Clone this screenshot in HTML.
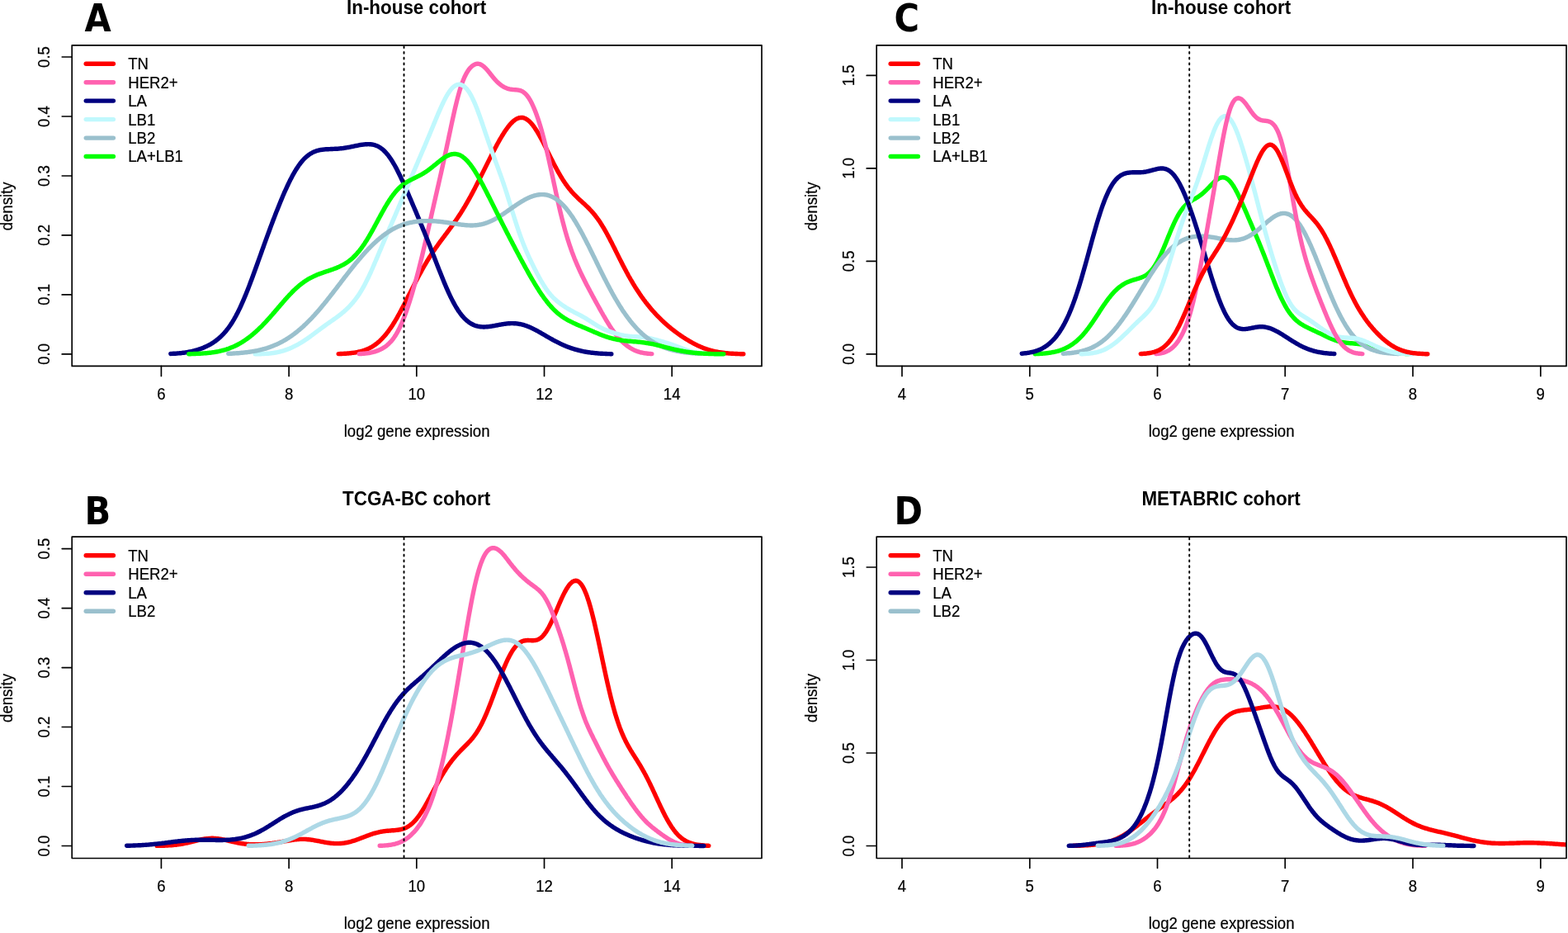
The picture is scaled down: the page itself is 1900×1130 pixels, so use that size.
<!DOCTYPE html>
<html lang="en"><head><meta charset="utf-8"><title>Density of log2 gene expression by cohort</title>
<style>
html,body{margin:0;padding:0;background:#fff}
body{width:1900px;height:1130px;overflow:hidden}
svg{display:block;filter:blur(0.55px)}
svg text{font-family:"Liberation Sans",sans-serif;fill:#000}
</style></head>
<body>
<svg width="1900" height="1130" viewBox="0 0 1900 1130">
<rect width="1900" height="1130" fill="#fff"/>
<g id="panel-A">
<clipPath id="clipA"><rect x="87.2" y="54.8" width="835.8" height="388.6"/></clipPath>
<g clip-path="url(#clipA)" fill="none" stroke-width="5.4" stroke-linecap="round" stroke-linejoin="round">
<path d="M410.2,428.6 411.2,428.6 412.2,428.5 413.2,428.5 414.2,428.5 415.2,428.4 416.2,428.4 417.2,428.3 418.2,428.2 419.2,428.2 420.2,428.1 421.2,428.0 422.2,428.0 423.2,427.9 424.2,427.8 425.2,427.7 426.2,427.5 427.2,427.4 428.2,427.3 429.2,427.1 430.2,427.0 431.2,426.8 432.2,426.6 433.2,426.5 434.2,426.2 435.2,426.0 436.2,425.8 437.2,425.5 438.2,425.3 439.2,425.0 440.2,424.7 441.2,424.3 442.2,424.0 443.2,423.6 444.2,423.2 445.2,422.8 446.2,422.3 447.2,421.9 448.2,421.4 449.2,420.8 450.2,420.3 451.2,419.7 452.2,419.1 453.2,418.4 454.2,417.7 455.2,417.0 456.2,416.3 457.2,415.5 458.2,414.6 459.2,413.8 460.2,412.9 461.2,411.9 462.2,410.9 463.2,409.9 464.2,408.8 465.2,407.7 466.2,406.6 467.2,405.4 468.2,404.2 469.2,402.9 470.2,401.6 471.2,400.2 472.2,398.8 473.2,397.4 474.2,395.9 475.2,394.4 476.2,392.9 477.2,391.3 478.2,389.7 479.2,388.0 480.2,386.3 481.2,384.6 482.2,382.8 483.2,381.0 484.2,379.2 485.2,377.4 486.2,375.5 487.2,373.6 488.2,371.7 489.2,369.8 490.2,367.9 491.2,365.9 492.2,364.0 493.2,362.0 494.2,360.0 495.2,358.0 496.2,356.1 497.2,354.1 498.2,352.1 499.2,350.1 500.2,348.1 501.2,346.2 502.2,344.2 503.2,342.3 504.2,340.3 505.2,338.4 506.2,336.5 507.2,334.6 508.2,332.7 509.2,330.9 510.2,329.1 511.2,327.3 512.2,325.5 513.2,323.7 514.2,322.0 515.2,320.2 516.2,318.6 517.2,316.9 518.2,315.2 519.2,313.6 520.2,312.0 521.2,310.4 522.2,308.9 523.2,307.3 524.2,305.8 525.2,304.3 526.2,302.9 527.2,301.4 528.2,300.0 529.2,298.6 530.2,297.2 531.2,295.8 532.2,294.4 533.2,293.0 534.2,291.7 535.2,290.3 536.2,289.0 537.2,287.6 538.2,286.3 539.2,285.0 540.2,283.6 541.2,282.3 542.2,281.0 543.2,279.6 544.2,278.3 545.2,276.9 546.2,275.6 547.2,274.2 548.2,272.8 549.2,271.5 550.2,270.0 551.2,268.6 552.2,267.2 553.2,265.7 554.2,264.3 555.2,262.8 556.2,261.3 557.2,259.7 558.2,258.2 559.2,256.6 560.2,255.0 561.2,253.4 562.2,251.7 563.2,250.1 564.2,248.4 565.2,246.7 566.2,244.9 567.2,243.2 568.2,241.4 569.2,239.6 570.2,237.8 571.2,235.9 572.2,234.1 573.2,232.2 574.2,230.3 575.2,228.4 576.2,226.4 577.2,224.5 578.2,222.5 579.2,220.6 580.2,218.6 581.2,216.6 582.2,214.6 583.2,212.6 584.2,210.6 585.2,208.6 586.2,206.6 587.2,204.6 588.2,202.6 589.2,200.6 590.2,198.6 591.2,196.6 592.2,194.6 593.2,192.6 594.2,190.6 595.2,188.7 596.2,186.7 597.2,184.8 598.2,182.8 599.2,180.9 600.2,179.0 601.2,177.2 602.2,175.3 603.2,173.5 604.2,171.7 605.2,169.9 606.2,168.2 607.2,166.5 608.2,164.8 609.2,163.2 610.2,161.6 611.2,160.0 612.2,158.5 613.2,157.1 614.2,155.7 615.2,154.3 616.2,153.0 617.2,151.8 618.2,150.6 619.2,149.5 620.2,148.5 621.2,147.5 622.2,146.6 623.2,145.8 624.2,145.1 625.2,144.4 626.2,143.9 627.2,143.4 628.2,143.0 629.2,142.7 630.2,142.6 631.2,142.5 632.2,142.5 633.2,142.5 634.2,142.7 635.2,143.0 636.2,143.4 637.2,143.9 638.2,144.5 639.2,145.2 640.2,145.9 641.2,146.8 642.2,147.7 643.2,148.8 644.2,149.9 645.2,151.1 646.2,152.4 647.2,153.8 648.2,155.2 649.2,156.7 650.2,158.3 651.2,159.9 652.2,161.6 653.2,163.3 654.2,165.1 655.2,166.9 656.2,168.8 657.2,170.7 658.2,172.6 659.2,174.6 660.2,176.6 661.2,178.6 662.2,180.6 663.2,182.6 664.2,184.6 665.2,186.6 666.2,188.7 667.2,190.7 668.2,192.7 669.2,194.6 670.2,196.6 671.2,198.6 672.2,200.5 673.2,202.4 674.2,204.2 675.2,206.1 676.2,207.9 677.2,209.7 678.2,211.4 679.2,213.1 680.2,214.8 681.2,216.4 682.2,218.0 683.2,219.5 684.2,221.0 685.2,222.4 686.2,223.9 687.2,225.2 688.2,226.6 689.2,227.9 690.2,229.1 691.2,230.3 692.2,231.5 693.2,232.7 694.2,233.8 695.2,234.9 696.2,235.9 697.2,236.9 698.2,237.9 699.2,238.9 700.2,239.9 701.2,240.8 702.2,241.8 703.2,242.7 704.2,243.6 705.2,244.5 706.2,245.4 707.2,246.3 708.2,247.2 709.2,248.2 710.2,249.1 711.2,250.1 712.2,251.0 713.2,252.0 714.2,253.0 715.2,254.1 716.2,255.1 717.2,256.2 718.2,257.4 719.2,258.5 720.2,259.8 721.2,261.0 722.2,262.3 723.2,263.6 724.2,265.0 725.2,266.4 726.2,267.8 727.2,269.3 728.2,270.9 729.2,272.5 730.2,274.1 731.2,275.7 732.2,277.4 733.2,279.2 734.2,280.9 735.2,282.7 736.2,284.6 737.2,286.4 738.2,288.3 739.2,290.2 740.2,292.2 741.2,294.1 742.2,296.1 743.2,298.1 744.2,300.0 745.2,302.0 746.2,304.1 747.2,306.1 748.2,308.1 749.2,310.1 750.2,312.1 751.2,314.1 752.2,316.0 753.2,318.0 754.2,320.0 755.2,321.9 756.2,323.8 757.2,325.7 758.2,327.6 759.2,329.5 760.2,331.3 761.2,333.2 762.2,335.0 763.2,336.7 764.2,338.5 765.2,340.2 766.2,341.9 767.2,343.6 768.2,345.2 769.2,346.9 770.2,348.5 771.2,350.0 772.2,351.6 773.2,353.1 774.2,354.6 775.2,356.1 776.2,357.5 777.2,359.0 778.2,360.4 779.2,361.7 780.2,363.1 781.2,364.4 782.2,365.8 783.2,367.1 784.2,368.3 785.2,369.6 786.2,370.8 787.2,372.0 788.2,373.2 789.2,374.4 790.2,375.6 791.2,376.7 792.2,377.8 793.2,378.9 794.2,380.0 795.2,381.1 796.2,382.1 797.2,383.2 798.2,384.2 799.2,385.2 800.2,386.2 801.2,387.2 802.2,388.1 803.2,389.1 804.2,390.0 805.2,390.9 806.2,391.8 807.2,392.7 808.2,393.6 809.2,394.4 810.2,395.3 811.2,396.1 812.2,396.9 813.2,397.8 814.2,398.6 815.2,399.3 816.2,400.1 817.2,400.9 818.2,401.7 819.2,402.4 820.2,403.1 821.2,403.9 822.2,404.6 823.2,405.3 824.2,406.0 825.2,406.7 826.2,407.4 827.2,408.0 828.2,408.7 829.2,409.3 830.2,410.0 831.2,410.6 832.2,411.2 833.2,411.8 834.2,412.4 835.2,413.0 836.2,413.6 837.2,414.2 838.2,414.7 839.2,415.3 840.2,415.8 841.2,416.4 842.2,416.9 843.2,417.4 844.2,417.9 845.2,418.4 846.2,418.8 847.2,419.3 848.2,419.7 849.2,420.2 850.2,420.6 851.2,421.0 852.2,421.4 853.2,421.8 854.2,422.1 855.2,422.5 856.2,422.8 857.2,423.2 858.2,423.5 859.2,423.8 860.2,424.1 861.2,424.4 862.2,424.6 863.2,424.9 864.2,425.1 865.2,425.4 866.2,425.6 867.2,425.8 868.2,426.0 869.2,426.2 870.2,426.4 871.2,426.6 872.2,426.7 873.2,426.9 874.2,427.0 875.2,427.2 876.2,427.3 877.2,427.4 878.2,427.5 879.2,427.6 880.2,427.7 881.2,427.8 882.2,427.9 883.2,428.0 884.2,428.1 885.2,428.1 886.2,428.2 887.2,428.3 888.2,428.3 889.2,428.4 890.2,428.4 891.2,428.5 892.2,428.5 893.2,428.5 894.2,428.6 895.2,428.6 896.2,428.6 897.2,428.7 898.2,428.7 899.2,428.7 900.2,428.7 900.8,428.7" stroke="#ff0000"/>
<path d="M435.2,428.6 436.2,428.6 437.2,428.5 438.2,428.5 439.2,428.4 440.2,428.3 441.2,428.2 442.2,428.1 443.2,428.0 444.2,427.9 445.2,427.8 446.2,427.6 447.2,427.5 448.2,427.3 449.2,427.1 450.2,426.9 451.2,426.7 452.2,426.4 453.2,426.2 454.2,425.9 455.2,425.6 456.2,425.2 457.2,424.9 458.2,424.5 459.2,424.1 460.2,423.6 461.2,423.2 462.2,422.7 463.2,422.1 464.2,421.5 465.2,420.9 466.2,420.3 467.2,419.6 468.2,418.8 469.2,418.0 470.2,417.1 471.2,416.2 472.2,415.2 473.2,414.2 474.2,413.1 475.2,411.9 476.2,410.6 477.2,409.2 478.2,407.8 479.2,406.2 480.2,404.6 481.2,402.9 482.2,401.0 483.2,399.1 484.2,397.1 485.2,395.0 486.2,392.8 487.2,390.5 488.2,388.1 489.2,385.6 490.2,383.0 491.2,380.3 492.2,377.5 493.2,374.7 494.2,371.7 495.2,368.7 496.2,365.6 497.2,362.5 498.2,359.3 499.2,356.0 500.2,352.6 501.2,349.1 502.2,345.6 503.2,342.1 504.2,338.4 505.2,334.7 506.2,330.9 507.2,327.1 508.2,323.2 509.2,319.2 510.2,315.2 511.2,311.1 512.2,306.9 513.2,302.7 514.2,298.5 515.2,294.2 516.2,289.8 517.2,285.5 518.2,281.1 519.2,276.7 520.2,272.2 521.2,267.8 522.2,263.4 523.2,258.9 524.2,254.5 525.2,250.1 526.2,245.7 527.2,241.3 528.2,236.9 529.2,232.6 530.2,228.2 531.2,223.8 532.2,219.4 533.2,215.0 534.2,210.6 535.2,206.1 536.2,201.6 537.2,197.1 538.2,192.5 539.2,187.9 540.2,183.3 541.2,178.6 542.2,173.9 543.2,169.2 544.2,164.4 545.2,159.7 546.2,155.0 547.2,150.3 548.2,145.6 549.2,141.1 550.2,136.6 551.2,132.2 552.2,128.0 553.2,123.8 554.2,119.9 555.2,116.1 556.2,112.5 557.2,109.1 558.2,105.9 559.2,102.8 560.2,100.0 561.2,97.4 562.2,95.0 563.2,92.7 564.2,90.7 565.2,88.8 566.2,87.1 567.2,85.5 568.2,84.1 569.2,82.9 570.2,81.8 571.2,80.8 572.2,79.9 573.2,79.2 574.2,78.6 575.2,78.1 576.2,77.7 577.2,77.4 578.2,77.3 579.2,77.3 580.2,77.4 581.2,77.6 582.2,78.0 583.2,78.5 584.2,79.1 585.2,79.8 586.2,80.6 587.2,81.5 588.2,82.4 589.2,83.5 590.2,84.6 591.2,85.8 592.2,87.0 593.2,88.2 594.2,89.5 595.2,90.8 596.2,92.0 597.2,93.2 598.2,94.4 599.2,95.6 600.2,96.7 601.2,97.8 602.2,98.8 603.2,99.8 604.2,100.7 605.2,101.6 606.2,102.4 607.2,103.2 608.2,103.9 609.2,104.5 610.2,105.1 611.2,105.7 612.2,106.1 613.2,106.6 614.2,107.0 615.2,107.3 616.2,107.6 617.2,107.9 618.2,108.1 619.2,108.2 620.2,108.4 621.2,108.5 622.2,108.6 623.2,108.6 624.2,108.7 625.2,108.8 626.2,108.9 627.2,109.0 628.2,109.1 629.2,109.3 630.2,109.6 631.2,109.9 632.2,110.4 633.2,110.9 634.2,111.5 635.2,112.3 636.2,113.1 637.2,114.1 638.2,115.2 639.2,116.5 640.2,117.8 641.2,119.4 642.2,121.0 643.2,122.8 644.2,124.7 645.2,126.8 646.2,129.0 647.2,131.3 648.2,133.7 649.2,136.3 650.2,139.0 651.2,141.8 652.2,144.7 653.2,147.8 654.2,151.0 655.2,154.3 656.2,157.8 657.2,161.4 658.2,165.1 659.2,168.9 660.2,172.8 661.2,176.9 662.2,181.1 663.2,185.3 664.2,189.7 665.2,194.1 666.2,198.6 667.2,203.2 668.2,207.8 669.2,212.4 670.2,217.0 671.2,221.7 672.2,226.3 673.2,231.0 674.2,235.5 675.2,240.1 676.2,244.5 677.2,248.9 678.2,253.3 679.2,257.5 680.2,261.6 681.2,265.6 682.2,269.5 683.2,273.3 684.2,277.0 685.2,280.6 686.2,284.0 687.2,287.4 688.2,290.6 689.2,293.8 690.2,296.8 691.2,299.7 692.2,302.6 693.2,305.4 694.2,308.0 695.2,310.6 696.2,313.2 697.2,315.6 698.2,318.0 699.2,320.4 700.2,322.7 701.2,324.9 702.2,327.1 703.2,329.3 704.2,331.4 705.2,333.5 706.2,335.5 707.2,337.5 708.2,339.5 709.2,341.5 710.2,343.5 711.2,345.4 712.2,347.3 713.2,349.2 714.2,351.1 715.2,353.0 716.2,354.8 717.2,356.7 718.2,358.6 719.2,360.4 720.2,362.2 721.2,364.1 722.2,365.9 723.2,367.7 724.2,369.5 725.2,371.3 726.2,373.1 727.2,374.9 728.2,376.7 729.2,378.5 730.2,380.2 731.2,382.0 732.2,383.7 733.2,385.4 734.2,387.1 735.2,388.8 736.2,390.4 737.2,392.0 738.2,393.6 739.2,395.2 740.2,396.7 741.2,398.2 742.2,399.6 743.2,401.0 744.2,402.4 745.2,403.7 746.2,405.0 747.2,406.3 748.2,407.5 749.2,408.7 750.2,409.8 751.2,410.9 752.2,411.9 753.2,413.0 754.2,413.9 755.2,414.9 756.2,415.8 757.2,416.6 758.2,417.5 759.2,418.3 760.2,419.0 761.2,419.8 762.2,420.4 763.2,421.1 764.2,421.7 765.2,422.3 766.2,422.9 767.2,423.4 768.2,423.9 769.2,424.3 770.2,424.8 771.2,425.2 772.2,425.5 773.2,425.9 774.2,426.2 775.2,426.5 776.2,426.8 777.2,427.0 778.2,427.2 779.2,427.4 780.2,427.6 781.2,427.8 782.2,427.9 783.2,428.0 784.2,428.2 785.2,428.3 786.2,428.4 787.2,428.4 788.2,428.5 789.2,428.6 789.8,428.6" stroke="#ff62b0"/>
<path d="M206.8,428.5 207.8,428.4 208.8,428.4 209.8,428.3 210.8,428.3 211.8,428.2 212.8,428.2 213.8,428.1 214.8,428.0 215.8,427.9 216.8,427.9 217.8,427.8 218.8,427.7 219.8,427.6 220.8,427.4 221.8,427.3 222.8,427.2 223.8,427.1 224.8,426.9 225.8,426.8 226.8,426.6 227.8,426.4 228.8,426.2 229.8,426.0 230.8,425.8 231.8,425.6 232.8,425.4 233.8,425.2 234.8,424.9 235.8,424.7 236.8,424.4 237.8,424.1 238.8,423.8 239.8,423.5 240.8,423.2 241.8,422.9 242.8,422.5 243.8,422.2 244.8,421.8 245.8,421.4 246.8,421.0 247.8,420.5 248.8,420.1 249.8,419.6 250.8,419.2 251.8,418.7 252.8,418.2 253.8,417.6 254.8,417.1 255.8,416.5 256.8,415.9 257.8,415.3 258.8,414.6 259.8,413.9 260.8,413.2 261.8,412.5 262.8,411.7 263.8,410.9 264.8,410.1 265.8,409.2 266.8,408.4 267.8,407.4 268.8,406.4 269.8,405.4 270.8,404.4 271.8,403.3 272.8,402.1 273.8,401.0 274.8,399.7 275.8,398.4 276.8,397.1 277.8,395.7 278.8,394.3 279.8,392.8 280.8,391.2 281.8,389.7 282.8,388.0 283.8,386.3 284.8,384.5 285.8,382.7 286.8,380.8 287.8,378.9 288.8,376.9 289.8,374.9 290.8,372.8 291.8,370.6 292.8,368.4 293.8,366.2 294.8,363.9 295.8,361.5 296.8,359.1 297.8,356.7 298.8,354.2 299.8,351.7 300.8,349.2 301.8,346.6 302.8,344.0 303.8,341.3 304.8,338.7 305.8,336.0 306.8,333.3 307.8,330.5 308.8,327.8 309.8,325.0 310.8,322.3 311.8,319.5 312.8,316.7 313.8,313.9 314.8,311.1 315.8,308.3 316.8,305.5 317.8,302.7 318.8,300.0 319.8,297.2 320.8,294.4 321.8,291.6 322.8,288.9 323.8,286.1 324.8,283.4 325.8,280.7 326.8,278.0 327.8,275.3 328.8,272.6 329.8,270.0 330.8,267.3 331.8,264.7 332.8,262.1 333.8,259.5 334.8,256.9 335.8,254.4 336.8,251.9 337.8,249.4 338.8,246.9 339.8,244.5 340.8,242.1 341.8,239.7 342.8,237.3 343.8,235.0 344.8,232.7 345.8,230.5 346.8,228.3 347.8,226.1 348.8,224.0 349.8,221.9 350.8,219.8 351.8,217.8 352.8,215.9 353.8,214.0 354.8,212.1 355.8,210.3 356.8,208.6 357.8,206.9 358.8,205.3 359.8,203.7 360.8,202.2 361.8,200.7 362.8,199.3 363.8,198.0 364.8,196.7 365.8,195.5 366.8,194.3 367.8,193.2 368.8,192.2 369.8,191.2 370.8,190.3 371.8,189.4 372.8,188.6 373.8,187.8 374.8,187.1 375.8,186.4 376.8,185.8 377.8,185.3 378.8,184.7 379.8,184.2 380.8,183.8 381.8,183.4 382.8,183.0 383.8,182.7 384.8,182.4 385.8,182.2 386.8,181.9 387.8,181.7 388.8,181.5 389.8,181.4 390.8,181.2 391.8,181.1 392.8,181.0 393.8,180.9 394.8,180.8 395.8,180.8 396.8,180.7 397.8,180.7 398.8,180.6 399.8,180.6 400.8,180.5 401.8,180.5 402.8,180.5 403.8,180.4 404.8,180.4 405.8,180.3 406.8,180.3 407.8,180.2 408.8,180.2 409.8,180.1 410.8,180.0 411.8,179.9 412.8,179.8 413.8,179.7 414.8,179.6 415.8,179.5 416.8,179.3 417.8,179.2 418.8,179.0 419.8,178.9 420.8,178.7 421.8,178.5 422.8,178.3 423.8,178.1 424.8,178.0 425.8,177.7 426.8,177.5 427.8,177.3 428.8,177.1 429.8,176.9 430.8,176.7 431.8,176.5 432.8,176.3 433.8,176.1 434.8,175.9 435.8,175.7 436.8,175.5 437.8,175.4 438.8,175.2 439.8,175.1 440.8,175.0 441.8,174.9 442.8,174.8 443.8,174.7 444.8,174.7 445.8,174.6 446.8,174.6 447.8,174.7 448.8,174.7 449.8,174.8 450.8,175.0 451.8,175.2 452.8,175.4 453.8,175.6 454.8,176.0 455.8,176.3 456.8,176.7 457.8,177.2 458.8,177.7 459.8,178.3 460.8,178.9 461.8,179.6 462.8,180.3 463.8,181.1 464.8,182.0 465.8,183.0 466.8,184.0 467.8,185.1 468.8,186.2 469.8,187.4 470.8,188.7 471.8,190.1 472.8,191.5 473.8,193.0 474.8,194.5 475.8,196.1 476.8,197.8 477.8,199.5 478.8,201.3 479.8,203.1 480.8,205.0 481.8,207.0 482.8,209.0 483.8,211.0 484.8,213.0 485.8,215.1 486.8,217.3 487.8,219.4 488.8,221.6 489.8,223.8 490.8,226.1 491.8,228.3 492.8,230.6 493.8,232.9 494.8,235.2 495.8,237.5 496.8,239.8 497.8,242.1 498.8,244.5 499.8,246.8 500.8,249.2 501.8,251.5 502.8,253.9 503.8,256.2 504.8,258.6 505.8,261.0 506.8,263.4 507.8,265.8 508.8,268.2 509.8,270.6 510.8,273.0 511.8,275.4 512.8,277.9 513.8,280.3 514.8,282.8 515.8,285.3 516.8,287.8 517.8,290.3 518.8,292.8 519.8,295.3 520.8,297.8 521.8,300.4 522.8,302.9 523.8,305.5 524.8,308.1 525.8,310.6 526.8,313.2 527.8,315.8 528.8,318.4 529.8,320.9 530.8,323.5 531.8,326.1 532.8,328.6 533.8,331.1 534.8,333.6 535.8,336.1 536.8,338.6 537.8,341.0 538.8,343.4 539.8,345.8 540.8,348.1 541.8,350.4 542.8,352.6 543.8,354.8 544.8,357.0 545.8,359.1 546.8,361.1 547.8,363.1 548.8,365.0 549.8,366.9 550.8,368.7 551.8,370.5 552.8,372.2 553.8,373.8 554.8,375.4 555.8,376.9 556.8,378.3 557.8,379.7 558.8,381.0 559.8,382.2 560.8,383.4 561.8,384.5 562.8,385.6 563.8,386.6 564.8,387.5 565.8,388.4 566.8,389.2 567.8,390.0 568.8,390.7 569.8,391.4 570.8,392.0 571.8,392.5 572.8,393.0 573.8,393.5 574.8,393.9 575.8,394.3 576.8,394.6 577.8,394.9 578.8,395.2 579.8,395.4 580.8,395.5 581.8,395.7 582.8,395.8 583.8,395.9 584.8,395.9 585.8,396.0 586.8,396.0 587.8,395.9 588.8,395.9 589.8,395.8 590.8,395.7 591.8,395.6 592.8,395.5 593.8,395.4 594.8,395.2 595.8,395.1 596.8,394.9 597.8,394.7 598.8,394.6 599.8,394.4 600.8,394.2 601.8,394.0 602.8,393.8 603.8,393.6 604.8,393.4 605.8,393.2 606.8,393.1 607.8,392.9 608.8,392.7 609.8,392.6 610.8,392.4 611.8,392.3 612.8,392.1 613.8,392.0 614.8,391.9 615.8,391.8 616.8,391.7 617.8,391.7 618.8,391.6 619.8,391.6 620.8,391.6 621.8,391.6 622.8,391.7 623.8,391.7 624.8,391.8 625.8,391.9 626.8,392.0 627.8,392.1 628.8,392.3 629.8,392.5 630.8,392.7 631.8,392.9 632.8,393.1 633.8,393.4 634.8,393.7 635.8,394.0 636.8,394.3 637.8,394.7 638.8,395.0 639.8,395.4 640.8,395.8 641.8,396.2 642.8,396.7 643.8,397.1 644.8,397.6 645.8,398.1 646.8,398.6 647.8,399.1 648.8,399.6 649.8,400.1 650.8,400.7 651.8,401.2 652.8,401.8 653.8,402.3 654.8,402.9 655.8,403.5 656.8,404.1 657.8,404.6 658.8,405.2 659.8,405.8 660.8,406.4 661.8,407.0 662.8,407.6 663.8,408.1 664.8,408.7 665.8,409.3 666.8,409.9 667.8,410.4 668.8,411.0 669.8,411.5 670.8,412.1 671.8,412.6 672.8,413.2 673.8,413.7 674.8,414.2 675.8,414.7 676.8,415.2 677.8,415.7 678.8,416.2 679.8,416.6 680.8,417.1 681.8,417.6 682.8,418.0 683.8,418.4 684.8,418.8 685.8,419.3 686.8,419.7 687.8,420.1 688.8,420.4 689.8,420.8 690.8,421.2 691.8,421.5 692.8,421.9 693.8,422.2 694.8,422.5 695.8,422.8 696.8,423.1 697.8,423.4 698.8,423.7 699.8,424.0 700.8,424.2 701.8,424.5 702.8,424.7 703.8,425.0 704.8,425.2 705.8,425.4 706.8,425.6 707.8,425.8 708.8,426.0 709.8,426.2 710.8,426.3 711.8,426.5 712.8,426.7 713.8,426.8 714.8,426.9 715.8,427.1 716.8,427.2 717.8,427.3 718.8,427.4 719.8,427.5 720.8,427.6 721.8,427.7 722.8,427.8 723.8,427.9 724.8,428.0 725.8,428.1 726.8,428.1 727.8,428.2 728.8,428.2 729.8,428.3 730.8,428.4 731.8,428.4 732.8,428.4 733.8,428.5 734.8,428.5 735.8,428.6 736.8,428.6 737.8,428.6 738.8,428.6 739.8,428.7 740.8,428.7" stroke="#000080"/>
<path d="M309.2,428.8 310.2,428.8 311.2,428.8 312.2,428.8 313.2,428.7 314.2,428.7 315.2,428.7 316.2,428.7 317.2,428.6 318.2,428.6 319.2,428.5 320.2,428.5 321.2,428.4 322.2,428.4 323.2,428.3 324.2,428.2 325.2,428.2 326.2,428.1 327.2,428.0 328.2,427.9 329.2,427.7 330.2,427.6 331.2,427.5 332.2,427.3 333.2,427.2 334.2,427.0 335.2,426.8 336.2,426.6 337.2,426.4 338.2,426.2 339.2,426.0 340.2,425.7 341.2,425.4 342.2,425.2 343.2,424.9 344.2,424.6 345.2,424.2 346.2,423.9 347.2,423.5 348.2,423.2 349.2,422.8 350.2,422.4 351.2,422.0 352.2,421.6 353.2,421.1 354.2,420.7 355.2,420.2 356.2,419.7 357.2,419.2 358.2,418.7 359.2,418.2 360.2,417.6 361.2,417.1 362.2,416.5 363.2,415.9 364.2,415.4 365.2,414.7 366.2,414.1 367.2,413.5 368.2,412.9 369.2,412.2 370.2,411.5 371.2,410.9 372.2,410.2 373.2,409.5 374.2,408.8 375.2,408.1 376.2,407.3 377.2,406.6 378.2,405.9 379.2,405.1 380.2,404.4 381.2,403.6 382.2,402.9 383.2,402.1 384.2,401.4 385.2,400.6 386.2,399.9 387.2,399.2 388.2,398.4 389.2,397.7 390.2,396.9 391.2,396.2 392.2,395.5 393.2,394.8 394.2,394.0 395.2,393.3 396.2,392.6 397.2,391.9 398.2,391.2 399.2,390.5 400.2,389.8 401.2,389.1 402.2,388.4 403.2,387.7 404.2,387.0 405.2,386.3 406.2,385.6 407.2,384.9 408.2,384.2 409.2,383.4 410.2,382.7 411.2,381.9 412.2,381.1 413.2,380.3 414.2,379.5 415.2,378.7 416.2,377.9 417.2,377.0 418.2,376.1 419.2,375.2 420.2,374.2 421.2,373.3 422.2,372.3 423.2,371.3 424.2,370.2 425.2,369.1 426.2,368.0 427.2,366.9 428.2,365.7 429.2,364.4 430.2,363.2 431.2,361.9 432.2,360.5 433.2,359.1 434.2,357.7 435.2,356.2 436.2,354.6 437.2,353.0 438.2,351.4 439.2,349.7 440.2,347.9 441.2,346.1 442.2,344.2 443.2,342.3 444.2,340.3 445.2,338.3 446.2,336.3 447.2,334.1 448.2,332.0 449.2,329.8 450.2,327.5 451.2,325.3 452.2,323.0 453.2,320.7 454.2,318.3 455.2,316.0 456.2,313.6 457.2,311.3 458.2,308.9 459.2,306.5 460.2,304.1 461.2,301.8 462.2,299.4 463.2,297.0 464.2,294.7 465.2,292.4 466.2,290.0 467.2,287.7 468.2,285.4 469.2,283.1 470.2,280.8 471.2,278.5 472.2,276.1 473.2,273.8 474.2,271.5 475.2,269.2 476.2,266.9 477.2,264.6 478.2,262.3 479.2,260.0 480.2,257.7 481.2,255.3 482.2,253.0 483.2,250.6 484.2,248.3 485.2,245.9 486.2,243.6 487.2,241.2 488.2,238.8 489.2,236.5 490.2,234.1 491.2,231.7 492.2,229.4 493.2,227.0 494.2,224.6 495.2,222.3 496.2,219.9 497.2,217.5 498.2,215.2 499.2,212.8 500.2,210.5 501.2,208.1 502.2,205.8 503.2,203.5 504.2,201.1 505.2,198.8 506.2,196.5 507.2,194.2 508.2,191.8 509.2,189.5 510.2,187.2 511.2,184.8 512.2,182.5 513.2,180.1 514.2,177.8 515.2,175.5 516.2,173.1 517.2,170.7 518.2,168.3 519.2,166.0 520.2,163.6 521.2,161.2 522.2,158.8 523.2,156.4 524.2,153.9 525.2,151.5 526.2,149.1 527.2,146.7 528.2,144.3 529.2,141.9 530.2,139.5 531.2,137.2 532.2,134.9 533.2,132.6 534.2,130.3 535.2,128.1 536.2,126.0 537.2,123.9 538.2,121.9 539.2,119.9 540.2,118.0 541.2,116.2 542.2,114.5 543.2,112.9 544.2,111.4 545.2,110.0 546.2,108.7 547.2,107.5 548.2,106.4 549.2,105.5 550.2,104.7 551.2,104.0 552.2,103.4 553.2,102.9 554.2,102.6 555.2,102.4 556.2,102.3 557.2,102.3 558.2,102.5 559.2,102.8 560.2,103.3 561.2,103.8 562.2,104.5 563.2,105.3 564.2,106.3 565.2,107.3 566.2,108.5 567.2,109.9 568.2,111.3 569.2,112.9 570.2,114.6 571.2,116.4 572.2,118.4 573.2,120.5 574.2,122.6 575.2,124.9 576.2,127.3 577.2,129.8 578.2,132.3 579.2,135.0 580.2,137.7 581.2,140.4 582.2,143.3 583.2,146.1 584.2,149.0 585.2,152.0 586.2,154.9 587.2,157.9 588.2,160.8 589.2,163.8 590.2,166.7 591.2,169.6 592.2,172.5 593.2,175.4 594.2,178.2 595.2,181.0 596.2,183.8 597.2,186.5 598.2,189.2 599.2,192.0 600.2,194.7 601.2,197.4 602.2,200.1 603.2,202.8 604.2,205.5 605.2,208.3 606.2,211.0 607.2,213.8 608.2,216.7 609.2,219.6 610.2,222.5 611.2,225.5 612.2,228.5 613.2,231.6 614.2,234.7 615.2,237.9 616.2,241.1 617.2,244.3 618.2,247.5 619.2,250.8 620.2,254.0 621.2,257.3 622.2,260.5 623.2,263.7 624.2,266.9 625.2,270.0 626.2,273.1 627.2,276.1 628.2,279.1 629.2,282.0 630.2,284.8 631.2,287.6 632.2,290.3 633.2,292.9 634.2,295.5 635.2,298.0 636.2,300.4 637.2,302.8 638.2,305.1 639.2,307.4 640.2,309.6 641.2,311.8 642.2,313.9 643.2,316.0 644.2,318.1 645.2,320.2 646.2,322.2 647.2,324.2 648.2,326.2 649.2,328.1 650.2,330.1 651.2,332.0 652.2,333.8 653.2,335.7 654.2,337.5 655.2,339.3 656.2,341.0 657.2,342.7 658.2,344.4 659.2,346.0 660.2,347.6 661.2,349.1 662.2,350.5 663.2,351.9 664.2,353.3 665.2,354.6 666.2,355.8 667.2,357.0 668.2,358.1 669.2,359.2 670.2,360.3 671.2,361.3 672.2,362.2 673.2,363.1 674.2,364.0 675.2,364.9 676.2,365.7 677.2,366.5 678.2,367.2 679.2,368.0 680.2,368.7 681.2,369.4 682.2,370.1 683.2,370.7 684.2,371.4 685.2,372.0 686.2,372.7 687.2,373.3 688.2,373.9 689.2,374.5 690.2,375.0 691.2,375.6 692.2,376.1 693.2,376.7 694.2,377.2 695.2,377.8 696.2,378.3 697.2,378.8 698.2,379.3 699.2,379.8 700.2,380.4 701.2,380.9 702.2,381.4 703.2,381.9 704.2,382.5 705.2,383.0 706.2,383.6 707.2,384.2 708.2,384.7 709.2,385.3 710.2,385.9 711.2,386.5 712.2,387.2 713.2,387.8 714.2,388.4 715.2,389.1 716.2,389.7 717.2,390.3 718.2,391.0 719.2,391.6 720.2,392.3 721.2,392.9 722.2,393.5 723.2,394.1 724.2,394.7 725.2,395.3 726.2,395.8 727.2,396.4 728.2,396.9 729.2,397.4 730.2,397.9 731.2,398.4 732.2,398.8 733.2,399.3 734.2,399.7 735.2,400.1 736.2,400.5 737.2,400.9 738.2,401.2 739.2,401.6 740.2,401.9 741.2,402.3 742.2,402.6 743.2,402.9 744.2,403.3 745.2,403.6 746.2,403.9 747.2,404.2 748.2,404.4 749.2,404.7 750.2,405.0 751.2,405.3 752.2,405.5 753.2,405.8 754.2,406.0 755.2,406.2 756.2,406.4 757.2,406.6 758.2,406.7 759.2,406.9 760.2,407.0 761.2,407.2 762.2,407.3 763.2,407.4 764.2,407.5 765.2,407.5 766.2,407.6 767.2,407.7 768.2,407.7 769.2,407.8 770.2,407.8 771.2,407.8 772.2,407.9 773.2,407.9 774.2,408.0 775.2,408.0 776.2,408.1 777.2,408.2 778.2,408.3 779.2,408.4 780.2,408.5 781.2,408.6 782.2,408.8 783.2,408.9 784.2,409.1 785.2,409.3 786.2,409.5 787.2,409.7 788.2,409.9 789.2,410.1 790.2,410.4 791.2,410.6 792.2,410.9 793.2,411.1 794.2,411.4 795.2,411.7 796.2,411.9 797.2,412.2 798.2,412.5 799.2,412.8 800.2,413.0 801.2,413.3 802.2,413.6 803.2,413.9 804.2,414.2 805.2,414.5 806.2,414.8 807.2,415.1 808.2,415.4 809.2,415.7 810.2,416.0 811.2,416.3 812.2,416.7 813.2,417.0 814.2,417.3 815.2,417.7 816.2,418.1 817.2,418.4 818.2,418.8 819.2,419.2 820.2,419.5 821.2,419.9 822.2,420.3 823.2,420.7 824.2,421.1 825.2,421.5 826.2,421.9 827.2,422.2 828.2,422.6 829.2,423.0 830.2,423.4 831.2,423.7 832.2,424.1 833.2,424.4 834.2,424.7 835.2,425.0 836.2,425.3 837.2,425.6 838.2,425.9 839.2,426.1 840.2,426.4 841.2,426.6 842.2,426.8 843.2,427.0 844.2,427.2 845.2,427.4 846.2,427.5 847.2,427.7 848.2,427.8 849.2,427.9 850.2,428.0 851.2,428.1 852.2,428.2 853.2,428.3 854.2,428.4 855.2,428.4 856.2,428.5 856.8,428.5" stroke="#c0f8fd"/>
<path d="M276.8,428.3 277.8,428.3 278.8,428.2 279.8,428.2 280.8,428.2 281.8,428.1 282.8,428.0 283.8,428.0 284.8,427.9 285.8,427.9 286.8,427.8 287.8,427.7 288.8,427.7 289.8,427.6 290.8,427.5 291.8,427.4 292.8,427.3 293.8,427.2 294.8,427.1 295.8,427.0 296.8,426.9 297.8,426.8 298.8,426.7 299.8,426.6 300.8,426.4 301.8,426.3 302.8,426.2 303.8,426.0 304.8,425.9 305.8,425.7 306.8,425.5 307.8,425.4 308.8,425.2 309.8,425.0 310.8,424.8 311.8,424.6 312.8,424.4 313.8,424.2 314.8,423.9 315.8,423.7 316.8,423.4 317.8,423.2 318.8,422.9 319.8,422.6 320.8,422.4 321.8,422.1 322.8,421.8 323.8,421.5 324.8,421.1 325.8,420.8 326.8,420.4 327.8,420.1 328.8,419.7 329.8,419.3 330.8,418.9 331.8,418.5 332.8,418.1 333.8,417.7 334.8,417.3 335.8,416.8 336.8,416.3 337.8,415.9 338.8,415.4 339.8,414.9 340.8,414.3 341.8,413.8 342.8,413.3 343.8,412.7 344.8,412.1 345.8,411.6 346.8,411.0 347.8,410.3 348.8,409.7 349.8,409.1 350.8,408.4 351.8,407.7 352.8,407.1 353.8,406.4 354.8,405.6 355.8,404.9 356.8,404.2 357.8,403.4 358.8,402.6 359.8,401.8 360.8,401.0 361.8,400.2 362.8,399.4 363.8,398.5 364.8,397.7 365.8,396.8 366.8,395.9 367.8,395.0 368.8,394.0 369.8,393.1 370.8,392.2 371.8,391.2 372.8,390.2 373.8,389.2 374.8,388.2 375.8,387.2 376.8,386.1 377.8,385.1 378.8,384.0 379.8,382.9 380.8,381.9 381.8,380.8 382.8,379.6 383.8,378.5 384.8,377.4 385.8,376.2 386.8,375.1 387.8,373.9 388.8,372.7 389.8,371.5 390.8,370.3 391.8,369.1 392.8,367.9 393.8,366.6 394.8,365.4 395.8,364.2 396.8,362.9 397.8,361.6 398.8,360.4 399.8,359.1 400.8,357.8 401.8,356.6 402.8,355.3 403.8,354.0 404.8,352.7 405.8,351.4 406.8,350.1 407.8,348.8 408.8,347.5 409.8,346.2 410.8,344.9 411.8,343.6 412.8,342.3 413.8,340.9 414.8,339.6 415.8,338.3 416.8,337.0 417.8,335.7 418.8,334.4 419.8,333.2 420.8,331.9 421.8,330.6 422.8,329.3 423.8,328.0 424.8,326.8 425.8,325.5 426.8,324.3 427.8,323.0 428.8,321.8 429.8,320.5 430.8,319.3 431.8,318.1 432.8,316.9 433.8,315.7 434.8,314.5 435.8,313.4 436.8,312.2 437.8,311.0 438.8,309.9 439.8,308.8 440.8,307.6 441.8,306.5 442.8,305.4 443.8,304.3 444.8,303.3 445.8,302.2 446.8,301.2 447.8,300.1 448.8,299.1 449.8,298.1 450.8,297.1 451.8,296.2 452.8,295.2 453.8,294.3 454.8,293.3 455.8,292.4 456.8,291.5 457.8,290.6 458.8,289.8 459.8,288.9 460.8,288.1 461.8,287.3 462.8,286.5 463.8,285.7 464.8,284.9 465.8,284.2 466.8,283.5 467.8,282.8 468.8,282.1 469.8,281.4 470.8,280.7 471.8,280.1 472.8,279.5 473.8,278.9 474.8,278.3 475.8,277.7 476.8,277.2 477.8,276.6 478.8,276.1 479.8,275.6 480.8,275.1 481.8,274.7 482.8,274.2 483.8,273.8 484.8,273.4 485.8,273.0 486.8,272.6 487.8,272.2 488.8,271.9 489.8,271.6 490.8,271.3 491.8,271.0 492.8,270.7 493.8,270.4 494.8,270.1 495.8,269.9 496.8,269.7 497.8,269.5 498.8,269.3 499.8,269.1 500.8,268.9 501.8,268.7 502.8,268.6 503.8,268.4 504.8,268.3 505.8,268.2 506.8,268.1 507.8,268.0 508.8,267.9 509.8,267.8 510.8,267.8 511.8,267.7 512.8,267.7 513.8,267.6 514.8,267.6 515.8,267.6 516.8,267.6 517.8,267.6 518.8,267.6 519.8,267.6 520.8,267.6 521.8,267.6 522.8,267.7 523.8,267.7 524.8,267.8 525.8,267.8 526.8,267.9 527.8,267.9 528.8,268.0 529.8,268.1 530.8,268.2 531.8,268.3 532.8,268.4 533.8,268.5 534.8,268.6 535.8,268.7 536.8,268.8 537.8,269.0 538.8,269.1 539.8,269.2 540.8,269.4 541.8,269.5 542.8,269.7 543.8,269.8 544.8,270.0 545.8,270.1 546.8,270.3 547.8,270.4 548.8,270.6 549.8,270.7 550.8,270.9 551.8,271.0 552.8,271.2 553.8,271.4 554.8,271.5 555.8,271.7 556.8,271.8 557.8,271.9 558.8,272.1 559.8,272.2 560.8,272.3 561.8,272.4 562.8,272.5 563.8,272.6 564.8,272.7 565.8,272.8 566.8,272.9 567.8,272.9 568.8,272.9 569.8,273.0 570.8,273.0 571.8,273.0 572.8,273.0 573.8,272.9 574.8,272.9 575.8,272.8 576.8,272.7 577.8,272.6 578.8,272.5 579.8,272.4 580.8,272.2 581.8,272.0 582.8,271.8 583.8,271.6 584.8,271.3 585.8,271.1 586.8,270.8 587.8,270.5 588.8,270.2 589.8,269.8 590.8,269.5 591.8,269.1 592.8,268.7 593.8,268.2 594.8,267.8 595.8,267.3 596.8,266.8 597.8,266.3 598.8,265.8 599.8,265.3 600.8,264.7 601.8,264.2 602.8,263.6 603.8,263.0 604.8,262.4 605.8,261.8 606.8,261.1 607.8,260.5 608.8,259.8 609.8,259.2 610.8,258.5 611.8,257.8 612.8,257.1 613.8,256.4 614.8,255.7 615.8,255.0 616.8,254.3 617.8,253.6 618.8,252.9 619.8,252.2 620.8,251.5 621.8,250.8 622.8,250.1 623.8,249.5 624.8,248.8 625.8,248.1 626.8,247.4 627.8,246.8 628.8,246.1 629.8,245.5 630.8,244.9 631.8,244.2 632.8,243.6 633.8,243.1 634.8,242.5 635.8,241.9 636.8,241.4 637.8,240.9 638.8,240.4 639.8,239.9 640.8,239.4 641.8,239.0 642.8,238.6 643.8,238.2 644.8,237.8 645.8,237.5 646.8,237.2 647.8,236.9 648.8,236.6 649.8,236.4 650.8,236.2 651.8,236.0 652.8,235.8 653.8,235.7 654.8,235.6 655.8,235.6 656.8,235.6 657.8,235.6 658.8,235.6 659.8,235.7 660.8,235.9 661.8,236.0 662.8,236.2 663.8,236.5 664.8,236.7 665.8,237.1 666.8,237.4 667.8,237.8 668.8,238.3 669.8,238.7 670.8,239.3 671.8,239.8 672.8,240.4 673.8,241.1 674.8,241.8 675.8,242.5 676.8,243.3 677.8,244.1 678.8,245.0 679.8,245.9 680.8,246.9 681.8,247.9 682.8,248.9 683.8,250.0 684.8,251.1 685.8,252.3 686.8,253.5 687.8,254.8 688.8,256.0 689.8,257.4 690.8,258.8 691.8,260.2 692.8,261.6 693.8,263.1 694.8,264.6 695.8,266.2 696.8,267.8 697.8,269.4 698.8,271.1 699.8,272.8 700.8,274.5 701.8,276.3 702.8,278.1 703.8,279.9 704.8,281.7 705.8,283.6 706.8,285.5 707.8,287.4 708.8,289.3 709.8,291.2 710.8,293.2 711.8,295.2 712.8,297.1 713.8,299.1 714.8,301.2 715.8,303.2 716.8,305.2 717.8,307.2 718.8,309.3 719.8,311.3 720.8,313.4 721.8,315.4 722.8,317.5 723.8,319.5 724.8,321.6 725.8,323.6 726.8,325.7 727.8,327.7 728.8,329.7 729.8,331.7 730.8,333.7 731.8,335.7 732.8,337.7 733.8,339.6 734.8,341.6 735.8,343.5 736.8,345.4 737.8,347.3 738.8,349.2 739.8,351.1 740.8,352.9 741.8,354.8 742.8,356.6 743.8,358.3 744.8,360.1 745.8,361.8 746.8,363.5 747.8,365.2 748.8,366.9 749.8,368.5 750.8,370.2 751.8,371.7 752.8,373.3 753.8,374.9 754.8,376.4 755.8,377.9 756.8,379.3 757.8,380.7 758.8,382.2 759.8,383.5 760.8,384.9 761.8,386.2 762.8,387.5 763.8,388.8 764.8,390.1 765.8,391.3 766.8,392.5 767.8,393.6 768.8,394.8 769.8,395.9 770.8,397.0 771.8,398.1 772.8,399.1 773.8,400.1 774.8,401.1 775.8,402.1 776.8,403.0 777.8,404.0 778.8,404.8 779.8,405.7 780.8,406.6 781.8,407.4 782.8,408.2 783.8,409.0 784.8,409.7 785.8,410.5 786.8,411.2 787.8,411.9 788.8,412.6 789.8,413.2 790.8,413.8 791.8,414.5 792.8,415.1 793.8,415.6 794.8,416.2 795.8,416.7 796.8,417.3 797.8,417.8 798.8,418.2 799.8,418.7 800.8,419.2 801.8,419.6 802.8,420.0 803.8,420.4 804.8,420.8 805.8,421.2 806.8,421.6 807.8,421.9 808.8,422.2 809.8,422.6 810.8,422.9 811.8,423.2 812.8,423.5 813.8,423.7 814.8,424.0 815.8,424.2 816.8,424.5 817.8,424.7 818.8,424.9 819.8,425.1 820.8,425.4 821.8,425.5 822.8,425.7 823.8,425.9 824.8,426.1 825.8,426.2 826.8,426.4 827.8,426.5 828.8,426.7 829.8,426.8 830.8,426.9 831.8,427.0 832.8,427.1 833.8,427.2 834.8,427.3 835.8,427.4 836.8,427.5 837.8,427.6 838.8,427.7 839.8,427.8 840.8,427.8 841.8,427.9 842.8,428.0 843.8,428.0 844.8,428.1 845.8,428.1 846.8,428.2 847.8,428.2 848.8,428.3" stroke="#9ac0cd"/>
<path d="M228.8,428.7 229.8,428.7 230.8,428.7 231.8,428.6 232.8,428.6 233.8,428.6 234.8,428.5 235.8,428.5 236.8,428.5 237.8,428.4 238.8,428.4 239.8,428.4 240.8,428.3 241.8,428.3 242.8,428.2 243.8,428.1 244.8,428.1 245.8,428.0 246.8,427.9 247.8,427.9 248.8,427.8 249.8,427.7 250.8,427.6 251.8,427.5 252.8,427.4 253.8,427.3 254.8,427.2 255.8,427.1 256.8,426.9 257.8,426.8 258.8,426.6 259.8,426.5 260.8,426.3 261.8,426.2 262.8,426.0 263.8,425.8 264.8,425.6 265.8,425.4 266.8,425.1 267.8,424.9 268.8,424.7 269.8,424.4 270.8,424.1 271.8,423.9 272.8,423.6 273.8,423.3 274.8,422.9 275.8,422.6 276.8,422.3 277.8,421.9 278.8,421.5 279.8,421.1 280.8,420.7 281.8,420.3 282.8,419.9 283.8,419.4 284.8,419.0 285.8,418.5 286.8,418.0 287.8,417.5 288.8,417.0 289.8,416.4 290.8,415.9 291.8,415.3 292.8,414.7 293.8,414.1 294.8,413.4 295.8,412.8 296.8,412.1 297.8,411.4 298.8,410.7 299.8,410.0 300.8,409.3 301.8,408.5 302.8,407.8 303.8,407.0 304.8,406.2 305.8,405.4 306.8,404.5 307.8,403.7 308.8,402.8 309.8,401.9 310.8,401.0 311.8,400.1 312.8,399.2 313.8,398.2 314.8,397.2 315.8,396.3 316.8,395.3 317.8,394.3 318.8,393.2 319.8,392.2 320.8,391.1 321.8,390.1 322.8,389.0 323.8,387.9 324.8,386.8 325.8,385.7 326.8,384.6 327.8,383.5 328.8,382.3 329.8,381.2 330.8,380.0 331.8,378.9 332.8,377.7 333.8,376.5 334.8,375.4 335.8,374.2 336.8,373.0 337.8,371.9 338.8,370.7 339.8,369.5 340.8,368.4 341.8,367.2 342.8,366.1 343.8,364.9 344.8,363.8 345.8,362.6 346.8,361.5 347.8,360.4 348.8,359.3 349.8,358.2 350.8,357.1 351.8,356.1 352.8,355.1 353.8,354.0 354.8,353.0 355.8,352.0 356.8,351.1 357.8,350.1 358.8,349.2 359.8,348.3 360.8,347.4 361.8,346.5 362.8,345.7 363.8,344.9 364.8,344.1 365.8,343.3 366.8,342.6 367.8,341.8 368.8,341.1 369.8,340.5 370.8,339.8 371.8,339.2 372.8,338.5 373.8,337.9 374.8,337.4 375.8,336.8 376.8,336.3 377.8,335.8 378.8,335.3 379.8,334.8 380.8,334.3 381.8,333.9 382.8,333.5 383.8,333.0 384.8,332.6 385.8,332.2 386.8,331.9 387.8,331.5 388.8,331.1 389.8,330.8 390.8,330.4 391.8,330.1 392.8,329.7 393.8,329.4 394.8,329.0 395.8,328.7 396.8,328.4 397.8,328.1 398.8,327.7 399.8,327.4 400.8,327.0 401.8,326.7 402.8,326.3 403.8,326.0 404.8,325.6 405.8,325.2 406.8,324.9 407.8,324.5 408.8,324.0 409.8,323.6 410.8,323.2 411.8,322.7 412.8,322.2 413.8,321.7 414.8,321.2 415.8,320.7 416.8,320.1 417.8,319.5 418.8,318.9 419.8,318.3 420.8,317.6 421.8,316.9 422.8,316.2 423.8,315.4 424.8,314.6 425.8,313.8 426.8,312.9 427.8,312.0 428.8,311.0 429.8,310.0 430.8,309.0 431.8,307.9 432.8,306.8 433.8,305.6 434.8,304.4 435.8,303.2 436.8,301.9 437.8,300.6 438.8,299.2 439.8,297.8 440.8,296.4 441.8,294.9 442.8,293.3 443.8,291.8 444.8,290.2 445.8,288.5 446.8,286.9 447.8,285.2 448.8,283.4 449.8,281.7 450.8,279.9 451.8,278.1 452.8,276.3 453.8,274.4 454.8,272.6 455.8,270.7 456.8,268.9 457.8,267.0 458.8,265.1 459.8,263.3 460.8,261.4 461.8,259.6 462.8,257.8 463.8,256.0 464.8,254.2 465.8,252.4 466.8,250.7 467.8,249.0 468.8,247.3 469.8,245.7 470.8,244.1 471.8,242.5 472.8,241.0 473.8,239.6 474.8,238.1 475.8,236.8 476.8,235.4 477.8,234.2 478.8,232.9 479.8,231.8 480.8,230.6 481.8,229.5 482.8,228.5 483.8,227.5 484.8,226.6 485.8,225.7 486.8,224.9 487.8,224.0 488.8,223.3 489.8,222.6 490.8,221.9 491.8,221.2 492.8,220.6 493.8,220.0 494.8,219.4 495.8,218.9 496.8,218.3 497.8,217.8 498.8,217.3 499.8,216.8 500.8,216.3 501.8,215.8 502.8,215.4 503.8,214.9 504.8,214.4 505.8,213.9 506.8,213.4 507.8,212.9 508.8,212.4 509.8,211.8 510.8,211.3 511.8,210.7 512.8,210.1 513.8,209.5 514.8,208.9 515.8,208.2 516.8,207.6 517.8,206.9 518.8,206.2 519.8,205.4 520.8,204.7 521.8,203.9 522.8,203.1 523.8,202.3 524.8,201.5 525.8,200.7 526.8,199.9 527.8,199.1 528.8,198.3 529.8,197.4 530.8,196.6 531.8,195.8 532.8,195.0 533.8,194.2 534.8,193.5 535.8,192.7 536.8,192.0 537.8,191.3 538.8,190.6 539.8,190.0 540.8,189.4 541.8,188.9 542.8,188.4 543.8,188.0 544.8,187.6 545.8,187.2 546.8,187.0 547.8,186.7 548.8,186.6 549.8,186.5 550.8,186.4 551.8,186.5 552.8,186.6 553.8,186.8 554.8,187.0 555.8,187.3 556.8,187.7 557.8,188.2 558.8,188.7 559.8,189.3 560.8,190.0 561.8,190.8 562.8,191.6 563.8,192.5 564.8,193.4 565.8,194.5 566.8,195.5 567.8,196.7 568.8,197.9 569.8,199.2 570.8,200.5 571.8,201.9 572.8,203.3 573.8,204.8 574.8,206.3 575.8,207.9 576.8,209.5 577.8,211.2 578.8,212.9 579.8,214.6 580.8,216.3 581.8,218.1 582.8,219.9 583.8,221.8 584.8,223.6 585.8,225.5 586.8,227.4 587.8,229.4 588.8,231.3 589.8,233.2 590.8,235.2 591.8,237.2 592.8,239.1 593.8,241.1 594.8,243.1 595.8,245.1 596.8,247.1 597.8,249.1 598.8,251.1 599.8,253.1 600.8,255.1 601.8,257.1 602.8,259.1 603.8,261.0 604.8,263.0 605.8,265.0 606.8,267.0 607.8,269.0 608.8,270.9 609.8,272.9 610.8,274.9 611.8,276.8 612.8,278.8 613.8,280.7 614.8,282.7 615.8,284.6 616.8,286.6 617.8,288.5 618.8,290.4 619.8,292.3 620.8,294.3 621.8,296.2 622.8,298.1 623.8,300.0 624.8,301.9 625.8,303.8 626.8,305.7 627.8,307.5 628.8,309.4 629.8,311.3 630.8,313.2 631.8,315.0 632.8,316.9 633.8,318.7 634.8,320.5 635.8,322.4 636.8,324.2 637.8,326.0 638.8,327.8 639.8,329.6 640.8,331.4 641.8,333.1 642.8,334.9 643.8,336.6 644.8,338.3 645.8,340.0 646.8,341.7 647.8,343.4 648.8,345.0 649.8,346.6 650.8,348.2 651.8,349.8 652.8,351.4 653.8,352.9 654.8,354.4 655.8,355.9 656.8,357.4 657.8,358.8 658.8,360.2 659.8,361.6 660.8,362.9 661.8,364.2 662.8,365.5 663.8,366.8 664.8,368.0 665.8,369.2 666.8,370.3 667.8,371.5 668.8,372.5 669.8,373.6 670.8,374.6 671.8,375.6 672.8,376.6 673.8,377.5 674.8,378.4 675.8,379.3 676.8,380.1 677.8,380.9 678.8,381.7 679.8,382.4 680.8,383.2 681.8,383.9 682.8,384.5 683.8,385.2 684.8,385.8 685.8,386.4 686.8,387.0 687.8,387.6 688.8,388.1 689.8,388.7 690.8,389.2 691.8,389.7 692.8,390.2 693.8,390.7 694.8,391.2 695.8,391.6 696.8,392.1 697.8,392.5 698.8,393.0 699.8,393.4 700.8,393.8 701.8,394.3 702.8,394.7 703.8,395.1 704.8,395.5 705.8,396.0 706.8,396.4 707.8,396.8 708.8,397.2 709.8,397.7 710.8,398.1 711.8,398.5 712.8,398.9 713.8,399.4 714.8,399.8 715.8,400.2 716.8,400.7 717.8,401.1 718.8,401.5 719.8,402.0 720.8,402.4 721.8,402.8 722.8,403.2 723.8,403.6 724.8,404.1 725.8,404.5 726.8,404.9 727.8,405.3 728.8,405.7 729.8,406.1 730.8,406.4 731.8,406.8 732.8,407.2 733.8,407.5 734.8,407.9 735.8,408.2 736.8,408.5 737.8,408.8 738.8,409.1 739.8,409.4 740.8,409.7 741.8,410.0 742.8,410.2 743.8,410.5 744.8,410.7 745.8,410.9 746.8,411.1 747.8,411.3 748.8,411.5 749.8,411.7 750.8,411.9 751.8,412.0 752.8,412.2 753.8,412.3 754.8,412.4 755.8,412.6 756.8,412.7 757.8,412.8 758.8,412.9 759.8,413.0 760.8,413.1 761.8,413.2 762.8,413.3 763.8,413.3 764.8,413.4 765.8,413.5 766.8,413.6 767.8,413.7 768.8,413.7 769.8,413.8 770.8,413.9 771.8,414.0 772.8,414.1 773.8,414.2 774.8,414.3 775.8,414.4 776.8,414.5 777.8,414.6 778.8,414.7 779.8,414.9 780.8,415.0 781.8,415.1 782.8,415.3 783.8,415.5 784.8,415.6 785.8,415.8 786.8,416.0 787.8,416.1 788.8,416.3 789.8,416.5 790.8,416.7 791.8,416.9 792.8,417.2 793.8,417.4 794.8,417.6 795.8,417.8 796.8,418.1 797.8,418.3 798.8,418.5 799.8,418.8 800.8,419.0 801.8,419.3 802.8,419.5 803.8,419.8 804.8,420.1 805.8,420.3 806.8,420.6 807.8,420.8 808.8,421.1 809.8,421.3 810.8,421.6 811.8,421.9 812.8,422.1 813.8,422.4 814.8,422.6 815.8,422.8 816.8,423.1 817.8,423.3 818.8,423.5 819.8,423.8 820.8,424.0 821.8,424.2 822.8,424.4 823.8,424.6 824.8,424.8 825.8,425.0 826.8,425.2 827.8,425.4 828.8,425.6 829.8,425.7 830.8,425.9 831.8,426.1 832.8,426.2 833.8,426.4 834.8,426.5 835.8,426.7 836.8,426.8 837.8,426.9 838.8,427.0 839.8,427.1 840.8,427.3 841.8,427.4 842.8,427.5 843.8,427.5 844.8,427.6 845.8,427.7 846.8,427.8 847.8,427.9 848.8,427.9 849.8,428.0 850.8,428.1 851.8,428.1 852.8,428.2 853.8,428.2 854.8,428.3 855.8,428.3 856.8,428.4 857.8,428.4 858.8,428.5 859.8,428.5 860.8,428.5 861.8,428.6 862.8,428.6 863.8,428.6 864.8,428.6 865.8,428.7 866.8,428.7 867.8,428.7 868.8,428.7 869.8,428.7 870.8,428.7 871.8,428.8 872.8,428.8 873.8,428.8 874.8,428.8 875.8,428.8 876.8,428.8" stroke="#00ff00"/>
</g>
<line x1="489.5" y1="56.20" x2="489.5" y2="442.4" stroke="#000" stroke-width="1.95" stroke-linecap="round" stroke-dasharray="1.7 5.055"/>
<g stroke="#000" stroke-width="1.67" fill="none" stroke-linecap="round" stroke-linejoin="round">
<rect x="87.2" y="54.8" width="835.8" height="388.6"/>
<line x1="195.4" y1="443.4" x2="195.4" y2="455.4"/>
<line x1="350.1" y1="443.4" x2="350.1" y2="455.4"/>
<line x1="504.8" y1="443.4" x2="504.8" y2="455.4"/>
<line x1="659.5" y1="443.4" x2="659.5" y2="455.4"/>
<line x1="814.2" y1="443.4" x2="814.2" y2="455.4"/>
<line x1="75.2" y1="428.9" x2="87.2" y2="428.9"/>
<line x1="75.2" y1="356.9" x2="87.2" y2="356.9"/>
<line x1="75.2" y1="284.9" x2="87.2" y2="284.9"/>
<line x1="75.2" y1="213.0" x2="87.2" y2="213.0"/>
<line x1="75.2" y1="141.0" x2="87.2" y2="141.0"/>
<line x1="75.2" y1="69.0" x2="87.2" y2="69.0"/>
</g>
<g stroke="#000" stroke-width="0.2">
<text transform="translate(195.4,484.1) scale(1,1.04)" text-anchor="middle" font-size="18.6">6</text>
<text transform="translate(350.1,484.1) scale(1,1.04)" text-anchor="middle" font-size="18.6">8</text>
<text transform="translate(504.8,484.1) scale(1,1.04)" text-anchor="middle" font-size="18.6">10</text>
<text transform="translate(659.5,484.1) scale(1,1.04)" text-anchor="middle" font-size="18.6">12</text>
<text transform="translate(814.2,484.1) scale(1,1.04)" text-anchor="middle" font-size="18.6">14</text>
<text transform="translate(59.9,428.9) rotate(-90) scale(1,1.04)" text-anchor="middle" font-size="18.6">0.0</text>
<text transform="translate(59.9,356.9) rotate(-90) scale(1,1.04)" text-anchor="middle" font-size="18.6">0.1</text>
<text transform="translate(59.9,284.9) rotate(-90) scale(1,1.04)" text-anchor="middle" font-size="18.6">0.2</text>
<text transform="translate(59.9,213.0) rotate(-90) scale(1,1.04)" text-anchor="middle" font-size="18.6">0.3</text>
<text transform="translate(59.9,141.0) rotate(-90) scale(1,1.04)" text-anchor="middle" font-size="18.6">0.4</text>
<text transform="translate(59.9,69.0) rotate(-90) scale(1,1.04)" text-anchor="middle" font-size="18.6">0.5</text>
<text transform="translate(504.6,16.6) scale(1,1.04)" text-anchor="middle" font-size="22.4" font-weight="bold" stroke="none">In-house cohort</text>
<text transform="translate(505.1,529.0) scale(1,1.04)" text-anchor="middle" font-size="18.6">log2 gene expression</text>
<text transform="translate(15.2,249.9) rotate(-90) scale(1,1.04)" text-anchor="middle" font-size="18.6">density</text>
<text transform="translate(155.2,84.1) scale(1,1.04)" text-anchor="start" font-size="18.6">TN</text>
<text transform="translate(155.2,106.6) scale(1,1.04)" text-anchor="start" font-size="18.6">HER2+</text>
<text transform="translate(155.2,129.0) scale(1,1.04)" text-anchor="start" font-size="18.6">LA</text>
<text transform="translate(155.2,151.5) scale(1,1.04)" text-anchor="start" font-size="18.6">LB1</text>
<text transform="translate(155.2,174.0) scale(1,1.04)" text-anchor="start" font-size="18.6">LB2</text>
<text transform="translate(155.2,196.4) scale(1,1.04)" text-anchor="start" font-size="18.6">LA+LB1</text>
</g>
<text transform="translate(102.5,37.9) scale(0.885,1)" font-size="47" font-weight="bold" style="font-family:'DejaVu Sans','Liberation Sans',sans-serif">A</text>
<g fill="none" stroke-width="5.4" stroke-linecap="round">
<line x1="104.2" y1="77.2" x2="137.4" y2="77.2" stroke="#ff0000"/>
<line x1="104.2" y1="99.7" x2="137.4" y2="99.7" stroke="#ff62b0"/>
<line x1="104.2" y1="122.1" x2="137.4" y2="122.1" stroke="#000080"/>
<line x1="104.2" y1="144.6" x2="137.4" y2="144.6" stroke="#c0f8fd"/>
<line x1="104.2" y1="167.1" x2="137.4" y2="167.1" stroke="#9ac0cd"/>
<line x1="104.2" y1="189.5" x2="137.4" y2="189.5" stroke="#00ff00"/>
</g>
</g>
<g id="panel-C">
<clipPath id="clipC"><rect x="1062.2" y="54.8" width="835.8" height="388.6"/></clipPath>
<g clip-path="url(#clipC)" fill="none" stroke-width="5.4" stroke-linecap="round" stroke-linejoin="round">
<path d="M1254.2,428.7 1255.2,428.6 1256.2,428.6 1257.2,428.6 1258.2,428.5 1259.2,428.5 1260.2,428.4 1261.2,428.3 1262.2,428.3 1263.2,428.2 1264.2,428.1 1265.2,428.1 1266.2,428.0 1267.2,427.9 1268.2,427.8 1269.2,427.6 1270.2,427.5 1271.2,427.4 1272.2,427.2 1273.2,427.1 1274.2,426.9 1275.2,426.7 1276.2,426.5 1277.2,426.3 1278.2,426.1 1279.2,425.9 1280.2,425.6 1281.2,425.4 1282.2,425.1 1283.2,424.8 1284.2,424.5 1285.2,424.1 1286.2,423.8 1287.2,423.4 1288.2,423.0 1289.2,422.6 1290.2,422.1 1291.2,421.7 1292.2,421.2 1293.2,420.7 1294.2,420.1 1295.2,419.6 1296.2,419.0 1297.2,418.4 1298.2,417.7 1299.2,417.1 1300.2,416.4 1301.2,415.6 1302.2,414.9 1303.2,414.1 1304.2,413.3 1305.2,412.4 1306.2,411.5 1307.2,410.6 1308.2,409.6 1309.2,408.6 1310.2,407.6 1311.2,406.6 1312.2,405.5 1313.2,404.3 1314.2,403.2 1315.2,401.9 1316.2,400.7 1317.2,399.4 1318.2,398.1 1319.2,396.8 1320.2,395.4 1321.2,394.1 1322.2,392.6 1323.2,391.2 1324.2,389.7 1325.2,388.3 1326.2,386.8 1327.2,385.3 1328.2,383.7 1329.2,382.2 1330.2,380.7 1331.2,379.2 1332.2,377.6 1333.2,376.1 1334.2,374.6 1335.2,373.1 1336.2,371.6 1337.2,370.1 1338.2,368.6 1339.2,367.2 1340.2,365.8 1341.2,364.4 1342.2,363.0 1343.2,361.7 1344.2,360.4 1345.2,359.2 1346.2,357.9 1347.2,356.8 1348.2,355.6 1349.2,354.5 1350.2,353.4 1351.2,352.4 1352.2,351.4 1353.2,350.5 1354.2,349.6 1355.2,348.7 1356.2,347.9 1357.2,347.1 1358.2,346.4 1359.2,345.7 1360.2,345.0 1361.2,344.4 1362.2,343.8 1363.2,343.2 1364.2,342.7 1365.2,342.2 1366.2,341.7 1367.2,341.3 1368.2,340.9 1369.2,340.5 1370.2,340.1 1371.2,339.8 1372.2,339.4 1373.2,339.1 1374.2,338.8 1375.2,338.5 1376.2,338.3 1377.2,338.0 1378.2,337.7 1379.2,337.4 1380.2,337.1 1381.2,336.7 1382.2,336.4 1383.2,336.0 1384.2,335.6 1385.2,335.2 1386.2,334.7 1387.2,334.1 1388.2,333.6 1389.2,332.9 1390.2,332.2 1391.2,331.4 1392.2,330.5 1393.2,329.6 1394.2,328.5 1395.2,327.4 1396.2,326.2 1397.2,324.9 1398.2,323.5 1399.2,322.0 1400.2,320.4 1401.2,318.8 1402.2,317.0 1403.2,315.1 1404.2,313.2 1405.2,311.2 1406.2,309.0 1407.2,306.9 1408.2,304.6 1409.2,302.3 1410.2,300.0 1411.2,297.6 1412.2,295.2 1413.2,292.7 1414.2,290.3 1415.2,287.8 1416.2,285.4 1417.2,282.9 1418.2,280.5 1419.2,278.2 1420.2,275.8 1421.2,273.6 1422.2,271.3 1423.2,269.2 1424.2,267.1 1425.2,265.1 1426.2,263.2 1427.2,261.4 1428.2,259.6 1429.2,258.0 1430.2,256.4 1431.2,255.0 1432.2,253.6 1433.2,252.3 1434.2,251.1 1435.2,250.0 1436.2,249.0 1437.2,248.1 1438.2,247.2 1439.2,246.4 1440.2,245.6 1441.2,244.9 1442.2,244.2 1443.2,243.5 1444.2,242.9 1445.2,242.3 1446.2,241.7 1447.2,241.2 1448.2,240.6 1449.2,240.0 1450.2,239.4 1451.2,238.7 1452.2,238.1 1453.2,237.4 1454.2,236.7 1455.2,235.9 1456.2,235.2 1457.2,234.3 1458.2,233.5 1459.2,232.6 1460.2,231.6 1461.2,230.7 1462.2,229.7 1463.2,228.7 1464.2,227.6 1465.2,226.6 1466.2,225.5 1467.2,224.5 1468.2,223.5 1469.2,222.4 1470.2,221.5 1471.2,220.5 1472.2,219.6 1473.2,218.7 1474.2,217.9 1475.2,217.2 1476.2,216.6 1477.2,216.0 1478.2,215.6 1479.2,215.2 1480.2,215.0 1481.2,214.9 1482.2,214.8 1483.2,215.0 1484.2,215.2 1485.2,215.6 1486.2,216.1 1487.2,216.7 1488.2,217.5 1489.2,218.4 1490.2,219.4 1491.2,220.6 1492.2,221.9 1493.2,223.3 1494.2,224.7 1495.2,226.3 1496.2,228.0 1497.2,229.8 1498.2,231.7 1499.2,233.6 1500.2,235.6 1501.2,237.7 1502.2,239.8 1503.2,241.9 1504.2,244.1 1505.2,246.3 1506.2,248.6 1507.2,250.8 1508.2,253.1 1509.2,255.4 1510.2,257.7 1511.2,260.0 1512.2,262.3 1513.2,264.7 1514.2,267.0 1515.2,269.3 1516.2,271.6 1517.2,274.0 1518.2,276.3 1519.2,278.6 1520.2,281.0 1521.2,283.3 1522.2,285.7 1523.2,288.1 1524.2,290.5 1525.2,292.9 1526.2,295.3 1527.2,297.8 1528.2,300.2 1529.2,302.7 1530.2,305.2 1531.2,307.8 1532.2,310.3 1533.2,312.9 1534.2,315.5 1535.2,318.1 1536.2,320.7 1537.2,323.3 1538.2,325.9 1539.2,328.5 1540.2,331.1 1541.2,333.7 1542.2,336.3 1543.2,338.9 1544.2,341.4 1545.2,343.9 1546.2,346.4 1547.2,348.9 1548.2,351.2 1549.2,353.6 1550.2,355.9 1551.2,358.1 1552.2,360.3 1553.2,362.4 1554.2,364.4 1555.2,366.4 1556.2,368.3 1557.2,370.1 1558.2,371.9 1559.2,373.6 1560.2,375.2 1561.2,376.7 1562.2,378.2 1563.2,379.6 1564.2,380.9 1565.2,382.1 1566.2,383.3 1567.2,384.4 1568.2,385.5 1569.2,386.5 1570.2,387.5 1571.2,388.4 1572.2,389.2 1573.2,390.0 1574.2,390.8 1575.2,391.5 1576.2,392.2 1577.2,392.8 1578.2,393.4 1579.2,394.0 1580.2,394.6 1581.2,395.1 1582.2,395.7 1583.2,396.2 1584.2,396.7 1585.2,397.2 1586.2,397.6 1587.2,398.1 1588.2,398.6 1589.2,399.1 1590.2,399.5 1591.2,400.0 1592.2,400.4 1593.2,400.9 1594.2,401.4 1595.2,401.8 1596.2,402.3 1597.2,402.8 1598.2,403.3 1599.2,403.7 1600.2,404.2 1601.2,404.7 1602.2,405.2 1603.2,405.7 1604.2,406.2 1605.2,406.6 1606.2,407.1 1607.2,407.6 1608.2,408.1 1609.2,408.5 1610.2,409.0 1611.2,409.4 1612.2,409.9 1613.2,410.3 1614.2,410.7 1615.2,411.1 1616.2,411.5 1617.2,411.8 1618.2,412.2 1619.2,412.5 1620.2,412.8 1621.2,413.1 1622.2,413.4 1623.2,413.7 1624.2,413.9 1625.2,414.1 1626.2,414.3 1627.2,414.5 1628.2,414.7 1629.2,414.9 1630.2,415.0 1631.2,415.1 1632.2,415.3 1633.2,415.4 1634.2,415.5 1635.2,415.6 1636.2,415.7 1637.2,415.7 1638.2,415.8 1639.2,415.9 1640.2,416.0 1641.2,416.1 1642.2,416.2 1643.2,416.3 1644.2,416.4 1645.2,416.5 1646.2,416.6 1647.2,416.7 1648.2,416.9 1649.2,417.0 1650.2,417.2 1651.2,417.4 1652.2,417.5 1653.2,417.7 1654.2,418.0 1655.2,418.2 1656.2,418.4 1657.2,418.7 1658.2,418.9 1659.2,419.2 1660.2,419.4 1661.2,419.7 1662.2,420.0 1663.2,420.3 1664.2,420.6 1665.2,420.9 1666.2,421.2 1667.2,421.5 1668.2,421.9 1669.2,422.2 1670.2,422.5 1671.2,422.8 1672.2,423.1 1673.2,423.4 1674.2,423.7 1675.2,424.0 1676.2,424.2 1677.2,424.5 1678.2,424.8 1679.2,425.0 1680.2,425.3 1681.2,425.5 1682.2,425.8 1683.2,426.0 1684.2,426.2 1685.2,426.4 1686.2,426.6 1687.2,426.8 1688.2,426.9 1689.2,427.1 1690.2,427.3 1691.2,427.4 1692.2,427.5 1693.2,427.6 1694.2,427.8 1695.2,427.9 1696.2,428.0 1697.2,428.1 1698.2,428.1 1699.2,428.2 1700.2,428.3 1701.2,428.3 1702.2,428.4 1703.2,428.5 1704.2,428.5 1705.2,428.6 1706.2,428.6 1706.8,428.6" stroke="#00ff00"/>
<path d="M1288.2,428.3 1289.2,428.2 1290.2,428.1 1291.2,428.1 1292.2,428.0 1293.2,427.9 1294.2,427.8 1295.2,427.8 1296.2,427.7 1297.2,427.6 1298.2,427.5 1299.2,427.3 1300.2,427.2 1301.2,427.1 1302.2,426.9 1303.2,426.8 1304.2,426.6 1305.2,426.4 1306.2,426.3 1307.2,426.1 1308.2,425.9 1309.2,425.6 1310.2,425.4 1311.2,425.2 1312.2,424.9 1313.2,424.6 1314.2,424.3 1315.2,424.0 1316.2,423.7 1317.2,423.4 1318.2,423.0 1319.2,422.7 1320.2,422.3 1321.2,421.8 1322.2,421.4 1323.2,421.0 1324.2,420.5 1325.2,420.0 1326.2,419.5 1327.2,418.9 1328.2,418.4 1329.2,417.8 1330.2,417.2 1331.2,416.5 1332.2,415.9 1333.2,415.2 1334.2,414.5 1335.2,413.8 1336.2,413.0 1337.2,412.2 1338.2,411.4 1339.2,410.6 1340.2,409.7 1341.2,408.8 1342.2,407.9 1343.2,406.9 1344.2,405.9 1345.2,404.9 1346.2,403.9 1347.2,402.8 1348.2,401.7 1349.2,400.6 1350.2,399.5 1351.2,398.3 1352.2,397.1 1353.2,395.9 1354.2,394.7 1355.2,393.4 1356.2,392.1 1357.2,390.8 1358.2,389.4 1359.2,388.1 1360.2,386.7 1361.2,385.3 1362.2,383.8 1363.2,382.4 1364.2,380.9 1365.2,379.4 1366.2,377.9 1367.2,376.4 1368.2,374.9 1369.2,373.3 1370.2,371.8 1371.2,370.2 1372.2,368.6 1373.2,367.0 1374.2,365.4 1375.2,363.8 1376.2,362.1 1377.2,360.5 1378.2,358.9 1379.2,357.2 1380.2,355.6 1381.2,353.9 1382.2,352.3 1383.2,350.6 1384.2,349.0 1385.2,347.3 1386.2,345.7 1387.2,344.1 1388.2,342.4 1389.2,340.8 1390.2,339.2 1391.2,337.6 1392.2,336.0 1393.2,334.4 1394.2,332.8 1395.2,331.3 1396.2,329.8 1397.2,328.2 1398.2,326.7 1399.2,325.3 1400.2,323.8 1401.2,322.3 1402.2,320.9 1403.2,319.5 1404.2,318.1 1405.2,316.8 1406.2,315.5 1407.2,314.2 1408.2,312.9 1409.2,311.6 1410.2,310.4 1411.2,309.2 1412.2,308.1 1413.2,306.9 1414.2,305.8 1415.2,304.8 1416.2,303.7 1417.2,302.7 1418.2,301.7 1419.2,300.8 1420.2,299.9 1421.2,299.0 1422.2,298.2 1423.2,297.3 1424.2,296.6 1425.2,295.8 1426.2,295.1 1427.2,294.4 1428.2,293.7 1429.2,293.1 1430.2,292.5 1431.2,292.0 1432.2,291.4 1433.2,290.9 1434.2,290.4 1435.2,290.0 1436.2,289.6 1437.2,289.2 1438.2,288.8 1439.2,288.5 1440.2,288.2 1441.2,287.9 1442.2,287.6 1443.2,287.4 1444.2,287.1 1445.2,286.9 1446.2,286.8 1447.2,286.6 1448.2,286.5 1449.2,286.4 1450.2,286.3 1451.2,286.2 1452.2,286.2 1453.2,286.1 1454.2,286.1 1455.2,286.1 1456.2,286.1 1457.2,286.1 1458.2,286.2 1459.2,286.2 1460.2,286.3 1461.2,286.4 1462.2,286.5 1463.2,286.6 1464.2,286.7 1465.2,286.8 1466.2,286.9 1467.2,287.1 1468.2,287.2 1469.2,287.4 1470.2,287.5 1471.2,287.7 1472.2,287.9 1473.2,288.0 1474.2,288.2 1475.2,288.4 1476.2,288.6 1477.2,288.8 1478.2,289.0 1479.2,289.1 1480.2,289.3 1481.2,289.5 1482.2,289.7 1483.2,289.8 1484.2,290.0 1485.2,290.1 1486.2,290.3 1487.2,290.4 1488.2,290.5 1489.2,290.6 1490.2,290.7 1491.2,290.8 1492.2,290.8 1493.2,290.9 1494.2,290.9 1495.2,290.9 1496.2,290.9 1497.2,290.8 1498.2,290.7 1499.2,290.6 1500.2,290.5 1501.2,290.3 1502.2,290.2 1503.2,289.9 1504.2,289.7 1505.2,289.4 1506.2,289.1 1507.2,288.8 1508.2,288.4 1509.2,288.0 1510.2,287.6 1511.2,287.1 1512.2,286.6 1513.2,286.1 1514.2,285.5 1515.2,285.0 1516.2,284.3 1517.2,283.7 1518.2,283.0 1519.2,282.3 1520.2,281.6 1521.2,280.9 1522.2,280.1 1523.2,279.3 1524.2,278.5 1525.2,277.7 1526.2,276.8 1527.2,276.0 1528.2,275.1 1529.2,274.2 1530.2,273.4 1531.2,272.5 1532.2,271.6 1533.2,270.8 1534.2,269.9 1535.2,269.0 1536.2,268.2 1537.2,267.4 1538.2,266.6 1539.2,265.8 1540.2,265.0 1541.2,264.3 1542.2,263.5 1543.2,262.9 1544.2,262.2 1545.2,261.6 1546.2,261.1 1547.2,260.6 1548.2,260.1 1549.2,259.7 1550.2,259.3 1551.2,259.0 1552.2,258.7 1553.2,258.6 1554.2,258.4 1555.2,258.4 1556.2,258.4 1557.2,258.4 1558.2,258.6 1559.2,258.8 1560.2,259.1 1561.2,259.4 1562.2,259.9 1563.2,260.4 1564.2,261.0 1565.2,261.6 1566.2,262.4 1567.2,263.2 1568.2,264.1 1569.2,265.1 1570.2,266.1 1571.2,267.3 1572.2,268.5 1573.2,269.8 1574.2,271.1 1575.2,272.6 1576.2,274.1 1577.2,275.7 1578.2,277.3 1579.2,279.1 1580.2,280.8 1581.2,282.7 1582.2,284.6 1583.2,286.6 1584.2,288.6 1585.2,290.7 1586.2,292.8 1587.2,295.0 1588.2,297.2 1589.2,299.5 1590.2,301.8 1591.2,304.2 1592.2,306.6 1593.2,309.0 1594.2,311.4 1595.2,313.9 1596.2,316.4 1597.2,318.9 1598.2,321.4 1599.2,323.9 1600.2,326.5 1601.2,329.0 1602.2,331.6 1603.2,334.1 1604.2,336.7 1605.2,339.2 1606.2,341.7 1607.2,344.3 1608.2,346.8 1609.2,349.2 1610.2,351.7 1611.2,354.1 1612.2,356.5 1613.2,358.9 1614.2,361.3 1615.2,363.6 1616.2,365.9 1617.2,368.1 1618.2,370.3 1619.2,372.5 1620.2,374.6 1621.2,376.7 1622.2,378.7 1623.2,380.7 1624.2,382.7 1625.2,384.6 1626.2,386.4 1627.2,388.2 1628.2,390.0 1629.2,391.7 1630.2,393.4 1631.2,395.0 1632.2,396.5 1633.2,398.1 1634.2,399.5 1635.2,400.9 1636.2,402.3 1637.2,403.6 1638.2,404.9 1639.2,406.1 1640.2,407.3 1641.2,408.4 1642.2,409.5 1643.2,410.6 1644.2,411.6 1645.2,412.5 1646.2,413.4 1647.2,414.3 1648.2,415.2 1649.2,416.0 1650.2,416.7 1651.2,417.4 1652.2,418.1 1653.2,418.8 1654.2,419.4 1655.2,420.0 1656.2,420.6 1657.2,421.1 1658.2,421.6 1659.2,422.1 1660.2,422.5 1661.2,423.0 1662.2,423.4 1663.2,423.7 1664.2,424.1 1665.2,424.4 1666.2,424.7 1667.2,425.0 1668.2,425.3 1669.2,425.6 1670.2,425.8 1671.2,426.0 1672.2,426.3 1673.2,426.5 1674.2,426.6 1675.2,426.8 1676.2,427.0 1677.2,427.1 1678.2,427.3 1679.2,427.4 1680.2,427.5 1681.2,427.6 1682.2,427.7 1683.2,427.8 1684.2,427.9 1685.2,428.0 1686.2,428.1 1687.2,428.1 1688.2,428.2 1689.2,428.3 1690.2,428.3 1691.2,428.4 1692.2,428.4 1693.2,428.5 1694.2,428.5 1694.8,428.5" stroke="#9ac0cd"/>
<path d="M1310.2,428.7 1311.2,428.7 1312.2,428.7 1313.2,428.6 1314.2,428.6 1315.2,428.5 1316.2,428.4 1317.2,428.4 1318.2,428.3 1319.2,428.2 1320.2,428.1 1321.2,428.0 1322.2,427.9 1323.2,427.7 1324.2,427.6 1325.2,427.4 1326.2,427.2 1327.2,427.0 1328.2,426.8 1329.2,426.6 1330.2,426.3 1331.2,426.0 1332.2,425.7 1333.2,425.4 1334.2,425.1 1335.2,424.7 1336.2,424.3 1337.2,423.9 1338.2,423.5 1339.2,423.0 1340.2,422.5 1341.2,422.0 1342.2,421.4 1343.2,420.8 1344.2,420.2 1345.2,419.6 1346.2,419.0 1347.2,418.3 1348.2,417.6 1349.2,416.9 1350.2,416.1 1351.2,415.4 1352.2,414.6 1353.2,413.8 1354.2,412.9 1355.2,412.1 1356.2,411.2 1357.2,410.3 1358.2,409.4 1359.2,408.5 1360.2,407.6 1361.2,406.6 1362.2,405.7 1363.2,404.7 1364.2,403.8 1365.2,402.8 1366.2,401.8 1367.2,400.8 1368.2,399.8 1369.2,398.8 1370.2,397.8 1371.2,396.8 1372.2,395.8 1373.2,394.8 1374.2,393.9 1375.2,392.9 1376.2,391.9 1377.2,391.0 1378.2,390.0 1379.2,389.1 1380.2,388.1 1381.2,387.2 1382.2,386.3 1383.2,385.3 1384.2,384.4 1385.2,383.5 1386.2,382.5 1387.2,381.5 1388.2,380.5 1389.2,379.5 1390.2,378.4 1391.2,377.3 1392.2,376.2 1393.2,374.9 1394.2,373.6 1395.2,372.3 1396.2,370.8 1397.2,369.3 1398.2,367.6 1399.2,365.9 1400.2,364.0 1401.2,362.0 1402.2,360.0 1403.2,357.8 1404.2,355.5 1405.2,353.0 1406.2,350.5 1407.2,347.9 1408.2,345.2 1409.2,342.4 1410.2,339.5 1411.2,336.5 1412.2,333.4 1413.2,330.3 1414.2,327.2 1415.2,324.0 1416.2,320.8 1417.2,317.5 1418.2,314.3 1419.2,311.0 1420.2,307.7 1421.2,304.5 1422.2,301.2 1423.2,298.0 1424.2,294.8 1425.2,291.6 1426.2,288.4 1427.2,285.3 1428.2,282.2 1429.2,279.2 1430.2,276.1 1431.2,273.2 1432.2,270.2 1433.2,267.4 1434.2,264.5 1435.2,261.7 1436.2,259.0 1437.2,256.3 1438.2,253.6 1439.2,250.9 1440.2,248.3 1441.2,245.7 1442.2,243.1 1443.2,240.5 1444.2,237.9 1445.2,235.3 1446.2,232.7 1447.2,230.1 1448.2,227.4 1449.2,224.7 1450.2,221.9 1451.2,219.1 1452.2,216.2 1453.2,213.3 1454.2,210.3 1455.2,207.3 1456.2,204.2 1457.2,201.0 1458.2,197.8 1459.2,194.6 1460.2,191.3 1461.2,188.1 1462.2,184.8 1463.2,181.6 1464.2,178.3 1465.2,175.2 1466.2,172.1 1467.2,169.0 1468.2,166.1 1469.2,163.3 1470.2,160.6 1471.2,158.0 1472.2,155.6 1473.2,153.3 1474.2,151.2 1475.2,149.3 1476.2,147.6 1477.2,146.0 1478.2,144.7 1479.2,143.5 1480.2,142.5 1481.2,141.8 1482.2,141.2 1483.2,140.8 1484.2,140.7 1485.2,140.7 1486.2,141.0 1487.2,141.4 1488.2,142.0 1489.2,142.8 1490.2,143.8 1491.2,145.0 1492.2,146.4 1493.2,148.0 1494.2,149.7 1495.2,151.6 1496.2,153.7 1497.2,155.9 1498.2,158.2 1499.2,160.7 1500.2,163.4 1501.2,166.1 1502.2,169.0 1503.2,171.9 1504.2,175.0 1505.2,178.1 1506.2,181.3 1507.2,184.6 1508.2,187.9 1509.2,191.3 1510.2,194.8 1511.2,198.3 1512.2,201.8 1513.2,205.4 1514.2,209.0 1515.2,212.7 1516.2,216.4 1517.2,220.1 1518.2,223.9 1519.2,227.7 1520.2,231.5 1521.2,235.3 1522.2,239.2 1523.2,243.0 1524.2,246.9 1525.2,250.7 1526.2,254.6 1527.2,258.4 1528.2,262.2 1529.2,266.0 1530.2,269.8 1531.2,273.6 1532.2,277.3 1533.2,280.9 1534.2,284.6 1535.2,288.1 1536.2,291.7 1537.2,295.2 1538.2,298.6 1539.2,302.0 1540.2,305.4 1541.2,308.7 1542.2,312.0 1543.2,315.3 1544.2,318.5 1545.2,321.6 1546.2,324.7 1547.2,327.8 1548.2,330.8 1549.2,333.8 1550.2,336.7 1551.2,339.6 1552.2,342.4 1553.2,345.1 1554.2,347.7 1555.2,350.3 1556.2,352.8 1557.2,355.1 1558.2,357.4 1559.2,359.6 1560.2,361.6 1561.2,363.6 1562.2,365.4 1563.2,367.1 1564.2,368.7 1565.2,370.2 1566.2,371.6 1567.2,372.9 1568.2,374.1 1569.2,375.2 1570.2,376.2 1571.2,377.1 1572.2,378.0 1573.2,378.8 1574.2,379.6 1575.2,380.3 1576.2,381.0 1577.2,381.6 1578.2,382.2 1579.2,382.9 1580.2,383.5 1581.2,384.1 1582.2,384.7 1583.2,385.3 1584.2,386.0 1585.2,386.6 1586.2,387.2 1587.2,387.9 1588.2,388.6 1589.2,389.3 1590.2,390.0 1591.2,390.7 1592.2,391.4 1593.2,392.1 1594.2,392.8 1595.2,393.5 1596.2,394.3 1597.2,395.0 1598.2,395.7 1599.2,396.4 1600.2,397.1 1601.2,397.8 1602.2,398.5 1603.2,399.2 1604.2,399.8 1605.2,400.5 1606.2,401.1 1607.2,401.7 1608.2,402.3 1609.2,402.9 1610.2,403.5 1611.2,404.0 1612.2,404.5 1613.2,405.0 1614.2,405.4 1615.2,405.9 1616.2,406.3 1617.2,406.6 1618.2,407.0 1619.2,407.3 1620.2,407.6 1621.2,407.8 1622.2,408.0 1623.2,408.2 1624.2,408.4 1625.2,408.5 1626.2,408.7 1627.2,408.8 1628.2,408.8 1629.2,408.9 1630.2,409.0 1631.2,409.0 1632.2,409.0 1633.2,409.1 1634.2,409.1 1635.2,409.1 1636.2,409.2 1637.2,409.3 1638.2,409.3 1639.2,409.4 1640.2,409.5 1641.2,409.7 1642.2,409.8 1643.2,410.0 1644.2,410.2 1645.2,410.4 1646.2,410.7 1647.2,411.0 1648.2,411.3 1649.2,411.6 1650.2,411.9 1651.2,412.3 1652.2,412.7 1653.2,413.0 1654.2,413.5 1655.2,413.9 1656.2,414.3 1657.2,414.7 1658.2,415.2 1659.2,415.6 1660.2,416.1 1661.2,416.6 1662.2,417.0 1663.2,417.5 1664.2,417.9 1665.2,418.4 1666.2,418.9 1667.2,419.3 1668.2,419.8 1669.2,420.2 1670.2,420.6 1671.2,421.1 1672.2,421.5 1673.2,421.9 1674.2,422.3 1675.2,422.7 1676.2,423.1 1677.2,423.4 1678.2,423.8 1679.2,424.2 1680.2,424.5 1681.2,424.8 1682.2,425.1 1683.2,425.4 1684.2,425.7 1685.2,426.0 1686.2,426.2 1687.2,426.5 1688.2,426.7 1689.2,426.9 1690.2,427.1 1691.2,427.3 1692.2,427.4 1693.2,427.6 1694.2,427.7 1695.2,427.9 1696.2,428.0 1697.2,428.1 1698.2,428.2 1699.2,428.3 1700.2,428.4 1701.2,428.4 1702.2,428.5 1703.2,428.6 1704.2,428.6 1705.2,428.6 1706.2,428.7 1707.2,428.7 1708.2,428.7 1709.2,428.8 1710.2,428.8 1710.8,428.8" stroke="#c0f8fd"/>
<path d="M1238.2,428.2 1239.2,428.1 1240.2,428.0 1241.2,427.9 1242.2,427.8 1243.2,427.7 1244.2,427.6 1245.2,427.4 1246.2,427.3 1247.2,427.1 1248.2,426.9 1249.2,426.7 1250.2,426.5 1251.2,426.3 1252.2,426.0 1253.2,425.8 1254.2,425.5 1255.2,425.2 1256.2,424.8 1257.2,424.5 1258.2,424.1 1259.2,423.7 1260.2,423.3 1261.2,422.8 1262.2,422.3 1263.2,421.8 1264.2,421.2 1265.2,420.7 1266.2,420.0 1267.2,419.4 1268.2,418.7 1269.2,418.0 1270.2,417.2 1271.2,416.4 1272.2,415.5 1273.2,414.6 1274.2,413.7 1275.2,412.7 1276.2,411.7 1277.2,410.6 1278.2,409.5 1279.2,408.3 1280.2,407.0 1281.2,405.7 1282.2,404.4 1283.2,403.0 1284.2,401.5 1285.2,399.9 1286.2,398.3 1287.2,396.7 1288.2,394.9 1289.2,393.1 1290.2,391.3 1291.2,389.3 1292.2,387.3 1293.2,385.2 1294.2,383.0 1295.2,380.8 1296.2,378.4 1297.2,376.0 1298.2,373.6 1299.2,371.0 1300.2,368.4 1301.2,365.6 1302.2,362.8 1303.2,360.0 1304.2,357.0 1305.2,354.0 1306.2,350.9 1307.2,347.8 1308.2,344.6 1309.2,341.3 1310.2,337.9 1311.2,334.5 1312.2,331.1 1313.2,327.6 1314.2,324.0 1315.2,320.5 1316.2,316.9 1317.2,313.3 1318.2,309.6 1319.2,306.0 1320.2,302.3 1321.2,298.7 1322.2,295.0 1323.2,291.4 1324.2,287.8 1325.2,284.2 1326.2,280.7 1327.2,277.2 1328.2,273.7 1329.2,270.3 1330.2,267.0 1331.2,263.8 1332.2,260.6 1333.2,257.5 1334.2,254.5 1335.2,251.5 1336.2,248.7 1337.2,246.0 1338.2,243.3 1339.2,240.8 1340.2,238.4 1341.2,236.1 1342.2,233.8 1343.2,231.7 1344.2,229.7 1345.2,227.8 1346.2,226.1 1347.2,224.4 1348.2,222.8 1349.2,221.3 1350.2,220.0 1351.2,218.7 1352.2,217.5 1353.2,216.5 1354.2,215.5 1355.2,214.6 1356.2,213.8 1357.2,213.0 1358.2,212.4 1359.2,211.8 1360.2,211.3 1361.2,210.8 1362.2,210.4 1363.2,210.1 1364.2,209.8 1365.2,209.5 1366.2,209.4 1367.2,209.2 1368.2,209.1 1369.2,209.0 1370.2,208.9 1371.2,208.9 1372.2,208.8 1373.2,208.8 1374.2,208.8 1375.2,208.8 1376.2,208.8 1377.2,208.8 1378.2,208.8 1379.2,208.8 1380.2,208.8 1381.2,208.7 1382.2,208.7 1383.2,208.6 1384.2,208.6 1385.2,208.5 1386.2,208.3 1387.2,208.2 1388.2,208.1 1389.2,207.9 1390.2,207.7 1391.2,207.5 1392.2,207.2 1393.2,207.0 1394.2,206.7 1395.2,206.5 1396.2,206.2 1397.2,205.9 1398.2,205.6 1399.2,205.4 1400.2,205.1 1401.2,204.8 1402.2,204.6 1403.2,204.4 1404.2,204.2 1405.2,204.1 1406.2,204.0 1407.2,204.0 1408.2,204.0 1409.2,204.0 1410.2,204.1 1411.2,204.3 1412.2,204.6 1413.2,204.9 1414.2,205.3 1415.2,205.8 1416.2,206.4 1417.2,207.0 1418.2,207.8 1419.2,208.6 1420.2,209.6 1421.2,210.6 1422.2,211.7 1423.2,213.0 1424.2,214.3 1425.2,215.7 1426.2,217.2 1427.2,218.8 1428.2,220.5 1429.2,222.3 1430.2,224.2 1431.2,226.2 1432.2,228.2 1433.2,230.4 1434.2,232.6 1435.2,234.9 1436.2,237.3 1437.2,239.7 1438.2,242.2 1439.2,244.8 1440.2,247.5 1441.2,250.2 1442.2,253.0 1443.2,255.8 1444.2,258.7 1445.2,261.6 1446.2,264.6 1447.2,267.6 1448.2,270.7 1449.2,273.8 1450.2,276.9 1451.2,280.1 1452.2,283.3 1453.2,286.6 1454.2,289.8 1455.2,293.1 1456.2,296.4 1457.2,299.8 1458.2,303.1 1459.2,306.4 1460.2,309.8 1461.2,313.1 1462.2,316.5 1463.2,319.8 1464.2,323.1 1465.2,326.4 1466.2,329.7 1467.2,333.0 1468.2,336.2 1469.2,339.3 1470.2,342.5 1471.2,345.5 1472.2,348.6 1473.2,351.5 1474.2,354.4 1475.2,357.3 1476.2,360.0 1477.2,362.7 1478.2,365.3 1479.2,367.8 1480.2,370.2 1481.2,372.5 1482.2,374.7 1483.2,376.8 1484.2,378.9 1485.2,380.8 1486.2,382.6 1487.2,384.3 1488.2,385.9 1489.2,387.4 1490.2,388.8 1491.2,390.1 1492.2,391.3 1493.2,392.4 1494.2,393.4 1495.2,394.2 1496.2,395.0 1497.2,395.7 1498.2,396.4 1499.2,396.9 1500.2,397.3 1501.2,397.7 1502.2,398.0 1503.2,398.2 1504.2,398.4 1505.2,398.5 1506.2,398.6 1507.2,398.6 1508.2,398.6 1509.2,398.5 1510.2,398.4 1511.2,398.3 1512.2,398.1 1513.2,397.9 1514.2,397.8 1515.2,397.6 1516.2,397.4 1517.2,397.2 1518.2,397.0 1519.2,396.8 1520.2,396.6 1521.2,396.4 1522.2,396.2 1523.2,396.1 1524.2,396.0 1525.2,395.9 1526.2,395.8 1527.2,395.8 1528.2,395.8 1529.2,395.8 1530.2,395.8 1531.2,395.9 1532.2,396.0 1533.2,396.2 1534.2,396.4 1535.2,396.6 1536.2,396.8 1537.2,397.1 1538.2,397.4 1539.2,397.7 1540.2,398.1 1541.2,398.5 1542.2,398.9 1543.2,399.3 1544.2,399.8 1545.2,400.3 1546.2,400.8 1547.2,401.3 1548.2,401.9 1549.2,402.4 1550.2,403.0 1551.2,403.6 1552.2,404.2 1553.2,404.8 1554.2,405.4 1555.2,406.1 1556.2,406.7 1557.2,407.4 1558.2,408.0 1559.2,408.6 1560.2,409.3 1561.2,409.9 1562.2,410.6 1563.2,411.2 1564.2,411.9 1565.2,412.5 1566.2,413.1 1567.2,413.7 1568.2,414.3 1569.2,414.9 1570.2,415.5 1571.2,416.1 1572.2,416.7 1573.2,417.2 1574.2,417.8 1575.2,418.3 1576.2,418.8 1577.2,419.3 1578.2,419.8 1579.2,420.3 1580.2,420.8 1581.2,421.2 1582.2,421.6 1583.2,422.1 1584.2,422.5 1585.2,422.8 1586.2,423.2 1587.2,423.6 1588.2,423.9 1589.2,424.2 1590.2,424.5 1591.2,424.8 1592.2,425.1 1593.2,425.4 1594.2,425.6 1595.2,425.9 1596.2,426.1 1597.2,426.3 1598.2,426.5 1599.2,426.7 1600.2,426.9 1601.2,427.0 1602.2,427.2 1603.2,427.3 1604.2,427.5 1605.2,427.6 1606.2,427.7 1607.2,427.8 1608.2,427.9 1609.2,428.0 1610.2,428.1 1611.2,428.2 1612.2,428.2 1613.2,428.3 1614.2,428.4 1615.2,428.4 1616.2,428.5 1616.8,428.5" stroke="#000080"/>
<path d="M1400.7,428.6 1401.7,428.5 1402.7,428.4 1403.7,428.3 1404.7,428.2 1405.7,428.0 1406.7,427.8 1407.7,427.6 1408.7,427.4 1409.7,427.1 1410.7,426.8 1411.7,426.5 1412.7,426.1 1413.7,425.7 1414.7,425.2 1415.7,424.7 1416.7,424.1 1417.7,423.4 1418.7,422.7 1419.7,421.9 1420.7,421.1 1421.7,420.2 1422.7,419.2 1423.7,418.1 1424.7,416.9 1425.7,415.7 1426.7,414.4 1427.7,412.9 1428.7,411.4 1429.7,409.8 1430.7,408.1 1431.7,406.3 1432.7,404.4 1433.7,402.4 1434.7,400.2 1435.7,397.9 1436.7,395.5 1437.7,392.9 1438.7,390.1 1439.7,387.2 1440.7,384.2 1441.7,380.9 1442.7,377.5 1443.7,373.9 1444.7,370.1 1445.7,366.1 1446.7,361.9 1447.7,357.5 1448.7,353.0 1449.7,348.3 1450.7,343.4 1451.7,338.4 1452.7,333.3 1453.7,328.0 1454.7,322.7 1455.7,317.2 1456.7,311.7 1457.7,306.2 1458.7,300.6 1459.7,294.9 1460.7,289.2 1461.7,283.6 1462.7,277.9 1463.7,272.2 1464.7,266.5 1465.7,260.8 1466.7,255.1 1467.7,249.4 1468.7,243.6 1469.7,237.8 1470.7,232.0 1471.7,226.2 1472.7,220.4 1473.7,214.6 1474.7,208.7 1475.7,202.8 1476.7,197.0 1477.7,191.2 1478.7,185.5 1479.7,179.9 1480.7,174.3 1481.7,169.0 1482.7,163.8 1483.7,158.8 1484.7,154.0 1485.7,149.5 1486.7,145.3 1487.7,141.3 1488.7,137.7 1489.7,134.4 1490.7,131.4 1491.7,128.8 1492.7,126.5 1493.7,124.5 1494.7,122.9 1495.7,121.5 1496.7,120.4 1497.7,119.7 1498.7,119.1 1499.7,118.9 1500.7,118.8 1501.7,119.0 1502.7,119.3 1503.7,119.8 1504.7,120.5 1505.7,121.4 1506.7,122.4 1507.7,123.5 1508.7,124.6 1509.7,125.9 1510.7,127.3 1511.7,128.7 1512.7,130.1 1513.7,131.6 1514.7,133.0 1515.7,134.5 1516.7,135.9 1517.7,137.2 1518.7,138.5 1519.7,139.6 1520.7,140.7 1521.7,141.7 1522.7,142.6 1523.7,143.4 1524.7,144.0 1525.7,144.5 1526.7,145.0 1527.7,145.3 1528.7,145.6 1529.7,145.8 1530.7,146.0 1531.7,146.1 1532.7,146.2 1533.7,146.4 1534.7,146.5 1535.7,146.7 1536.7,146.9 1537.7,147.2 1538.7,147.6 1539.7,148.0 1540.7,148.6 1541.7,149.4 1542.7,150.3 1543.7,151.3 1544.7,152.6 1545.7,154.1 1546.7,155.8 1547.7,157.7 1548.7,159.9 1549.7,162.3 1550.7,165.1 1551.7,168.1 1552.7,171.4 1553.7,175.0 1554.7,178.9 1555.7,183.1 1556.7,187.6 1557.7,192.3 1558.7,197.3 1559.7,202.4 1560.7,207.8 1561.7,213.3 1562.7,218.9 1563.7,224.6 1564.7,230.3 1565.7,236.1 1566.7,241.8 1567.7,247.5 1568.7,253.0 1569.7,258.5 1570.7,263.9 1571.7,269.1 1572.7,274.1 1573.7,279.0 1574.7,283.7 1575.7,288.3 1576.7,292.6 1577.7,296.8 1578.7,300.8 1579.7,304.6 1580.7,308.4 1581.7,311.9 1582.7,315.4 1583.7,318.7 1584.7,321.9 1585.7,325.1 1586.7,328.1 1587.7,331.1 1588.7,334.0 1589.7,336.9 1590.7,339.7 1591.7,342.4 1592.7,345.2 1593.7,347.9 1594.7,350.5 1595.7,353.2 1596.7,355.8 1597.7,358.4 1598.7,361.0 1599.7,363.5 1600.7,366.1 1601.7,368.6 1602.7,371.1 1603.7,373.5 1604.7,376.0 1605.7,378.4 1606.7,380.8 1607.7,383.2 1608.7,385.6 1609.7,387.9 1610.7,390.1 1611.7,392.4 1612.7,394.5 1613.7,396.7 1614.7,398.7 1615.7,400.7 1616.7,402.7 1617.7,404.5 1618.7,406.3 1619.7,408.1 1620.7,409.7 1621.7,411.3 1622.7,412.8 1623.7,414.2 1624.7,415.5 1625.7,416.7 1626.7,417.9 1627.7,419.0 1628.7,420.0 1629.7,420.9 1630.7,421.8 1631.7,422.6 1632.7,423.3 1633.7,424.0 1634.7,424.6 1635.7,425.1 1636.7,425.6 1637.7,426.0 1638.7,426.4 1639.7,426.8 1640.7,427.1 1641.7,427.3 1642.7,427.6 1643.7,427.8 1644.7,427.9 1645.7,428.1 1646.7,428.2 1647.7,428.3 1648.7,428.4 1649.7,428.5 1650.7,428.6 1650.8,428.6" stroke="#ff62b0"/>
<path d="M1382.2,428.6 1383.2,428.5 1384.2,428.5 1385.2,428.4 1386.2,428.3 1387.2,428.2 1388.2,428.2 1389.2,428.1 1390.2,427.9 1391.2,427.8 1392.2,427.7 1393.2,427.5 1394.2,427.3 1395.2,427.1 1396.2,426.9 1397.2,426.6 1398.2,426.4 1399.2,426.1 1400.2,425.7 1401.2,425.4 1402.2,425.0 1403.2,424.6 1404.2,424.1 1405.2,423.6 1406.2,423.0 1407.2,422.4 1408.2,421.8 1409.2,421.1 1410.2,420.3 1411.2,419.5 1412.2,418.6 1413.2,417.7 1414.2,416.7 1415.2,415.6 1416.2,414.5 1417.2,413.3 1418.2,412.1 1419.2,410.7 1420.2,409.3 1421.2,407.9 1422.2,406.3 1423.2,404.7 1424.2,403.1 1425.2,401.3 1426.2,399.5 1427.2,397.6 1428.2,395.7 1429.2,393.7 1430.2,391.6 1431.2,389.5 1432.2,387.4 1433.2,385.2 1434.2,382.9 1435.2,380.6 1436.2,378.3 1437.2,376.0 1438.2,373.6 1439.2,371.2 1440.2,368.8 1441.2,366.4 1442.2,364.0 1443.2,361.6 1444.2,359.3 1445.2,356.9 1446.2,354.5 1447.2,352.2 1448.2,349.9 1449.2,347.7 1450.2,345.5 1451.2,343.3 1452.2,341.1 1453.2,339.0 1454.2,337.0 1455.2,335.0 1456.2,333.0 1457.2,331.1 1458.2,329.3 1459.2,327.4 1460.2,325.7 1461.2,323.9 1462.2,322.2 1463.2,320.5 1464.2,318.9 1465.2,317.3 1466.2,315.7 1467.2,314.1 1468.2,312.6 1469.2,311.0 1470.2,309.4 1471.2,307.9 1472.2,306.3 1473.2,304.8 1474.2,303.2 1475.2,301.6 1476.2,300.0 1477.2,298.4 1478.2,296.7 1479.2,295.0 1480.2,293.3 1481.2,291.5 1482.2,289.7 1483.2,287.9 1484.2,286.1 1485.2,284.2 1486.2,282.3 1487.2,280.3 1488.2,278.3 1489.2,276.3 1490.2,274.3 1491.2,272.2 1492.2,270.1 1493.2,268.0 1494.2,265.8 1495.2,263.6 1496.2,261.4 1497.2,259.2 1498.2,256.9 1499.2,254.6 1500.2,252.3 1501.2,250.0 1502.2,247.7 1503.2,245.3 1504.2,242.9 1505.2,240.5 1506.2,238.1 1507.2,235.7 1508.2,233.2 1509.2,230.8 1510.2,228.3 1511.2,225.8 1512.2,223.3 1513.2,220.8 1514.2,218.2 1515.2,215.7 1516.2,213.2 1517.2,210.7 1518.2,208.2 1519.2,205.7 1520.2,203.3 1521.2,200.9 1522.2,198.5 1523.2,196.2 1524.2,194.0 1525.2,191.8 1526.2,189.8 1527.2,187.8 1528.2,185.9 1529.2,184.2 1530.2,182.5 1531.2,181.1 1532.2,179.7 1533.2,178.6 1534.2,177.5 1535.2,176.7 1536.2,176.1 1537.2,175.6 1538.2,175.3 1539.2,175.3 1540.2,175.4 1541.2,175.7 1542.2,176.3 1543.2,177.0 1544.2,177.9 1545.2,179.0 1546.2,180.3 1547.2,181.8 1548.2,183.4 1549.2,185.2 1550.2,187.2 1551.2,189.3 1552.2,191.5 1553.2,193.8 1554.2,196.2 1555.2,198.7 1556.2,201.2 1557.2,203.8 1558.2,206.5 1559.2,209.1 1560.2,211.8 1561.2,214.5 1562.2,217.1 1563.2,219.7 1564.2,222.3 1565.2,224.8 1566.2,227.3 1567.2,229.7 1568.2,232.0 1569.2,234.3 1570.2,236.4 1571.2,238.5 1572.2,240.4 1573.2,242.3 1574.2,244.1 1575.2,245.8 1576.2,247.4 1577.2,249.0 1578.2,250.4 1579.2,251.8 1580.2,253.1 1581.2,254.4 1582.2,255.6 1583.2,256.8 1584.2,257.9 1585.2,259.0 1586.2,260.1 1587.2,261.1 1588.2,262.2 1589.2,263.3 1590.2,264.4 1591.2,265.5 1592.2,266.6 1593.2,267.7 1594.2,268.9 1595.2,270.1 1596.2,271.4 1597.2,272.7 1598.2,274.1 1599.2,275.5 1600.2,277.0 1601.2,278.5 1602.2,280.1 1603.2,281.8 1604.2,283.5 1605.2,285.3 1606.2,287.2 1607.2,289.0 1608.2,291.0 1609.2,293.0 1610.2,295.1 1611.2,297.2 1612.2,299.3 1613.2,301.5 1614.2,303.7 1615.2,306.0 1616.2,308.3 1617.2,310.6 1618.2,312.9 1619.2,315.3 1620.2,317.6 1621.2,320.0 1622.2,322.4 1623.2,324.8 1624.2,327.2 1625.2,329.5 1626.2,331.9 1627.2,334.3 1628.2,336.6 1629.2,338.9 1630.2,341.2 1631.2,343.5 1632.2,345.8 1633.2,348.0 1634.2,350.2 1635.2,352.4 1636.2,354.5 1637.2,356.6 1638.2,358.6 1639.2,360.6 1640.2,362.6 1641.2,364.5 1642.2,366.4 1643.2,368.3 1644.2,370.1 1645.2,371.9 1646.2,373.6 1647.2,375.3 1648.2,376.9 1649.2,378.5 1650.2,380.1 1651.2,381.6 1652.2,383.1 1653.2,384.6 1654.2,386.0 1655.2,387.4 1656.2,388.8 1657.2,390.1 1658.2,391.4 1659.2,392.7 1660.2,393.9 1661.2,395.1 1662.2,396.3 1663.2,397.5 1664.2,398.6 1665.2,399.8 1666.2,400.9 1667.2,401.9 1668.2,403.0 1669.2,404.0 1670.2,405.0 1671.2,406.0 1672.2,407.0 1673.2,407.9 1674.2,408.9 1675.2,409.8 1676.2,410.6 1677.2,411.5 1678.2,412.3 1679.2,413.2 1680.2,414.0 1681.2,414.7 1682.2,415.5 1683.2,416.2 1684.2,416.9 1685.2,417.6 1686.2,418.2 1687.2,418.9 1688.2,419.5 1689.2,420.0 1690.2,420.6 1691.2,421.1 1692.2,421.6 1693.2,422.1 1694.2,422.6 1695.2,423.0 1696.2,423.4 1697.2,423.8 1698.2,424.2 1699.2,424.6 1700.2,424.9 1701.2,425.2 1702.2,425.5 1703.2,425.8 1704.2,426.0 1705.2,426.3 1706.2,426.5 1707.2,426.7 1708.2,426.9 1709.2,427.1 1710.2,427.3 1711.2,427.4 1712.2,427.6 1713.2,427.7 1714.2,427.8 1715.2,427.9 1716.2,428.0 1717.2,428.1 1718.2,428.2 1719.2,428.3 1720.2,428.3 1721.2,428.4 1722.2,428.4 1723.2,428.5 1724.2,428.5 1725.2,428.6 1726.2,428.6 1727.2,428.7 1728.2,428.7 1729.2,428.7 1729.8,428.7" stroke="#ff0000"/>
</g>
<line x1="1441.2" y1="56.20" x2="1441.2" y2="442.4" stroke="#000" stroke-width="1.95" stroke-linecap="round" stroke-dasharray="1.7 5.055"/>
<g stroke="#000" stroke-width="1.67" fill="none" stroke-linecap="round" stroke-linejoin="round">
<rect x="1062.2" y="54.8" width="835.8" height="388.6"/>
<line x1="1093.0" y1="443.4" x2="1093.0" y2="455.4"/>
<line x1="1247.8" y1="443.4" x2="1247.8" y2="455.4"/>
<line x1="1402.5" y1="443.4" x2="1402.5" y2="455.4"/>
<line x1="1557.2" y1="443.4" x2="1557.2" y2="455.4"/>
<line x1="1712.0" y1="443.4" x2="1712.0" y2="455.4"/>
<line x1="1866.8" y1="443.4" x2="1866.8" y2="455.4"/>
<line x1="1050.2" y1="428.9" x2="1062.2" y2="428.9"/>
<line x1="1050.2" y1="316.4" x2="1062.2" y2="316.4"/>
<line x1="1050.2" y1="203.9" x2="1062.2" y2="203.9"/>
<line x1="1050.2" y1="91.4" x2="1062.2" y2="91.4"/>
</g>
<g stroke="#000" stroke-width="0.2">
<text transform="translate(1093.0,484.1) scale(1,1.04)" text-anchor="middle" font-size="18.6">4</text>
<text transform="translate(1247.8,484.1) scale(1,1.04)" text-anchor="middle" font-size="18.6">5</text>
<text transform="translate(1402.5,484.1) scale(1,1.04)" text-anchor="middle" font-size="18.6">6</text>
<text transform="translate(1557.2,484.1) scale(1,1.04)" text-anchor="middle" font-size="18.6">7</text>
<text transform="translate(1712.0,484.1) scale(1,1.04)" text-anchor="middle" font-size="18.6">8</text>
<text transform="translate(1866.8,484.1) scale(1,1.04)" text-anchor="middle" font-size="18.6">9</text>
<text transform="translate(1034.9,428.9) rotate(-90) scale(1,1.04)" text-anchor="middle" font-size="18.6">0.0</text>
<text transform="translate(1034.9,316.4) rotate(-90) scale(1,1.04)" text-anchor="middle" font-size="18.6">0.5</text>
<text transform="translate(1034.9,203.9) rotate(-90) scale(1,1.04)" text-anchor="middle" font-size="18.6">1.0</text>
<text transform="translate(1034.9,91.4) rotate(-90) scale(1,1.04)" text-anchor="middle" font-size="18.6">1.5</text>
<text transform="translate(1479.6,16.6) scale(1,1.04)" text-anchor="middle" font-size="22.4" font-weight="bold" stroke="none">In-house cohort</text>
<text transform="translate(1480.1,529.0) scale(1,1.04)" text-anchor="middle" font-size="18.6">log2 gene expression</text>
<text transform="translate(990.2,249.9) rotate(-90) scale(1,1.04)" text-anchor="middle" font-size="18.6">density</text>
<text transform="translate(1130.2,84.1) scale(1,1.04)" text-anchor="start" font-size="18.6">TN</text>
<text transform="translate(1130.2,106.6) scale(1,1.04)" text-anchor="start" font-size="18.6">HER2+</text>
<text transform="translate(1130.2,129.0) scale(1,1.04)" text-anchor="start" font-size="18.6">LA</text>
<text transform="translate(1130.2,151.5) scale(1,1.04)" text-anchor="start" font-size="18.6">LB1</text>
<text transform="translate(1130.2,174.0) scale(1,1.04)" text-anchor="start" font-size="18.6">LB2</text>
<text transform="translate(1130.2,196.4) scale(1,1.04)" text-anchor="start" font-size="18.6">LA+LB1</text>
</g>
<text transform="translate(1083.4,38.0) scale(0.885,1)" font-size="47" font-weight="bold" style="font-family:'DejaVu Sans','Liberation Sans',sans-serif">C</text>
<g fill="none" stroke-width="5.4" stroke-linecap="round">
<line x1="1079.2" y1="77.2" x2="1112.4" y2="77.2" stroke="#ff0000"/>
<line x1="1079.2" y1="99.7" x2="1112.4" y2="99.7" stroke="#ff62b0"/>
<line x1="1079.2" y1="122.1" x2="1112.4" y2="122.1" stroke="#000080"/>
<line x1="1079.2" y1="144.6" x2="1112.4" y2="144.6" stroke="#c0f8fd"/>
<line x1="1079.2" y1="167.1" x2="1112.4" y2="167.1" stroke="#9ac0cd"/>
<line x1="1079.2" y1="189.5" x2="1112.4" y2="189.5" stroke="#00ff00"/>
</g>
</g>
<g id="panel-B">
<clipPath id="clipB"><rect x="87.2" y="650.1" width="835.8" height="389.4"/></clipPath>
<g clip-path="url(#clipB)" fill="none" stroke-width="5.4" stroke-linecap="round" stroke-linejoin="round">
<path d="M190.2,1024.4 191.2,1024.4 192.2,1024.4 193.2,1024.3 194.2,1024.3 195.2,1024.3 196.2,1024.3 197.2,1024.2 198.2,1024.2 199.2,1024.2 200.2,1024.1 201.2,1024.1 202.2,1024.1 203.2,1024.0 204.2,1023.9 205.2,1023.9 206.2,1023.8 207.2,1023.7 208.2,1023.7 209.2,1023.6 210.2,1023.5 211.2,1023.4 212.2,1023.3 213.2,1023.2 214.2,1023.1 215.2,1022.9 216.2,1022.8 217.2,1022.6 218.2,1022.5 219.2,1022.3 220.2,1022.2 221.2,1022.0 222.2,1021.8 223.2,1021.6 224.2,1021.4 225.2,1021.2 226.2,1021.0 227.2,1020.8 228.2,1020.5 229.2,1020.3 230.2,1020.1 231.2,1019.8 232.2,1019.6 233.2,1019.3 234.2,1019.1 235.2,1018.8 236.2,1018.6 237.2,1018.3 238.2,1018.1 239.2,1017.8 240.2,1017.6 241.2,1017.4 242.2,1017.2 243.2,1016.9 244.2,1016.7 245.2,1016.5 246.2,1016.4 247.2,1016.2 248.2,1016.0 249.2,1015.9 250.2,1015.8 251.2,1015.6 252.2,1015.6 253.2,1015.5 254.2,1015.4 255.2,1015.4 256.2,1015.3 257.2,1015.3 258.2,1015.3 259.2,1015.4 260.2,1015.4 261.2,1015.5 262.2,1015.6 263.2,1015.7 264.2,1015.8 265.2,1015.9 266.2,1016.1 267.2,1016.2 268.2,1016.4 269.2,1016.6 270.2,1016.8 271.2,1017.0 272.2,1017.2 273.2,1017.4 274.2,1017.6 275.2,1017.9 276.2,1018.1 277.2,1018.3 278.2,1018.6 279.2,1018.8 280.2,1019.0 281.2,1019.3 282.2,1019.5 283.2,1019.7 284.2,1020.0 285.2,1020.2 286.2,1020.4 287.2,1020.6 288.2,1020.8 289.2,1021.0 290.2,1021.2 291.2,1021.3 292.2,1021.5 293.2,1021.7 294.2,1021.8 295.2,1021.9 296.2,1022.1 297.2,1022.2 298.2,1022.3 299.2,1022.4 300.2,1022.5 301.2,1022.5 302.2,1022.6 303.2,1022.7 304.2,1022.7 305.2,1022.7 306.2,1022.8 307.2,1022.8 308.2,1022.8 309.2,1022.8 310.2,1022.8 311.2,1022.8 312.2,1022.8 313.2,1022.7 314.2,1022.7 315.2,1022.7 316.2,1022.6 317.2,1022.6 318.2,1022.5 319.2,1022.4 320.2,1022.4 321.2,1022.3 322.2,1022.2 323.2,1022.1 324.2,1022.0 325.2,1021.9 326.2,1021.8 327.2,1021.7 328.2,1021.6 329.2,1021.5 330.2,1021.3 331.2,1021.2 332.2,1021.1 333.2,1020.9 334.2,1020.8 335.2,1020.6 336.2,1020.4 337.2,1020.3 338.2,1020.1 339.2,1019.9 340.2,1019.8 341.2,1019.6 342.2,1019.4 343.2,1019.2 344.2,1019.1 345.2,1018.9 346.2,1018.7 347.2,1018.5 348.2,1018.3 349.2,1018.2 350.2,1018.0 351.2,1017.8 352.2,1017.7 353.2,1017.5 354.2,1017.3 355.2,1017.2 356.2,1017.1 357.2,1016.9 358.2,1016.8 359.2,1016.7 360.2,1016.6 361.2,1016.6 362.2,1016.5 363.2,1016.4 364.2,1016.4 365.2,1016.4 366.2,1016.4 367.2,1016.4 368.2,1016.4 369.2,1016.4 370.2,1016.4 371.2,1016.5 372.2,1016.6 373.2,1016.7 374.2,1016.8 375.2,1016.9 376.2,1017.0 377.2,1017.1 378.2,1017.3 379.2,1017.4 380.2,1017.6 381.2,1017.8 382.2,1018.0 383.2,1018.1 384.2,1018.3 385.2,1018.5 386.2,1018.7 387.2,1018.9 388.2,1019.1 389.2,1019.3 390.2,1019.5 391.2,1019.7 392.2,1019.9 393.2,1020.1 394.2,1020.3 395.2,1020.4 396.2,1020.6 397.2,1020.7 398.2,1020.9 399.2,1021.0 400.2,1021.1 401.2,1021.3 402.2,1021.4 403.2,1021.4 404.2,1021.5 405.2,1021.6 406.2,1021.6 407.2,1021.6 408.2,1021.6 409.2,1021.6 410.2,1021.6 411.2,1021.6 412.2,1021.5 413.2,1021.5 414.2,1021.4 415.2,1021.3 416.2,1021.1 417.2,1021.0 418.2,1020.8 419.2,1020.7 420.2,1020.5 421.2,1020.3 422.2,1020.0 423.2,1019.8 424.2,1019.6 425.2,1019.3 426.2,1019.0 427.2,1018.7 428.2,1018.4 429.2,1018.1 430.2,1017.8 431.2,1017.4 432.2,1017.1 433.2,1016.7 434.2,1016.3 435.2,1016.0 436.2,1015.6 437.2,1015.2 438.2,1014.8 439.2,1014.4 440.2,1014.1 441.2,1013.7 442.2,1013.3 443.2,1012.9 444.2,1012.5 445.2,1012.1 446.2,1011.8 447.2,1011.4 448.2,1011.1 449.2,1010.7 450.2,1010.4 451.2,1010.0 452.2,1009.7 453.2,1009.4 454.2,1009.1 455.2,1008.8 456.2,1008.6 457.2,1008.3 458.2,1008.1 459.2,1007.8 460.2,1007.6 461.2,1007.4 462.2,1007.2 463.2,1007.1 464.2,1006.9 465.2,1006.8 466.2,1006.6 467.2,1006.5 468.2,1006.4 469.2,1006.3 470.2,1006.2 471.2,1006.1 472.2,1006.1 473.2,1006.0 474.2,1005.9 475.2,1005.8 476.2,1005.8 477.2,1005.7 478.2,1005.6 479.2,1005.5 480.2,1005.4 481.2,1005.3 482.2,1005.2 483.2,1005.0 484.2,1004.8 485.2,1004.7 486.2,1004.4 487.2,1004.2 488.2,1003.9 489.2,1003.5 490.2,1003.2 491.2,1002.8 492.2,1002.3 493.2,1001.8 494.2,1001.2 495.2,1000.6 496.2,999.9 497.2,999.2 498.2,998.4 499.2,997.6 500.2,996.7 501.2,995.7 502.2,994.7 503.2,993.6 504.2,992.4 505.2,991.2 506.2,989.9 507.2,988.6 508.2,987.2 509.2,985.8 510.2,984.3 511.2,982.7 512.2,981.1 513.2,979.5 514.2,977.8 515.2,976.1 516.2,974.3 517.2,972.5 518.2,970.7 519.2,968.9 520.2,967.0 521.2,965.2 522.2,963.3 523.2,961.4 524.2,959.6 525.2,957.7 526.2,955.8 527.2,954.0 528.2,952.1 529.2,950.3 530.2,948.4 531.2,946.6 532.2,944.9 533.2,943.1 534.2,941.4 535.2,939.7 536.2,938.0 537.2,936.4 538.2,934.7 539.2,933.2 540.2,931.6 541.2,930.1 542.2,928.6 543.2,927.1 544.2,925.7 545.2,924.3 546.2,923.0 547.2,921.7 548.2,920.4 549.2,919.1 550.2,917.9 551.2,916.7 552.2,915.5 553.2,914.4 554.2,913.3 555.2,912.2 556.2,911.1 557.2,910.1 558.2,909.0 559.2,908.0 560.2,907.0 561.2,906.0 562.2,905.0 563.2,904.0 564.2,903.0 565.2,902.0 566.2,901.0 567.2,900.0 568.2,898.9 569.2,897.9 570.2,896.7 571.2,895.6 572.2,894.4 573.2,893.2 574.2,891.9 575.2,890.5 576.2,889.1 577.2,887.7 578.2,886.1 579.2,884.5 580.2,882.9 581.2,881.1 582.2,879.3 583.2,877.4 584.2,875.5 585.2,873.4 586.2,871.3 587.2,869.1 588.2,866.9 589.2,864.6 590.2,862.2 591.2,859.8 592.2,857.3 593.2,854.7 594.2,852.2 595.2,849.6 596.2,846.9 597.2,844.2 598.2,841.5 599.2,838.8 600.2,836.1 601.2,833.4 602.2,830.7 603.2,828.0 604.2,825.3 605.2,822.7 606.2,820.1 607.2,817.5 608.2,814.9 609.2,812.4 610.2,810.0 611.2,807.6 612.2,805.3 613.2,803.0 614.2,800.8 615.2,798.7 616.2,796.7 617.2,794.7 618.2,792.9 619.2,791.1 620.2,789.4 621.2,787.8 622.2,786.3 623.2,785.0 624.2,783.7 625.2,782.5 626.2,781.4 627.2,780.4 628.2,779.5 629.2,778.8 630.2,778.1 631.2,777.5 632.2,777.0 633.2,776.6 634.2,776.2 635.2,776.0 636.2,775.8 637.2,775.7 638.2,775.6 639.2,775.5 640.2,775.5 641.2,775.6 642.2,775.6 643.2,775.6 644.2,775.7 645.2,775.7 646.2,775.7 647.2,775.6 648.2,775.5 649.2,775.3 650.2,775.1 651.2,774.8 652.2,774.4 653.2,773.9 654.2,773.3 655.2,772.6 656.2,771.8 657.2,770.8 658.2,769.8 659.2,768.6 660.2,767.3 661.2,765.9 662.2,764.4 663.2,762.8 664.2,761.0 665.2,759.2 666.2,757.3 667.2,755.3 668.2,753.2 669.2,751.0 670.2,748.8 671.2,746.5 672.2,744.2 673.2,741.9 674.2,739.6 675.2,737.2 676.2,734.8 677.2,732.5 678.2,730.2 679.2,727.9 680.2,725.7 681.2,723.5 682.2,721.4 683.2,719.4 684.2,717.4 685.2,715.6 686.2,713.8 687.2,712.2 688.2,710.6 689.2,709.2 690.2,707.9 691.2,706.8 692.2,705.8 693.2,705.0 694.2,704.3 695.2,703.8 696.2,703.5 697.2,703.3 698.2,703.3 699.2,703.5 700.2,703.9 701.2,704.5 702.2,705.3 703.2,706.3 704.2,707.6 705.2,709.0 706.2,710.6 707.2,712.5 708.2,714.5 709.2,716.8 710.2,719.2 711.2,721.9 712.2,724.8 713.2,727.8 714.2,731.1 715.2,734.5 716.2,738.1 717.2,741.9 718.2,745.8 719.2,749.9 720.2,754.0 721.2,758.3 722.2,762.8 723.2,767.3 724.2,771.8 725.2,776.5 726.2,781.2 727.2,785.9 728.2,790.7 729.2,795.4 730.2,800.2 731.2,804.9 732.2,809.6 733.2,814.3 734.2,818.9 735.2,823.4 736.2,827.9 737.2,832.2 738.2,836.5 739.2,840.7 740.2,844.8 741.2,848.7 742.2,852.6 743.2,856.3 744.2,859.9 745.2,863.4 746.2,866.7 747.2,869.9 748.2,873.0 749.2,876.0 750.2,878.8 751.2,881.6 752.2,884.2 753.2,886.7 754.2,889.1 755.2,891.4 756.2,893.6 757.2,895.7 758.2,897.8 759.2,899.7 760.2,901.6 761.2,903.4 762.2,905.2 763.2,906.9 764.2,908.6 765.2,910.2 766.2,911.9 767.2,913.5 768.2,915.0 769.2,916.6 770.2,918.2 771.2,919.8 772.2,921.4 773.2,923.0 774.2,924.6 775.2,926.2 776.2,927.9 777.2,929.6 778.2,931.3 779.2,933.1 780.2,934.8 781.2,936.7 782.2,938.5 783.2,940.4 784.2,942.4 785.2,944.4 786.2,946.4 787.2,948.4 788.2,950.5 789.2,952.6 790.2,954.7 791.2,956.8 792.2,959.0 793.2,961.1 794.2,963.3 795.2,965.5 796.2,967.7 797.2,969.8 798.2,972.0 799.2,974.1 800.2,976.3 801.2,978.4 802.2,980.4 803.2,982.5 804.2,984.5 805.2,986.5 806.2,988.4 807.2,990.3 808.2,992.1 809.2,993.9 810.2,995.6 811.2,997.3 812.2,998.9 813.2,1000.5 814.2,1002.0 815.2,1003.4 816.2,1004.8 817.2,1006.1 818.2,1007.4 819.2,1008.6 820.2,1009.7 821.2,1010.8 822.2,1011.8 823.2,1012.8 824.2,1013.7 825.2,1014.5 826.2,1015.3 827.2,1016.1 828.2,1016.8 829.2,1017.4 830.2,1018.0 831.2,1018.6 832.2,1019.1 833.2,1019.6 834.2,1020.1 835.2,1020.5 836.2,1020.9 837.2,1021.2 838.2,1021.5 839.2,1021.8 840.2,1022.1 841.2,1022.4 842.2,1022.6 843.2,1022.8 844.2,1023.0 845.2,1023.1 846.2,1023.3 847.2,1023.4 848.2,1023.5 849.2,1023.7 850.2,1023.8 851.2,1023.8 852.2,1023.9 853.2,1024.0 854.2,1024.1 855.2,1024.1 856.2,1024.2 857.2,1024.2 858.2,1024.2 858.8,1024.3" stroke="#ff0000"/>
<path d="M460.2,1024.3 461.2,1024.3 462.2,1024.2 463.2,1024.2 464.2,1024.1 465.2,1024.1 466.2,1024.0 467.2,1023.9 468.2,1023.9 469.2,1023.8 470.2,1023.7 471.2,1023.5 472.2,1023.4 473.2,1023.3 474.2,1023.1 475.2,1022.9 476.2,1022.7 477.2,1022.5 478.2,1022.3 479.2,1022.0 480.2,1021.7 481.2,1021.4 482.2,1021.1 483.2,1020.7 484.2,1020.3 485.2,1019.9 486.2,1019.4 487.2,1019.0 488.2,1018.4 489.2,1017.9 490.2,1017.3 491.2,1016.7 492.2,1016.0 493.2,1015.3 494.2,1014.6 495.2,1013.8 496.2,1013.0 497.2,1012.1 498.2,1011.2 499.2,1010.2 500.2,1009.2 501.2,1008.2 502.2,1007.1 503.2,1006.0 504.2,1004.8 505.2,1003.5 506.2,1002.2 507.2,1000.8 508.2,999.4 509.2,997.9 510.2,996.4 511.2,994.7 512.2,993.0 513.2,991.3 514.2,989.4 515.2,987.5 516.2,985.4 517.2,983.3 518.2,981.1 519.2,978.8 520.2,976.4 521.2,973.9 522.2,971.3 523.2,968.6 524.2,965.7 525.2,962.8 526.2,959.7 527.2,956.6 528.2,953.3 529.2,949.8 530.2,946.3 531.2,942.6 532.2,938.9 533.2,935.0 534.2,930.9 535.2,926.8 536.2,922.6 537.2,918.2 538.2,913.7 539.2,909.1 540.2,904.4 541.2,899.6 542.2,894.7 543.2,889.7 544.2,884.6 545.2,879.4 546.2,874.2 547.2,868.8 548.2,863.3 549.2,857.8 550.2,852.1 551.2,846.4 552.2,840.7 553.2,834.8 554.2,828.9 555.2,823.0 556.2,817.0 557.2,811.0 558.2,804.9 559.2,798.9 560.2,792.8 561.2,786.7 562.2,780.6 563.2,774.6 564.2,768.6 565.2,762.7 566.2,756.9 567.2,751.1 568.2,745.4 569.2,739.9 570.2,734.5 571.2,729.2 572.2,724.1 573.2,719.1 574.2,714.4 575.2,709.8 576.2,705.5 577.2,701.3 578.2,697.4 579.2,693.7 580.2,690.2 581.2,687.0 582.2,684.0 583.2,681.2 584.2,678.7 585.2,676.3 586.2,674.2 587.2,672.3 588.2,670.6 589.2,669.2 590.2,667.9 591.2,666.8 592.2,665.9 593.2,665.1 594.2,664.5 595.2,664.1 596.2,663.8 597.2,663.7 598.2,663.7 599.2,663.8 600.2,664.1 601.2,664.4 602.2,664.9 603.2,665.5 604.2,666.2 605.2,667.0 606.2,667.8 607.2,668.7 608.2,669.7 609.2,670.8 610.2,671.9 611.2,673.1 612.2,674.3 613.2,675.6 614.2,676.9 615.2,678.2 616.2,679.5 617.2,680.8 618.2,682.1 619.2,683.4 620.2,684.6 621.2,685.9 622.2,687.1 623.2,688.3 624.2,689.5 625.2,690.7 626.2,691.8 627.2,692.9 628.2,693.9 629.2,695.0 630.2,696.0 631.2,697.0 632.2,697.9 633.2,698.9 634.2,699.8 635.2,700.7 636.2,701.6 637.2,702.5 638.2,703.3 639.2,704.1 640.2,705.0 641.2,705.7 642.2,706.5 643.2,707.3 644.2,708.0 645.2,708.7 646.2,709.5 647.2,710.2 648.2,710.9 649.2,711.7 650.2,712.5 651.2,713.3 652.2,714.1 653.2,715.0 654.2,716.0 655.2,717.0 656.2,718.1 657.2,719.3 658.2,720.6 659.2,722.1 660.2,723.6 661.2,725.2 662.2,726.9 663.2,728.8 664.2,730.7 665.2,732.8 666.2,735.0 667.2,737.2 668.2,739.5 669.2,742.0 670.2,744.4 671.2,747.0 672.2,749.6 673.2,752.3 674.2,755.0 675.2,757.8 676.2,760.6 677.2,763.5 678.2,766.4 679.2,769.4 680.2,772.5 681.2,775.6 682.2,778.8 683.2,782.0 684.2,785.4 685.2,788.8 686.2,792.2 687.2,795.8 688.2,799.4 689.2,803.1 690.2,806.8 691.2,810.6 692.2,814.5 693.2,818.3 694.2,822.2 695.2,826.0 696.2,829.9 697.2,833.7 698.2,837.4 699.2,841.1 700.2,844.7 701.2,848.2 702.2,851.7 703.2,855.0 704.2,858.2 705.2,861.2 706.2,864.2 707.2,867.0 708.2,869.7 709.2,872.4 710.2,874.9 711.2,877.3 712.2,879.6 713.2,881.9 714.2,884.0 715.2,886.2 716.2,888.3 717.2,890.3 718.2,892.3 719.2,894.4 720.2,896.3 721.2,898.3 722.2,900.3 723.2,902.3 724.2,904.3 725.2,906.2 726.2,908.2 727.2,910.2 728.2,912.1 729.2,914.1 730.2,916.0 731.2,917.9 732.2,919.8 733.2,921.7 734.2,923.6 735.2,925.4 736.2,927.2 737.2,929.0 738.2,930.8 739.2,932.5 740.2,934.2 741.2,935.9 742.2,937.6 743.2,939.3 744.2,940.9 745.2,942.5 746.2,944.2 747.2,945.8 748.2,947.3 749.2,948.9 750.2,950.5 751.2,952.1 752.2,953.6 753.2,955.2 754.2,956.7 755.2,958.3 756.2,959.8 757.2,961.3 758.2,962.8 759.2,964.4 760.2,965.9 761.2,967.3 762.2,968.8 763.2,970.3 764.2,971.7 765.2,973.2 766.2,974.6 767.2,976.0 768.2,977.4 769.2,978.8 770.2,980.1 771.2,981.5 772.2,982.8 773.2,984.1 774.2,985.3 775.2,986.6 776.2,987.8 777.2,989.0 778.2,990.1 779.2,991.3 780.2,992.4 781.2,993.4 782.2,994.5 783.2,995.5 784.2,996.5 785.2,997.4 786.2,998.3 787.2,999.2 788.2,1000.1 789.2,1001.0 790.2,1001.8 791.2,1002.6 792.2,1003.4 793.2,1004.2 794.2,1005.0 795.2,1005.7 796.2,1006.5 797.2,1007.3 798.2,1008.0 799.2,1008.7 800.2,1009.5 801.2,1010.2 802.2,1010.9 803.2,1011.6 804.2,1012.3 805.2,1013.0 806.2,1013.6 807.2,1014.3 808.2,1015.0 809.2,1015.6 810.2,1016.2 811.2,1016.8 812.2,1017.4 813.2,1017.9 814.2,1018.4 815.2,1019.0 816.2,1019.4 817.2,1019.9 818.2,1020.3 819.2,1020.7 820.2,1021.1 821.2,1021.4 822.2,1021.8 823.2,1022.1 824.2,1022.3 825.2,1022.6 826.2,1022.8 827.2,1023.0 828.2,1023.2 829.2,1023.4 830.2,1023.5 831.2,1023.6 832.2,1023.8 833.2,1023.9 834.2,1024.0 835.2,1024.0 836.2,1024.1 837.2,1024.2 838.2,1024.2 838.8,1024.2" stroke="#ff62b0"/>
<path d="M153.6,1024.3 154.6,1024.2 155.6,1024.2 156.6,1024.2 157.6,1024.2 158.6,1024.1 159.6,1024.1 160.6,1024.1 161.6,1024.0 162.6,1024.0 163.6,1024.0 164.6,1023.9 165.6,1023.9 166.6,1023.9 167.6,1023.8 168.6,1023.8 169.6,1023.7 170.6,1023.7 171.6,1023.6 172.6,1023.5 173.6,1023.5 174.6,1023.4 175.6,1023.4 176.6,1023.3 177.6,1023.2 178.6,1023.1 179.6,1023.1 180.6,1023.0 181.6,1022.9 182.6,1022.8 183.6,1022.7 184.6,1022.6 185.6,1022.5 186.6,1022.4 187.6,1022.3 188.6,1022.2 189.6,1022.1 190.6,1022.0 191.6,1021.9 192.6,1021.8 193.6,1021.7 194.6,1021.6 195.6,1021.5 196.6,1021.3 197.6,1021.2 198.6,1021.1 199.6,1021.0 200.6,1020.8 201.6,1020.7 202.6,1020.6 203.6,1020.4 204.6,1020.3 205.6,1020.2 206.6,1020.1 207.6,1019.9 208.6,1019.8 209.6,1019.7 210.6,1019.5 211.6,1019.4 212.6,1019.3 213.6,1019.2 214.6,1019.1 215.6,1018.9 216.6,1018.8 217.6,1018.7 218.6,1018.6 219.6,1018.5 220.6,1018.4 221.6,1018.3 222.6,1018.2 223.6,1018.1 224.6,1018.0 225.6,1017.9 226.6,1017.9 227.6,1017.8 228.6,1017.7 229.6,1017.6 230.6,1017.6 231.6,1017.5 232.6,1017.5 233.6,1017.4 234.6,1017.4 235.6,1017.4 236.6,1017.3 237.6,1017.3 238.6,1017.3 239.6,1017.2 240.6,1017.2 241.6,1017.2 242.6,1017.2 243.6,1017.2 244.6,1017.2 245.6,1017.2 246.6,1017.2 247.6,1017.2 248.6,1017.2 249.6,1017.2 250.6,1017.3 251.6,1017.3 252.6,1017.3 253.6,1017.3 254.6,1017.3 255.6,1017.4 256.6,1017.4 257.6,1017.4 258.6,1017.4 259.6,1017.4 260.6,1017.4 261.6,1017.5 262.6,1017.5 263.6,1017.5 264.6,1017.5 265.6,1017.5 266.6,1017.5 267.6,1017.5 268.6,1017.5 269.6,1017.5 270.6,1017.4 271.6,1017.4 272.6,1017.4 273.6,1017.4 274.6,1017.3 275.6,1017.3 276.6,1017.2 277.6,1017.1 278.6,1017.1 279.6,1017.0 280.6,1016.9 281.6,1016.8 282.6,1016.7 283.6,1016.6 284.6,1016.5 285.6,1016.3 286.6,1016.2 287.6,1016.0 288.6,1015.9 289.6,1015.7 290.6,1015.5 291.6,1015.3 292.6,1015.1 293.6,1014.9 294.6,1014.6 295.6,1014.4 296.6,1014.1 297.6,1013.8 298.6,1013.5 299.6,1013.2 300.6,1012.9 301.6,1012.6 302.6,1012.2 303.6,1011.9 304.6,1011.5 305.6,1011.1 306.6,1010.7 307.6,1010.3 308.6,1009.9 309.6,1009.4 310.6,1009.0 311.6,1008.5 312.6,1008.0 313.6,1007.5 314.6,1007.0 315.6,1006.5 316.6,1005.9 317.6,1005.4 318.6,1004.8 319.6,1004.3 320.6,1003.7 321.6,1003.1 322.6,1002.5 323.6,1001.9 324.6,1001.3 325.6,1000.7 326.6,1000.0 327.6,999.4 328.6,998.8 329.6,998.2 330.6,997.5 331.6,996.9 332.6,996.2 333.6,995.6 334.6,995.0 335.6,994.3 336.6,993.7 337.6,993.1 338.6,992.4 339.6,991.8 340.6,991.2 341.6,990.6 342.6,990.0 343.6,989.5 344.6,988.9 345.6,988.3 346.6,987.8 347.6,987.3 348.6,986.8 349.6,986.3 350.6,985.8 351.6,985.3 352.6,984.9 353.6,984.4 354.6,984.0 355.6,983.6 356.6,983.2 357.6,982.8 358.6,982.5 359.6,982.1 360.6,981.8 361.6,981.5 362.6,981.2 363.6,980.9 364.6,980.7 365.6,980.4 366.6,980.1 367.6,979.9 368.6,979.7 369.6,979.4 370.6,979.2 371.6,979.0 372.6,978.8 373.6,978.6 374.6,978.4 375.6,978.2 376.6,978.0 377.6,977.8 378.6,977.6 379.6,977.3 380.6,977.1 381.6,976.9 382.6,976.6 383.6,976.4 384.6,976.1 385.6,975.8 386.6,975.5 387.6,975.2 388.6,974.9 389.6,974.5 390.6,974.1 391.6,973.7 392.6,973.3 393.6,972.9 394.6,972.4 395.6,971.9 396.6,971.4 397.6,970.9 398.6,970.3 399.6,969.7 400.6,969.1 401.6,968.4 402.6,967.7 403.6,967.0 404.6,966.3 405.6,965.5 406.6,964.7 407.6,963.9 408.6,963.0 409.6,962.2 410.6,961.2 411.6,960.3 412.6,959.3 413.6,958.3 414.6,957.3 415.6,956.2 416.6,955.1 417.6,954.0 418.6,952.9 419.6,951.7 420.6,950.5 421.6,949.3 422.6,948.0 423.6,946.7 424.6,945.4 425.6,944.1 426.6,942.7 427.6,941.3 428.6,939.8 429.6,938.4 430.6,936.9 431.6,935.4 432.6,933.9 433.6,932.3 434.6,930.7 435.6,929.1 436.6,927.5 437.6,925.8 438.6,924.1 439.6,922.4 440.6,920.7 441.6,918.9 442.6,917.2 443.6,915.4 444.6,913.6 445.6,911.7 446.6,909.9 447.6,908.1 448.6,906.2 449.6,904.3 450.6,902.4 451.6,900.5 452.6,898.6 453.6,896.7 454.6,894.8 455.6,892.9 456.6,891.0 457.6,889.1 458.6,887.2 459.6,885.3 460.6,883.4 461.6,881.5 462.6,879.7 463.6,877.8 464.6,876.0 465.6,874.2 466.6,872.4 467.6,870.6 468.6,868.9 469.6,867.2 470.6,865.5 471.6,863.8 472.6,862.2 473.6,860.5 474.6,859.0 475.6,857.4 476.6,855.9 477.6,854.4 478.6,853.0 479.6,851.6 480.6,850.2 481.6,848.9 482.6,847.6 483.6,846.3 484.6,845.1 485.6,843.9 486.6,842.7 487.6,841.5 488.6,840.4 489.6,839.3 490.6,838.3 491.6,837.2 492.6,836.2 493.6,835.2 494.6,834.2 495.6,833.3 496.6,832.4 497.6,831.4 498.6,830.5 499.6,829.6 500.6,828.8 501.6,827.9 502.6,827.0 503.6,826.2 504.6,825.3 505.6,824.5 506.6,823.6 507.6,822.8 508.6,821.9 509.6,821.0 510.6,820.2 511.6,819.3 512.6,818.5 513.6,817.6 514.6,816.7 515.6,815.8 516.6,814.9 517.6,814.0 518.6,813.1 519.6,812.2 520.6,811.3 521.6,810.4 522.6,809.4 523.6,808.5 524.6,807.5 525.6,806.6 526.6,805.6 527.6,804.7 528.6,803.7 529.6,802.8 530.6,801.8 531.6,800.9 532.6,799.9 533.6,799.0 534.6,798.0 535.6,797.1 536.6,796.2 537.6,795.2 538.6,794.3 539.6,793.4 540.6,792.5 541.6,791.7 542.6,790.8 543.6,790.0 544.6,789.2 545.6,788.4 546.6,787.6 547.6,786.8 548.6,786.1 549.6,785.4 550.6,784.7 551.6,784.1 552.6,783.4 553.6,782.9 554.6,782.3 555.6,781.8 556.6,781.3 557.6,780.8 558.6,780.4 559.6,780.0 560.6,779.6 561.6,779.3 562.6,779.0 563.6,778.8 564.6,778.6 565.6,778.5 566.6,778.3 567.6,778.3 568.6,778.2 569.6,778.3 570.6,778.3 571.6,778.4 572.6,778.6 573.6,778.8 574.6,779.0 575.6,779.3 576.6,779.7 577.6,780.1 578.6,780.5 579.6,781.0 580.6,781.6 581.6,782.1 582.6,782.8 583.6,783.5 584.6,784.2 585.6,785.0 586.6,785.8 587.6,786.7 588.6,787.6 589.6,788.6 590.6,789.6 591.6,790.7 592.6,791.8 593.6,793.0 594.6,794.2 595.6,795.4 596.6,796.7 597.6,798.1 598.6,799.5 599.6,800.9 600.6,802.3 601.6,803.8 602.6,805.4 603.6,807.0 604.6,808.6 605.6,810.2 606.6,811.9 607.6,813.6 608.6,815.3 609.6,817.1 610.6,818.9 611.6,820.7 612.6,822.6 613.6,824.5 614.6,826.4 615.6,828.3 616.6,830.2 617.6,832.1 618.6,834.1 619.6,836.1 620.6,838.0 621.6,840.0 622.6,842.0 623.6,844.0 624.6,846.0 625.6,848.0 626.6,850.0 627.6,852.0 628.6,853.9 629.6,855.9 630.6,857.9 631.6,859.8 632.6,861.8 633.6,863.7 634.6,865.6 635.6,867.5 636.6,869.3 637.6,871.2 638.6,873.0 639.6,874.8 640.6,876.6 641.6,878.3 642.6,880.0 643.6,881.7 644.6,883.4 645.6,885.0 646.6,886.6 647.6,888.2 648.6,889.8 649.6,891.3 650.6,892.8 651.6,894.2 652.6,895.7 653.6,897.1 654.6,898.5 655.6,899.8 656.6,901.2 657.6,902.5 658.6,903.8 659.6,905.0 660.6,906.3 661.6,907.5 662.6,908.7 663.6,909.9 664.6,911.1 665.6,912.3 666.6,913.5 667.6,914.6 668.6,915.8 669.6,917.0 670.6,918.1 671.6,919.3 672.6,920.4 673.6,921.6 674.6,922.7 675.6,923.9 676.6,925.1 677.6,926.2 678.6,927.4 679.6,928.6 680.6,929.8 681.6,931.0 682.6,932.3 683.6,933.5 684.6,934.7 685.6,936.0 686.6,937.3 687.6,938.6 688.6,939.9 689.6,941.2 690.6,942.5 691.6,943.8 692.6,945.2 693.6,946.5 694.6,947.9 695.6,949.2 696.6,950.6 697.6,952.0 698.6,953.3 699.6,954.7 700.6,956.1 701.6,957.5 702.6,958.9 703.6,960.2 704.6,961.6 705.6,963.0 706.6,964.3 707.6,965.7 708.6,967.0 709.6,968.4 710.6,969.7 711.6,971.0 712.6,972.3 713.6,973.6 714.6,974.8 715.6,976.1 716.6,977.3 717.6,978.5 718.6,979.7 719.6,980.8 720.6,982.0 721.6,983.1 722.6,984.2 723.6,985.3 724.6,986.3 725.6,987.4 726.6,988.4 727.6,989.3 728.6,990.3 729.6,991.2 730.6,992.2 731.6,993.1 732.6,993.9 733.6,994.8 734.6,995.6 735.6,996.4 736.6,997.2 737.6,997.9 738.6,998.7 739.6,999.4 740.6,1000.1 741.6,1000.8 742.6,1001.5 743.6,1002.1 744.6,1002.8 745.6,1003.4 746.6,1004.0 747.6,1004.6 748.6,1005.2 749.6,1005.7 750.6,1006.3 751.6,1006.8 752.6,1007.3 753.6,1007.8 754.6,1008.3 755.6,1008.8 756.6,1009.3 757.6,1009.8 758.6,1010.2 759.6,1010.7 760.6,1011.1 761.6,1011.6 762.6,1012.0 763.6,1012.4 764.6,1012.8 765.6,1013.2 766.6,1013.6 767.6,1014.0 768.6,1014.3 769.6,1014.7 770.6,1015.1 771.6,1015.4 772.6,1015.7 773.6,1016.1 774.6,1016.4 775.6,1016.7 776.6,1017.0 777.6,1017.3 778.6,1017.6 779.6,1017.9 780.6,1018.2 781.6,1018.5 782.6,1018.7 783.6,1019.0 784.6,1019.2 785.6,1019.5 786.6,1019.7 787.6,1019.9 788.6,1020.2 789.6,1020.4 790.6,1020.6 791.6,1020.8 792.6,1021.0 793.6,1021.1 794.6,1021.3 795.6,1021.5 796.6,1021.7 797.6,1021.8 798.6,1022.0 799.6,1022.1 800.6,1022.2 801.6,1022.4 802.6,1022.5 803.6,1022.6 804.6,1022.7 805.6,1022.8 806.6,1022.9 807.6,1023.0 808.6,1023.1 809.6,1023.2 810.6,1023.3 811.6,1023.4 812.6,1023.5 813.6,1023.5 814.6,1023.6 815.6,1023.7 816.6,1023.7 817.6,1023.8 818.6,1023.8 819.6,1023.9 820.6,1023.9 821.6,1024.0 822.6,1024.0 823.6,1024.0 824.6,1024.1 825.6,1024.1 826.6,1024.1 827.6,1024.2 828.6,1024.2 829.6,1024.2 830.6,1024.2 831.6,1024.3 832.6,1024.3 833.6,1024.3 834.6,1024.3 835.6,1024.3 836.6,1024.4 837.6,1024.4 838.6,1024.4 839.6,1024.4 840.6,1024.4 841.6,1024.4 842.6,1024.4 843.6,1024.4 844.6,1024.4 845.6,1024.4 846.6,1024.4 847.6,1024.5 848.6,1024.5 849.6,1024.5 850.6,1024.5 851.6,1024.5 852.6,1024.5 852.8,1024.5" stroke="#000080"/>
<path d="M301.2,1024.3 302.2,1024.3 303.2,1024.2 304.2,1024.2 305.2,1024.2 306.2,1024.2 307.2,1024.1 308.2,1024.1 309.2,1024.1 310.2,1024.0 311.2,1024.0 312.2,1023.9 313.2,1023.9 314.2,1023.8 315.2,1023.8 316.2,1023.7 317.2,1023.6 318.2,1023.5 319.2,1023.5 320.2,1023.4 321.2,1023.3 322.2,1023.2 323.2,1023.1 324.2,1023.0 325.2,1022.9 326.2,1022.7 327.2,1022.6 328.2,1022.5 329.2,1022.3 330.2,1022.2 331.2,1022.0 332.2,1021.8 333.2,1021.6 334.2,1021.4 335.2,1021.2 336.2,1021.0 337.2,1020.8 338.2,1020.6 339.2,1020.3 340.2,1020.1 341.2,1019.8 342.2,1019.5 343.2,1019.2 344.2,1018.9 345.2,1018.6 346.2,1018.2 347.2,1017.9 348.2,1017.6 349.2,1017.2 350.2,1016.8 351.2,1016.4 352.2,1016.0 353.2,1015.6 354.2,1015.2 355.2,1014.7 356.2,1014.3 357.2,1013.8 358.2,1013.3 359.2,1012.9 360.2,1012.4 361.2,1011.9 362.2,1011.4 363.2,1010.9 364.2,1010.3 365.2,1009.8 366.2,1009.3 367.2,1008.7 368.2,1008.2 369.2,1007.6 370.2,1007.1 371.2,1006.5 372.2,1006.0 373.2,1005.4 374.2,1004.9 375.2,1004.4 376.2,1003.8 377.2,1003.3 378.2,1002.7 379.2,1002.2 380.2,1001.7 381.2,1001.2 382.2,1000.7 383.2,1000.2 384.2,999.7 385.2,999.2 386.2,998.7 387.2,998.3 388.2,997.8 389.2,997.4 390.2,997.0 391.2,996.6 392.2,996.2 393.2,995.8 394.2,995.5 395.2,995.1 396.2,994.8 397.2,994.5 398.2,994.2 399.2,993.9 400.2,993.6 401.2,993.4 402.2,993.1 403.2,992.9 404.2,992.6 405.2,992.4 406.2,992.2 407.2,992.0 408.2,991.8 409.2,991.5 410.2,991.3 411.2,991.1 412.2,990.9 413.2,990.7 414.2,990.5 415.2,990.2 416.2,990.0 417.2,989.7 418.2,989.5 419.2,989.2 420.2,988.9 421.2,988.5 422.2,988.2 423.2,987.8 424.2,987.4 425.2,986.9 426.2,986.5 427.2,985.9 428.2,985.4 429.2,984.8 430.2,984.2 431.2,983.5 432.2,982.8 433.2,982.0 434.2,981.2 435.2,980.3 436.2,979.4 437.2,978.4 438.2,977.3 439.2,976.3 440.2,975.1 441.2,973.9 442.2,972.6 443.2,971.3 444.2,969.9 445.2,968.5 446.2,967.0 447.2,965.4 448.2,963.8 449.2,962.2 450.2,960.4 451.2,958.7 452.2,956.8 453.2,954.9 454.2,953.0 455.2,951.0 456.2,949.0 457.2,946.9 458.2,944.8 459.2,942.6 460.2,940.4 461.2,938.2 462.2,935.9 463.2,933.6 464.2,931.2 465.2,928.9 466.2,926.5 467.2,924.1 468.2,921.6 469.2,919.2 470.2,916.7 471.2,914.3 472.2,911.8 473.2,909.3 474.2,906.8 475.2,904.3 476.2,901.8 477.2,899.3 478.2,896.9 479.2,894.4 480.2,891.9 481.2,889.5 482.2,887.1 483.2,884.6 484.2,882.2 485.2,879.9 486.2,877.5 487.2,875.2 488.2,872.9 489.2,870.6 490.2,868.3 491.2,866.1 492.2,863.9 493.2,861.8 494.2,859.6 495.2,857.5 496.2,855.4 497.2,853.4 498.2,851.4 499.2,849.4 500.2,847.5 501.2,845.6 502.2,843.7 503.2,841.9 504.2,840.1 505.2,838.3 506.2,836.6 507.2,834.9 508.2,833.3 509.2,831.6 510.2,830.1 511.2,828.5 512.2,827.0 513.2,825.6 514.2,824.1 515.2,822.7 516.2,821.4 517.2,820.1 518.2,818.8 519.2,817.5 520.2,816.3 521.2,815.2 522.2,814.0 523.2,812.9 524.2,811.9 525.2,810.9 526.2,809.9 527.2,809.0 528.2,808.0 529.2,807.2 530.2,806.3 531.2,805.5 532.2,804.8 533.2,804.1 534.2,803.4 535.2,802.7 536.2,802.1 537.2,801.5 538.2,800.9 539.2,800.4 540.2,799.8 541.2,799.4 542.2,798.9 543.2,798.5 544.2,798.1 545.2,797.7 546.2,797.3 547.2,797.0 548.2,796.6 549.2,796.3 550.2,796.0 551.2,795.7 552.2,795.4 553.2,795.2 554.2,794.9 555.2,794.7 556.2,794.4 557.2,794.2 558.2,794.0 559.2,793.7 560.2,793.5 561.2,793.3 562.2,793.0 563.2,792.8 564.2,792.6 565.2,792.3 566.2,792.1 567.2,791.8 568.2,791.5 569.2,791.2 570.2,791.0 571.2,790.7 572.2,790.3 573.2,790.0 574.2,789.7 575.2,789.3 576.2,789.0 577.2,788.6 578.2,788.3 579.2,787.9 580.2,787.5 581.2,787.1 582.2,786.6 583.2,786.2 584.2,785.8 585.2,785.3 586.2,784.9 587.2,784.4 588.2,783.9 589.2,783.5 590.2,783.0 591.2,782.5 592.2,782.0 593.2,781.6 594.2,781.1 595.2,780.6 596.2,780.2 597.2,779.7 598.2,779.3 599.2,778.8 600.2,778.4 601.2,778.0 602.2,777.6 603.2,777.3 604.2,776.9 605.2,776.6 606.2,776.3 607.2,776.0 608.2,775.8 609.2,775.6 610.2,775.4 611.2,775.3 612.2,775.2 613.2,775.1 614.2,775.1 615.2,775.1 616.2,775.2 617.2,775.3 618.2,775.5 619.2,775.7 620.2,776.0 621.2,776.3 622.2,776.7 623.2,777.2 624.2,777.7 625.2,778.2 626.2,778.8 627.2,779.5 628.2,780.2 629.2,781.0 630.2,781.9 631.2,782.8 632.2,783.8 633.2,784.8 634.2,785.9 635.2,787.0 636.2,788.2 637.2,789.5 638.2,790.8 639.2,792.1 640.2,793.5 641.2,795.0 642.2,796.5 643.2,798.0 644.2,799.6 645.2,801.2 646.2,802.9 647.2,804.6 648.2,806.3 649.2,808.1 650.2,809.9 651.2,811.7 652.2,813.6 653.2,815.5 654.2,817.4 655.2,819.3 656.2,821.3 657.2,823.2 658.2,825.2 659.2,827.2 660.2,829.2 661.2,831.2 662.2,833.2 663.2,835.3 664.2,837.3 665.2,839.4 666.2,841.4 667.2,843.5 668.2,845.6 669.2,847.6 670.2,849.7 671.2,851.8 672.2,853.8 673.2,855.9 674.2,858.0 675.2,860.1 676.2,862.2 677.2,864.2 678.2,866.3 679.2,868.4 680.2,870.5 681.2,872.6 682.2,874.7 683.2,876.7 684.2,878.8 685.2,880.9 686.2,883.0 687.2,885.1 688.2,887.2 689.2,889.3 690.2,891.4 691.2,893.5 692.2,895.6 693.2,897.6 694.2,899.7 695.2,901.8 696.2,903.9 697.2,906.0 698.2,908.0 699.2,910.1 700.2,912.1 701.2,914.2 702.2,916.2 703.2,918.3 704.2,920.3 705.2,922.3 706.2,924.3 707.2,926.3 708.2,928.2 709.2,930.2 710.2,932.1 711.2,934.1 712.2,936.0 713.2,937.8 714.2,939.7 715.2,941.5 716.2,943.3 717.2,945.1 718.2,946.9 719.2,948.7 720.2,950.4 721.2,952.1 722.2,953.7 723.2,955.4 724.2,957.0 725.2,958.6 726.2,960.1 727.2,961.7 728.2,963.2 729.2,964.6 730.2,966.1 731.2,967.5 732.2,968.9 733.2,970.3 734.2,971.6 735.2,972.9 736.2,974.2 737.2,975.5 738.2,976.7 739.2,978.0 740.2,979.1 741.2,980.3 742.2,981.5 743.2,982.6 744.2,983.7 745.2,984.8 746.2,985.8 747.2,986.9 748.2,987.9 749.2,988.9 750.2,989.9 751.2,990.8 752.2,991.8 753.2,992.7 754.2,993.6 755.2,994.5 756.2,995.4 757.2,996.3 758.2,997.1 759.2,997.9 760.2,998.7 761.2,999.6 762.2,1000.3 763.2,1001.1 764.2,1001.9 765.2,1002.6 766.2,1003.4 767.2,1004.1 768.2,1004.8 769.2,1005.5 770.2,1006.1 771.2,1006.8 772.2,1007.5 773.2,1008.1 774.2,1008.7 775.2,1009.3 776.2,1009.9 777.2,1010.5 778.2,1011.1 779.2,1011.6 780.2,1012.1 781.2,1012.7 782.2,1013.2 783.2,1013.7 784.2,1014.1 785.2,1014.6 786.2,1015.1 787.2,1015.5 788.2,1015.9 789.2,1016.3 790.2,1016.7 791.2,1017.1 792.2,1017.5 793.2,1017.9 794.2,1018.2 795.2,1018.5 796.2,1018.8 797.2,1019.2 798.2,1019.4 799.2,1019.7 800.2,1020.0 801.2,1020.3 802.2,1020.5 803.2,1020.7 804.2,1021.0 805.2,1021.2 806.2,1021.4 807.2,1021.6 808.2,1021.8 809.2,1021.9 810.2,1022.1 811.2,1022.3 812.2,1022.4 813.2,1022.6 814.2,1022.7 815.2,1022.8 816.2,1022.9 817.2,1023.0 818.2,1023.1 819.2,1023.2 820.2,1023.3 821.2,1023.4 822.2,1023.5 823.2,1023.6 824.2,1023.6 825.2,1023.7 826.2,1023.8 827.2,1023.8 828.2,1023.9 829.2,1023.9 830.2,1024.0 831.2,1024.0 832.2,1024.1 833.2,1024.1 834.2,1024.1 835.2,1024.2 836.2,1024.2 837.2,1024.2 838.2,1024.2 838.8,1024.3" stroke="#add8e6"/>
</g>
<line x1="489.5" y1="651.50" x2="489.5" y2="1038.5" stroke="#000" stroke-width="1.95" stroke-linecap="round" stroke-dasharray="1.7 5.055"/>
<g stroke="#000" stroke-width="1.67" fill="none" stroke-linecap="round" stroke-linejoin="round">
<rect x="87.2" y="650.1" width="835.8" height="389.4"/>
<line x1="195.4" y1="1039.5" x2="195.4" y2="1051.5"/>
<line x1="350.1" y1="1039.5" x2="350.1" y2="1051.5"/>
<line x1="504.8" y1="1039.5" x2="504.8" y2="1051.5"/>
<line x1="659.5" y1="1039.5" x2="659.5" y2="1051.5"/>
<line x1="814.2" y1="1039.5" x2="814.2" y2="1051.5"/>
<line x1="75.2" y1="1024.5" x2="87.2" y2="1024.5"/>
<line x1="75.2" y1="952.5" x2="87.2" y2="952.5"/>
<line x1="75.2" y1="880.5" x2="87.2" y2="880.5"/>
<line x1="75.2" y1="808.6" x2="87.2" y2="808.6"/>
<line x1="75.2" y1="736.6" x2="87.2" y2="736.6"/>
<line x1="75.2" y1="664.6" x2="87.2" y2="664.6"/>
</g>
<g stroke="#000" stroke-width="0.2">
<text transform="translate(195.4,1079.7) scale(1,1.04)" text-anchor="middle" font-size="18.6">6</text>
<text transform="translate(350.1,1079.7) scale(1,1.04)" text-anchor="middle" font-size="18.6">8</text>
<text transform="translate(504.8,1079.7) scale(1,1.04)" text-anchor="middle" font-size="18.6">10</text>
<text transform="translate(659.5,1079.7) scale(1,1.04)" text-anchor="middle" font-size="18.6">12</text>
<text transform="translate(814.2,1079.7) scale(1,1.04)" text-anchor="middle" font-size="18.6">14</text>
<text transform="translate(59.9,1024.5) rotate(-90) scale(1,1.04)" text-anchor="middle" font-size="18.6">0.0</text>
<text transform="translate(59.9,952.5) rotate(-90) scale(1,1.04)" text-anchor="middle" font-size="18.6">0.1</text>
<text transform="translate(59.9,880.5) rotate(-90) scale(1,1.04)" text-anchor="middle" font-size="18.6">0.2</text>
<text transform="translate(59.9,808.6) rotate(-90) scale(1,1.04)" text-anchor="middle" font-size="18.6">0.3</text>
<text transform="translate(59.9,736.6) rotate(-90) scale(1,1.04)" text-anchor="middle" font-size="18.6">0.4</text>
<text transform="translate(59.9,664.6) rotate(-90) scale(1,1.04)" text-anchor="middle" font-size="18.6">0.5</text>
<text transform="translate(504.6,612.2) scale(1,1.04)" text-anchor="middle" font-size="22.4" font-weight="bold" stroke="none">TCGA-BC cohort</text>
<text transform="translate(505.1,1124.6) scale(1,1.04)" text-anchor="middle" font-size="18.6">log2 gene expression</text>
<text transform="translate(15.2,845.5) rotate(-90) scale(1,1.04)" text-anchor="middle" font-size="18.6">density</text>
<text transform="translate(155.2,679.7) scale(1,1.04)" text-anchor="start" font-size="18.6">TN</text>
<text transform="translate(155.2,702.2) scale(1,1.04)" text-anchor="start" font-size="18.6">HER2+</text>
<text transform="translate(155.2,724.6) scale(1,1.04)" text-anchor="start" font-size="18.6">LA</text>
<text transform="translate(155.2,747.1) scale(1,1.04)" text-anchor="start" font-size="18.6">LB2</text>
</g>
<text transform="translate(102.4,634.7) scale(0.885,1)" font-size="47" font-weight="bold" style="font-family:'DejaVu Sans','Liberation Sans',sans-serif">B</text>
<g fill="none" stroke-width="5.4" stroke-linecap="round">
<line x1="104.2" y1="672.8" x2="137.4" y2="672.8" stroke="#ff0000"/>
<line x1="104.2" y1="695.3" x2="137.4" y2="695.3" stroke="#ff62b0"/>
<line x1="104.2" y1="717.7" x2="137.4" y2="717.7" stroke="#000080"/>
<line x1="104.2" y1="740.2" x2="137.4" y2="740.2" stroke="#9ac0cd"/>
</g>
</g>
<g id="panel-D">
<clipPath id="clipD"><rect x="1062.2" y="650.1" width="835.8" height="389.4"/></clipPath>
<g clip-path="url(#clipD)" fill="none" stroke-width="5.4" stroke-linecap="round" stroke-linejoin="round">
<path d="M1301.2,1024.3 1302.2,1024.3 1303.2,1024.3 1304.2,1024.3 1305.2,1024.2 1306.2,1024.2 1307.2,1024.2 1308.2,1024.2 1309.2,1024.1 1310.2,1024.1 1311.2,1024.0 1312.2,1024.0 1313.2,1024.0 1314.2,1023.9 1315.2,1023.9 1316.2,1023.8 1317.2,1023.7 1318.2,1023.7 1319.2,1023.6 1320.2,1023.5 1321.2,1023.5 1322.2,1023.4 1323.2,1023.3 1324.2,1023.2 1325.2,1023.1 1326.2,1023.0 1327.2,1022.8 1328.2,1022.7 1329.2,1022.6 1330.2,1022.4 1331.2,1022.3 1332.2,1022.1 1333.2,1021.9 1334.2,1021.8 1335.2,1021.6 1336.2,1021.4 1337.2,1021.1 1338.2,1020.9 1339.2,1020.7 1340.2,1020.4 1341.2,1020.2 1342.2,1019.9 1343.2,1019.6 1344.2,1019.3 1345.2,1019.0 1346.2,1018.6 1347.2,1018.3 1348.2,1017.9 1349.2,1017.5 1350.2,1017.1 1351.2,1016.7 1352.2,1016.3 1353.2,1015.8 1354.2,1015.4 1355.2,1014.9 1356.2,1014.4 1357.2,1013.9 1358.2,1013.4 1359.2,1012.8 1360.2,1012.3 1361.2,1011.7 1362.2,1011.1 1363.2,1010.5 1364.2,1009.9 1365.2,1009.2 1366.2,1008.6 1367.2,1007.9 1368.2,1007.2 1369.2,1006.5 1370.2,1005.8 1371.2,1005.1 1372.2,1004.4 1373.2,1003.6 1374.2,1002.9 1375.2,1002.1 1376.2,1001.4 1377.2,1000.6 1378.2,999.8 1379.2,999.0 1380.2,998.2 1381.2,997.4 1382.2,996.7 1383.2,995.9 1384.2,995.1 1385.2,994.3 1386.2,993.5 1387.2,992.7 1388.2,991.9 1389.2,991.1 1390.2,990.3 1391.2,989.5 1392.2,988.7 1393.2,987.9 1394.2,987.2 1395.2,986.4 1396.2,985.6 1397.2,984.9 1398.2,984.1 1399.2,983.4 1400.2,982.7 1401.2,981.9 1402.2,981.2 1403.2,980.5 1404.2,979.8 1405.2,979.0 1406.2,978.3 1407.2,977.6 1408.2,976.9 1409.2,976.2 1410.2,975.5 1411.2,974.8 1412.2,974.0 1413.2,973.3 1414.2,972.6 1415.2,971.8 1416.2,971.1 1417.2,970.3 1418.2,969.5 1419.2,968.7 1420.2,967.9 1421.2,967.1 1422.2,966.2 1423.2,965.3 1424.2,964.4 1425.2,963.4 1426.2,962.5 1427.2,961.5 1428.2,960.4 1429.2,959.3 1430.2,958.2 1431.2,957.1 1432.2,955.9 1433.2,954.7 1434.2,953.4 1435.2,952.1 1436.2,950.8 1437.2,949.4 1438.2,947.9 1439.2,946.5 1440.2,944.9 1441.2,943.4 1442.2,941.8 1443.2,940.1 1444.2,938.4 1445.2,936.7 1446.2,935.0 1447.2,933.2 1448.2,931.4 1449.2,929.5 1450.2,927.6 1451.2,925.7 1452.2,923.8 1453.2,921.9 1454.2,919.9 1455.2,917.9 1456.2,915.9 1457.2,913.9 1458.2,912.0 1459.2,910.0 1460.2,908.0 1461.2,906.0 1462.2,904.0 1463.2,902.1 1464.2,900.1 1465.2,898.2 1466.2,896.3 1467.2,894.5 1468.2,892.6 1469.2,890.9 1470.2,889.1 1471.2,887.4 1472.2,885.7 1473.2,884.1 1474.2,882.6 1475.2,881.0 1476.2,879.6 1477.2,878.2 1478.2,876.8 1479.2,875.5 1480.2,874.3 1481.2,873.1 1482.2,872.0 1483.2,871.0 1484.2,870.0 1485.2,869.1 1486.2,868.2 1487.2,867.4 1488.2,866.6 1489.2,865.9 1490.2,865.2 1491.2,864.6 1492.2,864.1 1493.2,863.6 1494.2,863.1 1495.2,862.7 1496.2,862.3 1497.2,862.0 1498.2,861.7 1499.2,861.4 1500.2,861.2 1501.2,861.0 1502.2,860.8 1503.2,860.6 1504.2,860.4 1505.2,860.3 1506.2,860.2 1507.2,860.0 1508.2,859.9 1509.2,859.8 1510.2,859.7 1511.2,859.6 1512.2,859.5 1513.2,859.4 1514.2,859.3 1515.2,859.2 1516.2,859.1 1517.2,859.0 1518.2,858.8 1519.2,858.7 1520.2,858.5 1521.2,858.4 1522.2,858.2 1523.2,858.1 1524.2,857.9 1525.2,857.7 1526.2,857.6 1527.2,857.4 1528.2,857.2 1529.2,857.0 1530.2,856.9 1531.2,856.7 1532.2,856.5 1533.2,856.4 1534.2,856.3 1535.2,856.1 1536.2,856.0 1537.2,855.9 1538.2,855.8 1539.2,855.8 1540.2,855.7 1541.2,855.7 1542.2,855.7 1543.2,855.8 1544.2,855.9 1545.2,856.0 1546.2,856.1 1547.2,856.3 1548.2,856.5 1549.2,856.8 1550.2,857.0 1551.2,857.4 1552.2,857.8 1553.2,858.2 1554.2,858.6 1555.2,859.1 1556.2,859.7 1557.2,860.3 1558.2,860.9 1559.2,861.6 1560.2,862.3 1561.2,863.1 1562.2,863.9 1563.2,864.8 1564.2,865.7 1565.2,866.6 1566.2,867.6 1567.2,868.7 1568.2,869.7 1569.2,870.9 1570.2,872.0 1571.2,873.2 1572.2,874.4 1573.2,875.7 1574.2,877.0 1575.2,878.3 1576.2,879.6 1577.2,881.0 1578.2,882.4 1579.2,883.9 1580.2,885.4 1581.2,886.8 1582.2,888.4 1583.2,889.9 1584.2,891.4 1585.2,893.0 1586.2,894.6 1587.2,896.2 1588.2,897.8 1589.2,899.4 1590.2,901.1 1591.2,902.7 1592.2,904.4 1593.2,906.0 1594.2,907.7 1595.2,909.3 1596.2,911.0 1597.2,912.7 1598.2,914.3 1599.2,916.0 1600.2,917.6 1601.2,919.2 1602.2,920.9 1603.2,922.5 1604.2,924.1 1605.2,925.7 1606.2,927.2 1607.2,928.8 1608.2,930.3 1609.2,931.8 1610.2,933.3 1611.2,934.7 1612.2,936.2 1613.2,937.6 1614.2,939.0 1615.2,940.3 1616.2,941.6 1617.2,942.9 1618.2,944.2 1619.2,945.4 1620.2,946.6 1621.2,947.7 1622.2,948.8 1623.2,949.9 1624.2,951.0 1625.2,952.0 1626.2,952.9 1627.2,953.9 1628.2,954.8 1629.2,955.6 1630.2,956.5 1631.2,957.2 1632.2,958.0 1633.2,958.7 1634.2,959.4 1635.2,960.0 1636.2,960.6 1637.2,961.2 1638.2,961.8 1639.2,962.3 1640.2,962.8 1641.2,963.3 1642.2,963.7 1643.2,964.1 1644.2,964.5 1645.2,964.9 1646.2,965.2 1647.2,965.6 1648.2,965.9 1649.2,966.2 1650.2,966.5 1651.2,966.8 1652.2,967.1 1653.2,967.4 1654.2,967.6 1655.2,967.9 1656.2,968.2 1657.2,968.4 1658.2,968.7 1659.2,969.0 1660.2,969.3 1661.2,969.5 1662.2,969.8 1663.2,970.1 1664.2,970.5 1665.2,970.8 1666.2,971.1 1667.2,971.5 1668.2,971.8 1669.2,972.2 1670.2,972.6 1671.2,973.0 1672.2,973.4 1673.2,973.9 1674.2,974.3 1675.2,974.8 1676.2,975.3 1677.2,975.8 1678.2,976.3 1679.2,976.9 1680.2,977.4 1681.2,978.0 1682.2,978.6 1683.2,979.1 1684.2,979.7 1685.2,980.3 1686.2,981.0 1687.2,981.6 1688.2,982.2 1689.2,982.9 1690.2,983.5 1691.2,984.2 1692.2,984.8 1693.2,985.5 1694.2,986.1 1695.2,986.8 1696.2,987.4 1697.2,988.1 1698.2,988.8 1699.2,989.4 1700.2,990.0 1701.2,990.7 1702.2,991.3 1703.2,991.9 1704.2,992.5 1705.2,993.1 1706.2,993.7 1707.2,994.3 1708.2,994.9 1709.2,995.4 1710.2,995.9 1711.2,996.5 1712.2,997.0 1713.2,997.5 1714.2,998.0 1715.2,998.5 1716.2,998.9 1717.2,999.4 1718.2,999.8 1719.2,1000.2 1720.2,1000.6 1721.2,1001.0 1722.2,1001.4 1723.2,1001.8 1724.2,1002.1 1725.2,1002.5 1726.2,1002.8 1727.2,1003.1 1728.2,1003.4 1729.2,1003.7 1730.2,1004.0 1731.2,1004.3 1732.2,1004.6 1733.2,1004.8 1734.2,1005.1 1735.2,1005.4 1736.2,1005.6 1737.2,1005.9 1738.2,1006.1 1739.2,1006.3 1740.2,1006.6 1741.2,1006.8 1742.2,1007.1 1743.2,1007.3 1744.2,1007.5 1745.2,1007.7 1746.2,1008.0 1747.2,1008.2 1748.2,1008.4 1749.2,1008.7 1750.2,1008.9 1751.2,1009.1 1752.2,1009.4 1753.2,1009.6 1754.2,1009.9 1755.2,1010.1 1756.2,1010.4 1757.2,1010.6 1758.2,1010.9 1759.2,1011.1 1760.2,1011.4 1761.2,1011.6 1762.2,1011.9 1763.2,1012.2 1764.2,1012.4 1765.2,1012.7 1766.2,1013.0 1767.2,1013.2 1768.2,1013.5 1769.2,1013.8 1770.2,1014.0 1771.2,1014.3 1772.2,1014.6 1773.2,1014.8 1774.2,1015.1 1775.2,1015.4 1776.2,1015.6 1777.2,1015.9 1778.2,1016.1 1779.2,1016.4 1780.2,1016.6 1781.2,1016.9 1782.2,1017.1 1783.2,1017.4 1784.2,1017.6 1785.2,1017.8 1786.2,1018.0 1787.2,1018.2 1788.2,1018.5 1789.2,1018.7 1790.2,1018.9 1791.2,1019.0 1792.2,1019.2 1793.2,1019.4 1794.2,1019.6 1795.2,1019.7 1796.2,1019.9 1797.2,1020.0 1798.2,1020.2 1799.2,1020.3 1800.2,1020.4 1801.2,1020.5 1802.2,1020.7 1803.2,1020.8 1804.2,1020.9 1805.2,1020.9 1806.2,1021.0 1807.2,1021.1 1808.2,1021.2 1809.2,1021.2 1810.2,1021.3 1811.2,1021.3 1812.2,1021.4 1813.2,1021.4 1814.2,1021.4 1815.2,1021.4 1816.2,1021.5 1817.2,1021.5 1818.2,1021.5 1819.2,1021.5 1820.2,1021.5 1821.2,1021.5 1822.2,1021.5 1823.2,1021.5 1824.2,1021.4 1825.2,1021.4 1826.2,1021.4 1827.2,1021.4 1828.2,1021.4 1829.2,1021.3 1830.2,1021.3 1831.2,1021.3 1832.2,1021.2 1833.2,1021.2 1834.2,1021.2 1835.2,1021.1 1836.2,1021.1 1837.2,1021.1 1838.2,1021.0 1839.2,1021.0 1840.2,1021.0 1841.2,1021.0 1842.2,1020.9 1843.2,1020.9 1844.2,1020.9 1845.2,1020.9 1846.2,1020.8 1847.2,1020.8 1848.2,1020.8 1849.2,1020.8 1850.2,1020.8 1851.2,1020.8 1852.2,1020.8 1853.2,1020.8 1854.2,1020.8 1855.2,1020.8 1856.2,1020.8 1857.2,1020.8 1858.2,1020.8 1859.2,1020.9 1860.2,1020.9 1861.2,1020.9 1862.2,1020.9 1863.2,1021.0 1864.2,1021.0 1865.2,1021.0 1866.2,1021.1 1867.2,1021.1 1868.2,1021.2 1869.2,1021.2 1870.2,1021.2 1871.2,1021.3 1872.2,1021.4 1873.2,1021.4 1874.2,1021.5 1875.2,1021.5 1876.2,1021.6 1877.2,1021.6 1878.2,1021.7 1879.2,1021.8 1880.2,1021.8 1881.2,1021.9 1882.2,1022.0 1883.2,1022.0 1884.2,1022.1 1885.2,1022.2 1886.2,1022.3 1887.2,1022.3 1888.2,1022.4 1889.2,1022.5 1890.2,1022.5 1891.2,1022.6 1892.2,1022.7 1893.2,1022.7 1894.2,1022.8 1895.2,1022.9 1896.2,1022.9 1897.2,1023.0 1898.2,1023.0 1899.2,1023.1 1900.2,1023.2 1901.2,1023.2 1902.2,1023.3 1903.2,1023.3 1903.8,1023.4" stroke="#ff0000"/>
<path d="M1352.2,1024.4 1353.2,1024.3 1354.2,1024.3 1355.2,1024.3 1356.2,1024.2 1357.2,1024.2 1358.2,1024.1 1359.2,1024.1 1360.2,1024.0 1361.2,1023.9 1362.2,1023.8 1363.2,1023.7 1364.2,1023.6 1365.2,1023.5 1366.2,1023.3 1367.2,1023.2 1368.2,1023.0 1369.2,1022.8 1370.2,1022.6 1371.2,1022.4 1372.2,1022.2 1373.2,1021.9 1374.2,1021.6 1375.2,1021.3 1376.2,1021.0 1377.2,1020.6 1378.2,1020.2 1379.2,1019.8 1380.2,1019.3 1381.2,1018.8 1382.2,1018.3 1383.2,1017.8 1384.2,1017.2 1385.2,1016.6 1386.2,1016.0 1387.2,1015.3 1388.2,1014.6 1389.2,1013.8 1390.2,1013.0 1391.2,1012.2 1392.2,1011.3 1393.2,1010.4 1394.2,1009.5 1395.2,1008.5 1396.2,1007.4 1397.2,1006.3 1398.2,1005.1 1399.2,1003.9 1400.2,1002.6 1401.2,1001.2 1402.2,999.7 1403.2,998.2 1404.2,996.6 1405.2,994.9 1406.2,993.1 1407.2,991.2 1408.2,989.3 1409.2,987.2 1410.2,985.0 1411.2,982.7 1412.2,980.3 1413.2,977.7 1414.2,975.1 1415.2,972.4 1416.2,969.5 1417.2,966.5 1418.2,963.4 1419.2,960.3 1420.2,957.0 1421.2,953.6 1422.2,950.2 1423.2,946.7 1424.2,943.1 1425.2,939.5 1426.2,935.8 1427.2,932.1 1428.2,928.4 1429.2,924.7 1430.2,921.0 1431.2,917.3 1432.2,913.6 1433.2,910.0 1434.2,906.4 1435.2,902.8 1436.2,899.4 1437.2,895.9 1438.2,892.6 1439.2,889.4 1440.2,886.2 1441.2,883.1 1442.2,880.1 1443.2,877.2 1444.2,874.4 1445.2,871.6 1446.2,869.0 1447.2,866.4 1448.2,863.9 1449.2,861.5 1450.2,859.2 1451.2,856.9 1452.2,854.7 1453.2,852.6 1454.2,850.6 1455.2,848.6 1456.2,846.7 1457.2,844.8 1458.2,843.1 1459.2,841.4 1460.2,839.8 1461.2,838.2 1462.2,836.8 1463.2,835.4 1464.2,834.1 1465.2,832.9 1466.2,831.7 1467.2,830.7 1468.2,829.7 1469.2,828.8 1470.2,828.0 1471.2,827.3 1472.2,826.6 1473.2,826.0 1474.2,825.5 1475.2,825.0 1476.2,824.6 1477.2,824.3 1478.2,824.0 1479.2,823.7 1480.2,823.5 1481.2,823.4 1482.2,823.2 1483.2,823.1 1484.2,823.0 1485.2,822.9 1486.2,822.8 1487.2,822.8 1488.2,822.7 1489.2,822.7 1490.2,822.7 1491.2,822.6 1492.2,822.6 1493.2,822.6 1494.2,822.7 1495.2,822.7 1496.2,822.7 1497.2,822.8 1498.2,822.9 1499.2,822.9 1500.2,823.1 1501.2,823.2 1502.2,823.3 1503.2,823.5 1504.2,823.7 1505.2,823.9 1506.2,824.1 1507.2,824.4 1508.2,824.7 1509.2,825.0 1510.2,825.3 1511.2,825.7 1512.2,826.0 1513.2,826.4 1514.2,826.8 1515.2,827.3 1516.2,827.7 1517.2,828.2 1518.2,828.8 1519.2,829.3 1520.2,829.9 1521.2,830.6 1522.2,831.2 1523.2,831.9 1524.2,832.7 1525.2,833.5 1526.2,834.3 1527.2,835.2 1528.2,836.1 1529.2,837.1 1530.2,838.1 1531.2,839.1 1532.2,840.2 1533.2,841.4 1534.2,842.6 1535.2,843.8 1536.2,845.1 1537.2,846.4 1538.2,847.8 1539.2,849.2 1540.2,850.7 1541.2,852.1 1542.2,853.7 1543.2,855.2 1544.2,856.8 1545.2,858.4 1546.2,860.1 1547.2,861.8 1548.2,863.5 1549.2,865.2 1550.2,867.0 1551.2,868.8 1552.2,870.6 1553.2,872.4 1554.2,874.2 1555.2,876.1 1556.2,877.9 1557.2,879.8 1558.2,881.7 1559.2,883.5 1560.2,885.4 1561.2,887.3 1562.2,889.1 1563.2,890.9 1564.2,892.7 1565.2,894.5 1566.2,896.3 1567.2,898.0 1568.2,899.6 1569.2,901.3 1570.2,902.9 1571.2,904.4 1572.2,905.9 1573.2,907.3 1574.2,908.7 1575.2,910.0 1576.2,911.3 1577.2,912.5 1578.2,913.6 1579.2,914.7 1580.2,915.8 1581.2,916.7 1582.2,917.7 1583.2,918.5 1584.2,919.3 1585.2,920.1 1586.2,920.8 1587.2,921.5 1588.2,922.1 1589.2,922.7 1590.2,923.3 1591.2,923.8 1592.2,924.3 1593.2,924.8 1594.2,925.2 1595.2,925.6 1596.2,926.0 1597.2,926.4 1598.2,926.8 1599.2,927.2 1600.2,927.6 1601.2,928.0 1602.2,928.3 1603.2,928.7 1604.2,929.1 1605.2,929.5 1606.2,930.0 1607.2,930.4 1608.2,930.9 1609.2,931.4 1610.2,931.9 1611.2,932.4 1612.2,933.0 1613.2,933.6 1614.2,934.3 1615.2,935.0 1616.2,935.7 1617.2,936.5 1618.2,937.3 1619.2,938.1 1620.2,939.0 1621.2,939.9 1622.2,940.9 1623.2,941.9 1624.2,942.9 1625.2,944.0 1626.2,945.1 1627.2,946.3 1628.2,947.5 1629.2,948.7 1630.2,949.9 1631.2,951.2 1632.2,952.5 1633.2,953.8 1634.2,955.2 1635.2,956.5 1636.2,957.9 1637.2,959.3 1638.2,960.7 1639.2,962.1 1640.2,963.5 1641.2,964.9 1642.2,966.4 1643.2,967.8 1644.2,969.3 1645.2,970.7 1646.2,972.1 1647.2,973.6 1648.2,975.0 1649.2,976.5 1650.2,977.9 1651.2,979.3 1652.2,980.7 1653.2,982.1 1654.2,983.5 1655.2,984.9 1656.2,986.2 1657.2,987.6 1658.2,988.9 1659.2,990.2 1660.2,991.5 1661.2,992.7 1662.2,993.9 1663.2,995.1 1664.2,996.3 1665.2,997.4 1666.2,998.5 1667.2,999.6 1668.2,1000.6 1669.2,1001.7 1670.2,1002.6 1671.2,1003.6 1672.2,1004.5 1673.2,1005.4 1674.2,1006.3 1675.2,1007.1 1676.2,1008.0 1677.2,1008.8 1678.2,1009.5 1679.2,1010.3 1680.2,1011.0 1681.2,1011.7 1682.2,1012.4 1683.2,1013.0 1684.2,1013.6 1685.2,1014.3 1686.2,1014.8 1687.2,1015.4 1688.2,1016.0 1689.2,1016.5 1690.2,1017.0 1691.2,1017.5 1692.2,1018.0 1693.2,1018.4 1694.2,1018.8 1695.2,1019.3 1696.2,1019.6 1697.2,1020.0 1698.2,1020.4 1699.2,1020.7 1700.2,1021.0 1701.2,1021.3 1702.2,1021.6 1703.2,1021.9 1704.2,1022.1 1705.2,1022.3 1706.2,1022.5 1707.2,1022.7 1708.2,1022.9 1709.2,1023.1 1710.2,1023.2 1711.2,1023.4 1712.2,1023.5 1713.2,1023.6 1714.2,1023.7 1715.2,1023.8 1716.2,1023.9 1717.2,1024.0 1718.2,1024.0 1719.2,1024.1 1720.2,1024.1 1721.2,1024.2 1722.2,1024.2 1723.2,1024.3 1724.2,1024.3 1725.2,1024.3 1726.2,1024.4 1726.8,1024.4" stroke="#ff62b0"/>
<path d="M1295.2,1024.4 1296.2,1024.3 1297.2,1024.3 1298.2,1024.3 1299.2,1024.3 1300.2,1024.2 1301.2,1024.2 1302.2,1024.1 1303.2,1024.1 1304.2,1024.0 1305.2,1024.0 1306.2,1023.9 1307.2,1023.8 1308.2,1023.8 1309.2,1023.7 1310.2,1023.6 1311.2,1023.5 1312.2,1023.4 1313.2,1023.3 1314.2,1023.2 1315.2,1023.1 1316.2,1022.9 1317.2,1022.8 1318.2,1022.7 1319.2,1022.6 1320.2,1022.4 1321.2,1022.3 1322.2,1022.1 1323.2,1022.0 1324.2,1021.9 1325.2,1021.7 1326.2,1021.6 1327.2,1021.5 1328.2,1021.3 1329.2,1021.2 1330.2,1021.1 1331.2,1020.9 1332.2,1020.8 1333.2,1020.7 1334.2,1020.5 1335.2,1020.4 1336.2,1020.3 1337.2,1020.1 1338.2,1020.0 1339.2,1019.9 1340.2,1019.7 1341.2,1019.6 1342.2,1019.4 1343.2,1019.2 1344.2,1019.0 1345.2,1018.8 1346.2,1018.6 1347.2,1018.4 1348.2,1018.2 1349.2,1017.9 1350.2,1017.6 1351.2,1017.3 1352.2,1017.0 1353.2,1016.6 1354.2,1016.2 1355.2,1015.8 1356.2,1015.4 1357.2,1014.9 1358.2,1014.4 1359.2,1013.9 1360.2,1013.3 1361.2,1012.7 1362.2,1012.1 1363.2,1011.4 1364.2,1010.7 1365.2,1010.0 1366.2,1009.2 1367.2,1008.3 1368.2,1007.5 1369.2,1006.5 1370.2,1005.5 1371.2,1004.4 1372.2,1003.3 1373.2,1002.1 1374.2,1000.8 1375.2,999.5 1376.2,998.1 1377.2,996.6 1378.2,995.0 1379.2,993.3 1380.2,991.6 1381.2,989.7 1382.2,987.8 1383.2,985.8 1384.2,983.6 1385.2,981.4 1386.2,979.1 1387.2,976.6 1388.2,974.1 1389.2,971.4 1390.2,968.6 1391.2,965.7 1392.2,962.7 1393.2,959.6 1394.2,956.3 1395.2,952.9 1396.2,949.3 1397.2,945.6 1398.2,941.7 1399.2,937.7 1400.2,933.5 1401.2,929.2 1402.2,924.7 1403.2,920.0 1404.2,915.2 1405.2,910.3 1406.2,905.2 1407.2,899.9 1408.2,894.6 1409.2,889.2 1410.2,883.7 1411.2,878.1 1412.2,872.5 1413.2,866.8 1414.2,861.2 1415.2,855.6 1416.2,850.1 1417.2,844.6 1418.2,839.3 1419.2,834.1 1420.2,829.1 1421.2,824.2 1422.2,819.6 1423.2,815.1 1424.2,810.9 1425.2,806.9 1426.2,803.1 1427.2,799.6 1428.2,796.3 1429.2,793.3 1430.2,790.4 1431.2,787.8 1432.2,785.4 1433.2,783.2 1434.2,781.2 1435.2,779.3 1436.2,777.6 1437.2,776.0 1438.2,774.6 1439.2,773.3 1440.2,772.1 1441.2,771.1 1442.2,770.1 1443.2,769.3 1444.2,768.6 1445.2,768.1 1446.2,767.6 1447.2,767.3 1448.2,767.1 1449.2,767.1 1450.2,767.3 1451.2,767.6 1452.2,768.0 1453.2,768.7 1454.2,769.5 1455.2,770.4 1456.2,771.6 1457.2,772.9 1458.2,774.3 1459.2,775.9 1460.2,777.6 1461.2,779.4 1462.2,781.3 1463.2,783.3 1464.2,785.3 1465.2,787.4 1466.2,789.5 1467.2,791.6 1468.2,793.6 1469.2,795.7 1470.2,797.6 1471.2,799.5 1472.2,801.3 1473.2,803.1 1474.2,804.7 1475.2,806.2 1476.2,807.5 1477.2,808.8 1478.2,809.9 1479.2,810.8 1480.2,811.7 1481.2,812.4 1482.2,813.0 1483.2,813.5 1484.2,813.9 1485.2,814.2 1486.2,814.4 1487.2,814.6 1488.2,814.8 1489.2,814.9 1490.2,815.0 1491.2,815.2 1492.2,815.4 1493.2,815.6 1494.2,815.9 1495.2,816.3 1496.2,816.7 1497.2,817.3 1498.2,818.1 1499.2,818.9 1500.2,819.9 1501.2,821.1 1502.2,822.4 1503.2,823.8 1504.2,825.4 1505.2,827.1 1506.2,829.0 1507.2,831.0 1508.2,833.1 1509.2,835.3 1510.2,837.6 1511.2,840.0 1512.2,842.5 1513.2,845.0 1514.2,847.6 1515.2,850.2 1516.2,852.9 1517.2,855.6 1518.2,858.4 1519.2,861.1 1520.2,863.9 1521.2,866.7 1522.2,869.5 1523.2,872.3 1524.2,875.1 1525.2,877.9 1526.2,880.8 1527.2,883.6 1528.2,886.5 1529.2,889.3 1530.2,892.2 1531.2,895.0 1532.2,897.8 1533.2,900.6 1534.2,903.4 1535.2,906.2 1536.2,908.8 1537.2,911.5 1538.2,914.0 1539.2,916.5 1540.2,918.8 1541.2,921.1 1542.2,923.3 1543.2,925.3 1544.2,927.2 1545.2,929.0 1546.2,930.7 1547.2,932.2 1548.2,933.7 1549.2,935.0 1550.2,936.2 1551.2,937.2 1552.2,938.2 1553.2,939.1 1554.2,940.0 1555.2,940.8 1556.2,941.5 1557.2,942.2 1558.2,942.9 1559.2,943.6 1560.2,944.4 1561.2,945.1 1562.2,945.8 1563.2,946.6 1564.2,947.5 1565.2,948.4 1566.2,949.4 1567.2,950.4 1568.2,951.5 1569.2,952.6 1570.2,953.8 1571.2,955.0 1572.2,956.4 1573.2,957.7 1574.2,959.1 1575.2,960.5 1576.2,962.0 1577.2,963.5 1578.2,965.0 1579.2,966.5 1580.2,968.1 1581.2,969.6 1582.2,971.1 1583.2,972.6 1584.2,974.1 1585.2,975.6 1586.2,977.1 1587.2,978.5 1588.2,979.9 1589.2,981.2 1590.2,982.5 1591.2,983.8 1592.2,985.0 1593.2,986.2 1594.2,987.4 1595.2,988.5 1596.2,989.6 1597.2,990.6 1598.2,991.6 1599.2,992.6 1600.2,993.5 1601.2,994.4 1602.2,995.2 1603.2,996.1 1604.2,996.9 1605.2,997.7 1606.2,998.4 1607.2,999.2 1608.2,999.9 1609.2,1000.6 1610.2,1001.4 1611.2,1002.1 1612.2,1002.8 1613.2,1003.4 1614.2,1004.1 1615.2,1004.8 1616.2,1005.5 1617.2,1006.1 1618.2,1006.8 1619.2,1007.4 1620.2,1008.1 1621.2,1008.7 1622.2,1009.3 1623.2,1009.9 1624.2,1010.5 1625.2,1011.1 1626.2,1011.6 1627.2,1012.2 1628.2,1012.7 1629.2,1013.2 1630.2,1013.7 1631.2,1014.1 1632.2,1014.6 1633.2,1015.0 1634.2,1015.4 1635.2,1015.7 1636.2,1016.1 1637.2,1016.4 1638.2,1016.7 1639.2,1016.9 1640.2,1017.2 1641.2,1017.4 1642.2,1017.5 1643.2,1017.7 1644.2,1017.8 1645.2,1017.9 1646.2,1018.0 1647.2,1018.1 1648.2,1018.1 1649.2,1018.1 1650.2,1018.1 1651.2,1018.1 1652.2,1018.0 1653.2,1018.0 1654.2,1017.9 1655.2,1017.8 1656.2,1017.7 1657.2,1017.6 1658.2,1017.5 1659.2,1017.3 1660.2,1017.2 1661.2,1017.0 1662.2,1016.9 1663.2,1016.7 1664.2,1016.6 1665.2,1016.4 1666.2,1016.3 1667.2,1016.1 1668.2,1016.0 1669.2,1015.9 1670.2,1015.8 1671.2,1015.7 1672.2,1015.6 1673.2,1015.5 1674.2,1015.5 1675.2,1015.4 1676.2,1015.4 1677.2,1015.4 1678.2,1015.4 1679.2,1015.5 1680.2,1015.5 1681.2,1015.6 1682.2,1015.7 1683.2,1015.8 1684.2,1016.0 1685.2,1016.1 1686.2,1016.3 1687.2,1016.5 1688.2,1016.7 1689.2,1016.9 1690.2,1017.2 1691.2,1017.4 1692.2,1017.7 1693.2,1018.0 1694.2,1018.3 1695.2,1018.6 1696.2,1018.8 1697.2,1019.1 1698.2,1019.4 1699.2,1019.7 1700.2,1020.0 1701.2,1020.3 1702.2,1020.6 1703.2,1020.8 1704.2,1021.1 1705.2,1021.3 1706.2,1021.6 1707.2,1021.8 1708.2,1022.0 1709.2,1022.2 1710.2,1022.4 1711.2,1022.5 1712.2,1022.7 1713.2,1022.8 1714.2,1022.9 1715.2,1023.1 1716.2,1023.1 1717.2,1023.2 1718.2,1023.3 1719.2,1023.3 1720.2,1023.4 1721.2,1023.4 1722.2,1023.4 1723.2,1023.5 1724.2,1023.5 1725.2,1023.5 1726.2,1023.5 1727.2,1023.5 1728.2,1023.4 1729.2,1023.4 1730.2,1023.4 1731.2,1023.4 1732.2,1023.4 1733.2,1023.4 1734.2,1023.3 1735.2,1023.3 1736.2,1023.3 1737.2,1023.3 1738.2,1023.3 1739.2,1023.3 1740.2,1023.3 1741.2,1023.3 1742.2,1023.3 1743.2,1023.3 1744.2,1023.3 1745.2,1023.3 1746.2,1023.4 1747.2,1023.4 1748.2,1023.4 1749.2,1023.4 1750.2,1023.5 1751.2,1023.5 1752.2,1023.6 1753.2,1023.6 1754.2,1023.6 1755.2,1023.7 1756.2,1023.7 1757.2,1023.8 1758.2,1023.8 1759.2,1023.9 1760.2,1023.9 1761.2,1024.0 1762.2,1024.0 1763.2,1024.0 1764.2,1024.1 1765.2,1024.1 1766.2,1024.2 1767.2,1024.2 1768.2,1024.2 1769.2,1024.2 1770.2,1024.3 1771.2,1024.3 1772.2,1024.3 1773.2,1024.3 1774.2,1024.4 1775.2,1024.4 1776.2,1024.4 1777.2,1024.4 1778.2,1024.4 1779.2,1024.4 1780.2,1024.4 1781.2,1024.4 1782.2,1024.5 1783.2,1024.5 1784.2,1024.5 1785.2,1024.5 1785.8,1024.5" stroke="#000080"/>
<path d="M1330.2,1024.3 1331.2,1024.2 1332.2,1024.2 1333.2,1024.2 1334.2,1024.1 1335.2,1024.1 1336.2,1024.1 1337.2,1024.0 1338.2,1024.0 1339.2,1023.9 1340.2,1023.8 1341.2,1023.7 1342.2,1023.7 1343.2,1023.6 1344.2,1023.5 1345.2,1023.4 1346.2,1023.3 1347.2,1023.1 1348.2,1023.0 1349.2,1022.8 1350.2,1022.7 1351.2,1022.5 1352.2,1022.3 1353.2,1022.1 1354.2,1021.9 1355.2,1021.7 1356.2,1021.4 1357.2,1021.2 1358.2,1020.9 1359.2,1020.6 1360.2,1020.2 1361.2,1019.9 1362.2,1019.5 1363.2,1019.1 1364.2,1018.7 1365.2,1018.3 1366.2,1017.8 1367.2,1017.3 1368.2,1016.8 1369.2,1016.2 1370.2,1015.6 1371.2,1015.0 1372.2,1014.4 1373.2,1013.7 1374.2,1013.0 1375.2,1012.3 1376.2,1011.5 1377.2,1010.7 1378.2,1009.9 1379.2,1009.0 1380.2,1008.1 1381.2,1007.2 1382.2,1006.3 1383.2,1005.3 1384.2,1004.3 1385.2,1003.2 1386.2,1002.1 1387.2,1001.0 1388.2,999.9 1389.2,998.7 1390.2,997.5 1391.2,996.3 1392.2,995.0 1393.2,993.8 1394.2,992.4 1395.2,991.1 1396.2,989.7 1397.2,988.3 1398.2,986.9 1399.2,985.4 1400.2,984.0 1401.2,982.4 1402.2,980.9 1403.2,979.3 1404.2,977.7 1405.2,976.1 1406.2,974.4 1407.2,972.7 1408.2,970.9 1409.2,969.1 1410.2,967.3 1411.2,965.5 1412.2,963.5 1413.2,961.6 1414.2,959.6 1415.2,957.6 1416.2,955.5 1417.2,953.3 1418.2,951.1 1419.2,948.9 1420.2,946.6 1421.2,944.2 1422.2,941.8 1423.2,939.4 1424.2,936.9 1425.2,934.3 1426.2,931.7 1427.2,929.0 1428.2,926.3 1429.2,923.6 1430.2,920.8 1431.2,917.9 1432.2,915.1 1433.2,912.2 1434.2,909.2 1435.2,906.3 1436.2,903.3 1437.2,900.3 1438.2,897.3 1439.2,894.3 1440.2,891.3 1441.2,888.3 1442.2,885.4 1443.2,882.4 1444.2,879.5 1445.2,876.7 1446.2,873.9 1447.2,871.1 1448.2,868.4 1449.2,865.8 1450.2,863.2 1451.2,860.7 1452.2,858.3 1453.2,856.0 1454.2,853.8 1455.2,851.7 1456.2,849.7 1457.2,847.8 1458.2,846.0 1459.2,844.3 1460.2,842.7 1461.2,841.2 1462.2,839.9 1463.2,838.6 1464.2,837.5 1465.2,836.5 1466.2,835.5 1467.2,834.7 1468.2,834.0 1469.2,833.4 1470.2,832.8 1471.2,832.3 1472.2,831.9 1473.2,831.6 1474.2,831.3 1475.2,831.1 1476.2,831.0 1477.2,830.8 1478.2,830.7 1479.2,830.6 1480.2,830.5 1481.2,830.5 1482.2,830.4 1483.2,830.3 1484.2,830.2 1485.2,830.0 1486.2,829.8 1487.2,829.6 1488.2,829.3 1489.2,828.9 1490.2,828.5 1491.2,828.0 1492.2,827.4 1493.2,826.8 1494.2,826.1 1495.2,825.3 1496.2,824.4 1497.2,823.4 1498.2,822.4 1499.2,821.3 1500.2,820.1 1501.2,818.8 1502.2,817.5 1503.2,816.1 1504.2,814.7 1505.2,813.2 1506.2,811.7 1507.2,810.2 1508.2,808.7 1509.2,807.2 1510.2,805.7 1511.2,804.2 1512.2,802.7 1513.2,801.3 1514.2,800.0 1515.2,798.8 1516.2,797.6 1517.2,796.6 1518.2,795.6 1519.2,794.8 1520.2,794.1 1521.2,793.6 1522.2,793.2 1523.2,793.0 1524.2,793.0 1525.2,793.1 1526.2,793.5 1527.2,794.0 1528.2,794.7 1529.2,795.6 1530.2,796.6 1531.2,797.9 1532.2,799.4 1533.2,801.0 1534.2,802.8 1535.2,804.8 1536.2,806.9 1537.2,809.2 1538.2,811.6 1539.2,814.2 1540.2,816.9 1541.2,819.7 1542.2,822.6 1543.2,825.6 1544.2,828.7 1545.2,831.8 1546.2,835.1 1547.2,838.3 1548.2,841.6 1549.2,844.9 1550.2,848.2 1551.2,851.5 1552.2,854.8 1553.2,858.0 1554.2,861.3 1555.2,864.5 1556.2,867.6 1557.2,870.7 1558.2,873.7 1559.2,876.7 1560.2,879.6 1561.2,882.4 1562.2,885.2 1563.2,887.8 1564.2,890.4 1565.2,892.9 1566.2,895.3 1567.2,897.7 1568.2,899.9 1569.2,902.1 1570.2,904.1 1571.2,906.1 1572.2,908.1 1573.2,909.9 1574.2,911.7 1575.2,913.4 1576.2,915.0 1577.2,916.6 1578.2,918.1 1579.2,919.6 1580.2,921.0 1581.2,922.3 1582.2,923.6 1583.2,924.9 1584.2,926.1 1585.2,927.3 1586.2,928.5 1587.2,929.6 1588.2,930.7 1589.2,931.8 1590.2,932.9 1591.2,933.9 1592.2,935.0 1593.2,936.0 1594.2,937.0 1595.2,938.1 1596.2,939.1 1597.2,940.1 1598.2,941.2 1599.2,942.2 1600.2,943.3 1601.2,944.4 1602.2,945.5 1603.2,946.6 1604.2,947.8 1605.2,949.0 1606.2,950.2 1607.2,951.4 1608.2,952.7 1609.2,953.9 1610.2,955.2 1611.2,956.6 1612.2,958.0 1613.2,959.4 1614.2,960.8 1615.2,962.2 1616.2,963.7 1617.2,965.2 1618.2,966.7 1619.2,968.2 1620.2,969.7 1621.2,971.3 1622.2,972.9 1623.2,974.4 1624.2,976.0 1625.2,977.6 1626.2,979.1 1627.2,980.7 1628.2,982.2 1629.2,983.8 1630.2,985.3 1631.2,986.8 1632.2,988.2 1633.2,989.7 1634.2,991.1 1635.2,992.4 1636.2,993.8 1637.2,995.1 1638.2,996.3 1639.2,997.5 1640.2,998.7 1641.2,999.8 1642.2,1000.9 1643.2,1001.9 1644.2,1002.9 1645.2,1003.8 1646.2,1004.6 1647.2,1005.4 1648.2,1006.2 1649.2,1006.9 1650.2,1007.6 1651.2,1008.2 1652.2,1008.7 1653.2,1009.2 1654.2,1009.7 1655.2,1010.1 1656.2,1010.5 1657.2,1010.9 1658.2,1011.2 1659.2,1011.4 1660.2,1011.7 1661.2,1011.9 1662.2,1012.1 1663.2,1012.2 1664.2,1012.3 1665.2,1012.5 1666.2,1012.5 1667.2,1012.6 1668.2,1012.7 1669.2,1012.7 1670.2,1012.8 1671.2,1012.8 1672.2,1012.8 1673.2,1012.9 1674.2,1012.9 1675.2,1012.9 1676.2,1013.0 1677.2,1013.0 1678.2,1013.1 1679.2,1013.1 1680.2,1013.2 1681.2,1013.3 1682.2,1013.3 1683.2,1013.4 1684.2,1013.5 1685.2,1013.7 1686.2,1013.8 1687.2,1013.9 1688.2,1014.1 1689.2,1014.2 1690.2,1014.4 1691.2,1014.6 1692.2,1014.8 1693.2,1015.0 1694.2,1015.2 1695.2,1015.5 1696.2,1015.7 1697.2,1015.9 1698.2,1016.2 1699.2,1016.4 1700.2,1016.7 1701.2,1017.0 1702.2,1017.2 1703.2,1017.5 1704.2,1017.8 1705.2,1018.0 1706.2,1018.3 1707.2,1018.6 1708.2,1018.8 1709.2,1019.1 1710.2,1019.4 1711.2,1019.6 1712.2,1019.9 1713.2,1020.1 1714.2,1020.3 1715.2,1020.6 1716.2,1020.8 1717.2,1021.0 1718.2,1021.2 1719.2,1021.4 1720.2,1021.6 1721.2,1021.8 1722.2,1022.0 1723.2,1022.2 1724.2,1022.3 1725.2,1022.5 1726.2,1022.6 1727.2,1022.8 1728.2,1022.9 1729.2,1023.0 1730.2,1023.2 1731.2,1023.3 1732.2,1023.4 1733.2,1023.5 1734.2,1023.5 1735.2,1023.6 1736.2,1023.7 1737.2,1023.8 1738.2,1023.8 1739.2,1023.9 1740.2,1024.0 1741.2,1024.0 1742.2,1024.1 1743.2,1024.1 1744.2,1024.1 1745.2,1024.2 1746.2,1024.2 1747.2,1024.2 1748.2,1024.3 1748.8,1024.3" stroke="#add8e6"/>
</g>
<line x1="1441.2" y1="651.50" x2="1441.2" y2="1038.5" stroke="#000" stroke-width="1.95" stroke-linecap="round" stroke-dasharray="1.7 5.055"/>
<g stroke="#000" stroke-width="1.67" fill="none" stroke-linecap="round" stroke-linejoin="round">
<rect x="1062.2" y="650.1" width="835.8" height="389.4"/>
<line x1="1093.0" y1="1039.5" x2="1093.0" y2="1051.5"/>
<line x1="1247.8" y1="1039.5" x2="1247.8" y2="1051.5"/>
<line x1="1402.5" y1="1039.5" x2="1402.5" y2="1051.5"/>
<line x1="1557.2" y1="1039.5" x2="1557.2" y2="1051.5"/>
<line x1="1712.0" y1="1039.5" x2="1712.0" y2="1051.5"/>
<line x1="1866.8" y1="1039.5" x2="1866.8" y2="1051.5"/>
<line x1="1050.2" y1="1024.5" x2="1062.2" y2="1024.5"/>
<line x1="1050.2" y1="912.0" x2="1062.2" y2="912.0"/>
<line x1="1050.2" y1="799.5" x2="1062.2" y2="799.5"/>
<line x1="1050.2" y1="687.0" x2="1062.2" y2="687.0"/>
</g>
<g stroke="#000" stroke-width="0.2">
<text transform="translate(1093.0,1079.7) scale(1,1.04)" text-anchor="middle" font-size="18.6">4</text>
<text transform="translate(1247.8,1079.7) scale(1,1.04)" text-anchor="middle" font-size="18.6">5</text>
<text transform="translate(1402.5,1079.7) scale(1,1.04)" text-anchor="middle" font-size="18.6">6</text>
<text transform="translate(1557.2,1079.7) scale(1,1.04)" text-anchor="middle" font-size="18.6">7</text>
<text transform="translate(1712.0,1079.7) scale(1,1.04)" text-anchor="middle" font-size="18.6">8</text>
<text transform="translate(1866.8,1079.7) scale(1,1.04)" text-anchor="middle" font-size="18.6">9</text>
<text transform="translate(1034.9,1024.5) rotate(-90) scale(1,1.04)" text-anchor="middle" font-size="18.6">0.0</text>
<text transform="translate(1034.9,912.0) rotate(-90) scale(1,1.04)" text-anchor="middle" font-size="18.6">0.5</text>
<text transform="translate(1034.9,799.5) rotate(-90) scale(1,1.04)" text-anchor="middle" font-size="18.6">1.0</text>
<text transform="translate(1034.9,687.0) rotate(-90) scale(1,1.04)" text-anchor="middle" font-size="18.6">1.5</text>
<text transform="translate(1479.6,612.2) scale(1,1.04)" text-anchor="middle" font-size="22.4" font-weight="bold" stroke="none">METABRIC cohort</text>
<text transform="translate(1480.1,1124.6) scale(1,1.04)" text-anchor="middle" font-size="18.6">log2 gene expression</text>
<text transform="translate(990.2,845.5) rotate(-90) scale(1,1.04)" text-anchor="middle" font-size="18.6">density</text>
<text transform="translate(1130.2,679.7) scale(1,1.04)" text-anchor="start" font-size="18.6">TN</text>
<text transform="translate(1130.2,702.2) scale(1,1.04)" text-anchor="start" font-size="18.6">HER2+</text>
<text transform="translate(1130.2,724.6) scale(1,1.04)" text-anchor="start" font-size="18.6">LA</text>
<text transform="translate(1130.2,747.1) scale(1,1.04)" text-anchor="start" font-size="18.6">LB2</text>
</g>
<text transform="translate(1083.4,634.7) scale(0.885,1)" font-size="47" font-weight="bold" style="font-family:'DejaVu Sans','Liberation Sans',sans-serif">D</text>
<g fill="none" stroke-width="5.4" stroke-linecap="round">
<line x1="1079.2" y1="672.8" x2="1112.4" y2="672.8" stroke="#ff0000"/>
<line x1="1079.2" y1="695.3" x2="1112.4" y2="695.3" stroke="#ff62b0"/>
<line x1="1079.2" y1="717.7" x2="1112.4" y2="717.7" stroke="#000080"/>
<line x1="1079.2" y1="740.2" x2="1112.4" y2="740.2" stroke="#9ac0cd"/>
</g>
</g>
</svg>
</body></html>
